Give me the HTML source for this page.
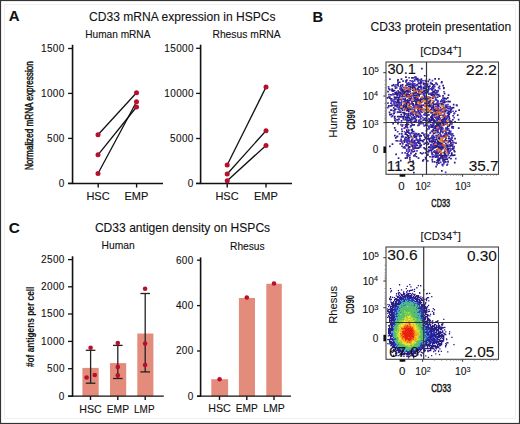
<!DOCTYPE html>
<html><head><meta charset="utf-8"><style>
html,body{margin:0;padding:0;background:#fff;}
svg{display:block;font-family:"Liberation Sans", sans-serif;}
text{stroke:#111;stroke-width:0.1px;}
</style></head><body>
<svg width="520" height="424" viewBox="0 0 520 424">
<rect x="0" y="0" width="520" height="424" fill="#fff"/>
<path fill="#2a1d86" d="M421.0 67.7h1.7v1.7h-1.7zM423.9 74.9h1.7v1.7h-1.7zM405.1 76.2h1.7v1.7h-1.7zM414.1 76.2h1.7v1.7h-1.7zM411.1 77.1h1.7v1.7h-1.7zM412.3 76.9h1.7v1.7h-1.7zM414.9 76.9h1.7v1.7h-1.7zM400.6 78.3h1.7v1.7h-1.7zM415.3 78.3h1.7v1.7h-1.7zM416.9 77.8h1.7v1.7h-1.7zM420.6 78.2h1.7v1.7h-1.7zM434.3 78.1h1.7v1.7h-1.7zM438.0 78.0h1.7v1.7h-1.7zM397.2 78.9h1.7v1.7h-1.7zM406.0 79.2h1.7v1.7h-1.7zM416.3 78.7h1.7v1.7h-1.7zM428.7 78.7h1.7v1.7h-1.7zM397.0 80.0h1.7v1.7h-1.7zM402.2 80.2h1.7v1.7h-1.7zM405.1 80.2h1.7v1.7h-1.7zM405.6 79.7h1.7v1.7h-1.7zM411.2 80.2h1.7v1.7h-1.7zM412.1 80.4h1.7v1.7h-1.7zM417.8 79.6h1.7v1.7h-1.7zM420.1 80.0h1.7v1.7h-1.7zM398.9 81.4h1.7v1.7h-1.7zM419.8 80.8h1.7v1.7h-1.7zM425.2 80.9h1.7v1.7h-1.7zM427.4 80.6h1.7v1.7h-1.7zM441.0 81.0h1.7v1.7h-1.7zM397.3 82.1h1.7v1.7h-1.7zM417.7 82.2h1.7v1.7h-1.7zM419.6 81.7h1.7v1.7h-1.7zM420.6 82.0h1.7v1.7h-1.7zM422.8 82.3h1.7v1.7h-1.7zM435.2 82.2h1.7v1.7h-1.7zM440.7 81.8h1.7v1.7h-1.7zM406.2 82.8h1.7v1.7h-1.7zM408.2 83.3h1.7v1.7h-1.7zM411.7 83.2h1.7v1.7h-1.7zM413.9 82.9h1.7v1.7h-1.7zM419.3 82.8h1.7v1.7h-1.7zM424.3 83.0h1.7v1.7h-1.7zM425.0 83.1h1.7v1.7h-1.7zM425.9 83.3h1.7v1.7h-1.7zM429.7 82.8h1.7v1.7h-1.7zM431.3 83.1h1.7v1.7h-1.7zM392.8 84.1h1.7v1.7h-1.7zM397.0 83.8h1.7v1.7h-1.7zM400.0 84.4h1.7v1.7h-1.7zM401.8 84.1h1.7v1.7h-1.7zM406.8 84.0h1.7v1.7h-1.7zM409.0 83.9h1.7v1.7h-1.7zM410.7 84.0h1.7v1.7h-1.7zM412.1 83.8h1.7v1.7h-1.7zM416.1 83.9h1.7v1.7h-1.7zM416.7 83.8h1.7v1.7h-1.7zM422.7 83.6h1.7v1.7h-1.7zM425.3 84.2h1.7v1.7h-1.7zM432.1 83.9h1.7v1.7h-1.7zM436.4 83.6h1.7v1.7h-1.7zM391.3 84.8h1.7v1.7h-1.7zM391.7 84.9h1.7v1.7h-1.7zM397.3 84.8h1.7v1.7h-1.7zM405.1 84.7h1.7v1.7h-1.7zM412.0 85.2h1.7v1.7h-1.7zM413.0 85.0h1.7v1.7h-1.7zM414.7 84.8h1.7v1.7h-1.7zM424.7 84.9h1.7v1.7h-1.7zM426.3 84.8h1.7v1.7h-1.7zM428.9 85.2h1.7v1.7h-1.7zM433.0 85.1h1.7v1.7h-1.7zM438.6 85.4h1.7v1.7h-1.7zM442.3 84.7h1.7v1.7h-1.7zM394.3 85.6h1.7v1.7h-1.7zM399.4 86.0h1.7v1.7h-1.7zM407.8 85.8h1.7v1.7h-1.7zM409.3 85.9h1.7v1.7h-1.7zM411.4 86.1h1.7v1.7h-1.7zM412.0 86.4h1.7v1.7h-1.7zM413.1 86.1h1.7v1.7h-1.7zM418.0 85.7h1.7v1.7h-1.7zM419.2 86.3h1.7v1.7h-1.7zM419.7 86.1h1.7v1.7h-1.7zM420.7 86.2h1.7v1.7h-1.7zM423.2 86.3h1.7v1.7h-1.7zM425.2 86.1h1.7v1.7h-1.7zM427.4 85.7h1.7v1.7h-1.7zM431.9 86.1h1.7v1.7h-1.7zM394.7 87.4h1.7v1.7h-1.7zM403.1 86.7h1.7v1.7h-1.7zM406.1 87.3h1.7v1.7h-1.7zM409.7 86.7h1.7v1.7h-1.7zM411.9 87.2h1.7v1.7h-1.7zM413.9 87.1h1.7v1.7h-1.7zM417.4 87.1h1.7v1.7h-1.7zM420.3 87.2h1.7v1.7h-1.7zM422.9 87.1h1.7v1.7h-1.7zM424.0 86.7h1.7v1.7h-1.7zM425.4 86.7h1.7v1.7h-1.7zM425.7 86.7h1.7v1.7h-1.7zM428.0 87.1h1.7v1.7h-1.7zM431.0 87.3h1.7v1.7h-1.7zM432.8 87.2h1.7v1.7h-1.7zM437.8 86.9h1.7v1.7h-1.7zM443.1 87.1h1.7v1.7h-1.7zM387.9 87.7h1.7v1.7h-1.7zM391.3 88.2h1.7v1.7h-1.7zM399.3 87.9h1.7v1.7h-1.7zM400.2 88.0h1.7v1.7h-1.7zM400.6 88.3h1.7v1.7h-1.7zM408.2 88.1h1.7v1.7h-1.7zM408.9 88.3h1.7v1.7h-1.7zM414.7 87.7h1.7v1.7h-1.7zM416.9 88.0h1.7v1.7h-1.7zM420.4 87.6h1.7v1.7h-1.7zM422.8 87.9h1.7v1.7h-1.7zM423.7 87.7h1.7v1.7h-1.7zM425.0 88.1h1.7v1.7h-1.7zM428.0 88.2h1.7v1.7h-1.7zM430.9 88.4h1.7v1.7h-1.7zM442.9 87.6h1.7v1.7h-1.7zM389.0 88.8h1.7v1.7h-1.7zM391.9 89.3h1.7v1.7h-1.7zM401.7 88.8h1.7v1.7h-1.7zM411.8 89.4h1.7v1.7h-1.7zM414.8 89.0h1.7v1.7h-1.7zM416.7 89.0h1.7v1.7h-1.7zM418.7 89.1h1.7v1.7h-1.7zM427.9 88.9h1.7v1.7h-1.7zM430.9 88.7h1.7v1.7h-1.7zM431.8 89.0h1.7v1.7h-1.7zM434.3 89.3h1.7v1.7h-1.7zM391.1 89.8h1.7v1.7h-1.7zM392.1 90.2h1.7v1.7h-1.7zM393.7 89.7h1.7v1.7h-1.7zM400.3 90.1h1.7v1.7h-1.7zM401.2 89.9h1.7v1.7h-1.7zM402.1 89.9h1.7v1.7h-1.7zM402.7 89.8h1.7v1.7h-1.7zM405.7 90.0h1.7v1.7h-1.7zM407.2 89.8h1.7v1.7h-1.7zM407.9 89.6h1.7v1.7h-1.7zM412.9 89.8h1.7v1.7h-1.7zM415.1 90.2h1.7v1.7h-1.7zM419.1 89.9h1.7v1.7h-1.7zM423.0 90.3h1.7v1.7h-1.7zM424.0 90.0h1.7v1.7h-1.7zM424.7 90.0h1.7v1.7h-1.7zM427.2 90.0h1.7v1.7h-1.7zM436.1 90.0h1.7v1.7h-1.7zM387.2 90.7h1.7v1.7h-1.7zM395.9 91.2h1.7v1.7h-1.7zM398.0 90.9h1.7v1.7h-1.7zM401.9 91.3h1.7v1.7h-1.7zM404.2 91.1h1.7v1.7h-1.7zM405.1 90.8h1.7v1.7h-1.7zM406.8 90.8h1.7v1.7h-1.7zM408.1 91.1h1.7v1.7h-1.7zM414.4 91.0h1.7v1.7h-1.7zM417.7 90.8h1.7v1.7h-1.7zM420.3 91.2h1.7v1.7h-1.7zM422.6 90.9h1.7v1.7h-1.7zM427.0 90.8h1.7v1.7h-1.7zM432.2 91.1h1.7v1.7h-1.7zM433.2 91.3h1.7v1.7h-1.7zM433.7 90.7h1.7v1.7h-1.7zM436.3 90.8h1.7v1.7h-1.7zM394.3 91.9h1.7v1.7h-1.7zM395.3 92.3h1.7v1.7h-1.7zM398.0 92.1h1.7v1.7h-1.7zM398.9 92.1h1.7v1.7h-1.7zM399.7 92.1h1.7v1.7h-1.7zM403.7 91.6h1.7v1.7h-1.7zM409.9 92.4h1.7v1.7h-1.7zM412.3 92.3h1.7v1.7h-1.7zM412.7 92.3h1.7v1.7h-1.7zM413.9 92.2h1.7v1.7h-1.7zM415.3 92.0h1.7v1.7h-1.7zM421.7 91.6h1.7v1.7h-1.7zM424.3 92.1h1.7v1.7h-1.7zM425.2 92.1h1.7v1.7h-1.7zM425.9 91.9h1.7v1.7h-1.7zM426.7 91.6h1.7v1.7h-1.7zM431.1 92.3h1.7v1.7h-1.7zM432.4 91.9h1.7v1.7h-1.7zM434.8 92.3h1.7v1.7h-1.7zM435.8 92.3h1.7v1.7h-1.7zM394.3 93.0h1.7v1.7h-1.7zM395.4 93.2h1.7v1.7h-1.7zM396.6 92.8h1.7v1.7h-1.7zM399.9 92.8h1.7v1.7h-1.7zM401.3 93.3h1.7v1.7h-1.7zM402.7 92.8h1.7v1.7h-1.7zM403.8 93.1h1.7v1.7h-1.7zM417.0 93.0h1.7v1.7h-1.7zM417.8 92.8h1.7v1.7h-1.7zM418.7 93.4h1.7v1.7h-1.7zM419.8 93.1h1.7v1.7h-1.7zM422.4 93.1h1.7v1.7h-1.7zM423.7 93.2h1.7v1.7h-1.7zM428.1 93.3h1.7v1.7h-1.7zM443.7 92.8h1.7v1.7h-1.7zM389.7 93.9h1.7v1.7h-1.7zM392.8 93.9h1.7v1.7h-1.7zM396.3 94.3h1.7v1.7h-1.7zM396.9 93.7h1.7v1.7h-1.7zM398.9 93.9h1.7v1.7h-1.7zM401.9 94.3h1.7v1.7h-1.7zM405.2 94.3h1.7v1.7h-1.7zM406.3 94.1h1.7v1.7h-1.7zM407.0 93.6h1.7v1.7h-1.7zM408.4 94.0h1.7v1.7h-1.7zM412.7 94.1h1.7v1.7h-1.7zM415.7 94.2h1.7v1.7h-1.7zM418.1 94.1h1.7v1.7h-1.7zM422.7 94.0h1.7v1.7h-1.7zM430.1 93.8h1.7v1.7h-1.7zM431.0 94.3h1.7v1.7h-1.7zM431.9 94.0h1.7v1.7h-1.7zM433.2 93.8h1.7v1.7h-1.7zM436.2 94.1h1.7v1.7h-1.7zM437.8 93.7h1.7v1.7h-1.7zM447.7 94.2h1.7v1.7h-1.7zM398.8 95.0h1.7v1.7h-1.7zM402.2 94.7h1.7v1.7h-1.7zM403.6 95.2h1.7v1.7h-1.7zM404.6 94.9h1.7v1.7h-1.7zM409.2 95.3h1.7v1.7h-1.7zM411.0 95.1h1.7v1.7h-1.7zM412.9 95.1h1.7v1.7h-1.7zM414.4 94.6h1.7v1.7h-1.7zM416.3 95.3h1.7v1.7h-1.7zM418.3 95.0h1.7v1.7h-1.7zM423.9 95.0h1.7v1.7h-1.7zM433.8 95.3h1.7v1.7h-1.7zM438.9 95.3h1.7v1.7h-1.7zM442.2 95.1h1.7v1.7h-1.7zM388.3 96.1h1.7v1.7h-1.7zM393.6 96.2h1.7v1.7h-1.7zM396.2 96.2h1.7v1.7h-1.7zM398.7 96.1h1.7v1.7h-1.7zM401.9 95.7h1.7v1.7h-1.7zM406.3 96.1h1.7v1.7h-1.7zM415.1 96.4h1.7v1.7h-1.7zM424.1 96.3h1.7v1.7h-1.7zM433.0 96.1h1.7v1.7h-1.7zM386.7 97.1h1.7v1.7h-1.7zM389.0 97.3h1.7v1.7h-1.7zM395.0 96.8h1.7v1.7h-1.7zM396.0 96.9h1.7v1.7h-1.7zM397.4 96.8h1.7v1.7h-1.7zM397.8 96.8h1.7v1.7h-1.7zM404.3 97.4h1.7v1.7h-1.7zM408.2 97.2h1.7v1.7h-1.7zM409.0 97.3h1.7v1.7h-1.7zM413.2 97.0h1.7v1.7h-1.7zM414.2 97.2h1.7v1.7h-1.7zM414.8 96.7h1.7v1.7h-1.7zM416.8 97.2h1.7v1.7h-1.7zM421.8 96.6h1.7v1.7h-1.7zM424.9 97.2h1.7v1.7h-1.7zM428.8 97.2h1.7v1.7h-1.7zM432.1 97.2h1.7v1.7h-1.7zM442.9 97.3h1.7v1.7h-1.7zM446.9 97.1h1.7v1.7h-1.7zM390.3 98.1h1.7v1.7h-1.7zM391.0 98.2h1.7v1.7h-1.7zM394.4 97.8h1.7v1.7h-1.7zM404.3 98.3h1.7v1.7h-1.7zM409.7 97.9h1.7v1.7h-1.7zM410.7 97.9h1.7v1.7h-1.7zM416.3 98.2h1.7v1.7h-1.7zM417.0 98.3h1.7v1.7h-1.7zM419.8 98.0h1.7v1.7h-1.7zM422.7 97.8h1.7v1.7h-1.7zM423.7 98.2h1.7v1.7h-1.7zM427.0 97.8h1.7v1.7h-1.7zM434.7 98.2h1.7v1.7h-1.7zM444.0 97.6h1.7v1.7h-1.7zM445.4 98.1h1.7v1.7h-1.7zM393.4 98.6h1.7v1.7h-1.7zM396.6 98.9h1.7v1.7h-1.7zM398.1 98.6h1.7v1.7h-1.7zM403.9 99.1h1.7v1.7h-1.7zM406.8 99.1h1.7v1.7h-1.7zM409.4 98.7h1.7v1.7h-1.7zM413.6 99.2h1.7v1.7h-1.7zM414.8 99.0h1.7v1.7h-1.7zM418.2 99.2h1.7v1.7h-1.7zM419.8 99.3h1.7v1.7h-1.7zM421.0 98.7h1.7v1.7h-1.7zM424.1 99.3h1.7v1.7h-1.7zM425.2 98.8h1.7v1.7h-1.7zM429.3 99.0h1.7v1.7h-1.7zM435.8 99.3h1.7v1.7h-1.7zM390.7 100.1h1.7v1.7h-1.7zM392.9 100.4h1.7v1.7h-1.7zM396.8 100.1h1.7v1.7h-1.7zM397.9 100.3h1.7v1.7h-1.7zM405.0 99.7h1.7v1.7h-1.7zM405.9 99.7h1.7v1.7h-1.7zM407.8 99.9h1.7v1.7h-1.7zM408.9 99.8h1.7v1.7h-1.7zM413.1 100.2h1.7v1.7h-1.7zM416.0 100.4h1.7v1.7h-1.7zM416.8 100.1h1.7v1.7h-1.7zM419.3 100.3h1.7v1.7h-1.7zM426.0 99.6h1.7v1.7h-1.7zM429.3 100.0h1.7v1.7h-1.7zM432.9 100.2h1.7v1.7h-1.7zM437.2 100.2h1.7v1.7h-1.7zM439.9 100.4h1.7v1.7h-1.7zM440.9 100.1h1.7v1.7h-1.7zM442.8 99.7h1.7v1.7h-1.7zM443.9 100.2h1.7v1.7h-1.7zM394.7 100.8h1.7v1.7h-1.7zM403.1 100.7h1.7v1.7h-1.7zM403.8 101.3h1.7v1.7h-1.7zM406.7 101.1h1.7v1.7h-1.7zM411.2 100.8h1.7v1.7h-1.7zM411.7 100.6h1.7v1.7h-1.7zM415.0 101.0h1.7v1.7h-1.7zM418.7 100.7h1.7v1.7h-1.7zM420.2 101.4h1.7v1.7h-1.7zM421.7 100.9h1.7v1.7h-1.7zM427.3 100.8h1.7v1.7h-1.7zM428.7 100.9h1.7v1.7h-1.7zM440.1 100.9h1.7v1.7h-1.7zM444.0 101.3h1.7v1.7h-1.7zM447.3 100.6h1.7v1.7h-1.7zM448.2 100.8h1.7v1.7h-1.7zM449.2 100.8h1.7v1.7h-1.7zM390.1 102.4h1.7v1.7h-1.7zM395.9 102.1h1.7v1.7h-1.7zM396.7 101.7h1.7v1.7h-1.7zM398.1 101.8h1.7v1.7h-1.7zM398.8 102.1h1.7v1.7h-1.7zM400.7 102.0h1.7v1.7h-1.7zM404.3 101.6h1.7v1.7h-1.7zM406.2 102.0h1.7v1.7h-1.7zM407.3 102.3h1.7v1.7h-1.7zM408.0 101.8h1.7v1.7h-1.7zM408.7 102.4h1.7v1.7h-1.7zM415.8 101.7h1.7v1.7h-1.7zM424.1 102.2h1.7v1.7h-1.7zM427.3 102.4h1.7v1.7h-1.7zM428.9 102.0h1.7v1.7h-1.7zM432.2 102.1h1.7v1.7h-1.7zM436.6 101.8h1.7v1.7h-1.7zM442.2 101.8h1.7v1.7h-1.7zM443.6 101.8h1.7v1.7h-1.7zM403.4 103.4h1.7v1.7h-1.7zM403.8 103.4h1.7v1.7h-1.7zM405.4 102.6h1.7v1.7h-1.7zM405.9 103.4h1.7v1.7h-1.7zM411.1 102.6h1.7v1.7h-1.7zM412.3 103.1h1.7v1.7h-1.7zM415.2 102.7h1.7v1.7h-1.7zM425.0 103.2h1.7v1.7h-1.7zM425.9 103.1h1.7v1.7h-1.7zM431.1 102.8h1.7v1.7h-1.7zM434.4 103.3h1.7v1.7h-1.7zM435.0 103.3h1.7v1.7h-1.7zM437.1 103.2h1.7v1.7h-1.7zM440.8 102.9h1.7v1.7h-1.7zM391.2 104.2h1.7v1.7h-1.7zM395.8 104.3h1.7v1.7h-1.7zM396.9 103.9h1.7v1.7h-1.7zM400.4 104.0h1.7v1.7h-1.7zM408.8 104.0h1.7v1.7h-1.7zM412.2 104.3h1.7v1.7h-1.7zM413.0 104.4h1.7v1.7h-1.7zM414.9 104.0h1.7v1.7h-1.7zM416.3 104.0h1.7v1.7h-1.7zM417.0 103.7h1.7v1.7h-1.7zM418.9 103.8h1.7v1.7h-1.7zM422.4 104.3h1.7v1.7h-1.7zM422.7 104.2h1.7v1.7h-1.7zM425.7 103.8h1.7v1.7h-1.7zM428.7 103.9h1.7v1.7h-1.7zM430.2 103.6h1.7v1.7h-1.7zM433.0 103.8h1.7v1.7h-1.7zM435.0 103.8h1.7v1.7h-1.7zM436.1 103.6h1.7v1.7h-1.7zM437.7 104.3h1.7v1.7h-1.7zM440.7 104.3h1.7v1.7h-1.7zM441.8 103.7h1.7v1.7h-1.7zM442.7 104.3h1.7v1.7h-1.7zM445.8 104.4h1.7v1.7h-1.7zM452.8 103.7h1.7v1.7h-1.7zM455.7 104.3h1.7v1.7h-1.7zM388.1 104.9h1.7v1.7h-1.7zM390.1 105.0h1.7v1.7h-1.7zM391.0 104.7h1.7v1.7h-1.7zM394.2 105.1h1.7v1.7h-1.7zM395.0 104.7h1.7v1.7h-1.7zM395.8 105.1h1.7v1.7h-1.7zM396.9 104.6h1.7v1.7h-1.7zM399.0 105.3h1.7v1.7h-1.7zM402.4 105.1h1.7v1.7h-1.7zM403.8 105.2h1.7v1.7h-1.7zM405.1 104.9h1.7v1.7h-1.7zM405.8 104.9h1.7v1.7h-1.7zM408.0 105.3h1.7v1.7h-1.7zM419.0 104.7h1.7v1.7h-1.7zM420.9 105.0h1.7v1.7h-1.7zM425.1 105.3h1.7v1.7h-1.7zM427.1 104.7h1.7v1.7h-1.7zM428.7 105.1h1.7v1.7h-1.7zM430.0 105.1h1.7v1.7h-1.7zM432.2 105.0h1.7v1.7h-1.7zM437.0 105.1h1.7v1.7h-1.7zM437.9 105.2h1.7v1.7h-1.7zM442.3 105.4h1.7v1.7h-1.7zM387.8 105.8h1.7v1.7h-1.7zM396.4 106.0h1.7v1.7h-1.7zM405.2 106.4h1.7v1.7h-1.7zM408.9 106.4h1.7v1.7h-1.7zM410.4 106.2h1.7v1.7h-1.7zM414.3 106.3h1.7v1.7h-1.7zM416.2 106.0h1.7v1.7h-1.7zM416.6 105.9h1.7v1.7h-1.7zM419.0 105.8h1.7v1.7h-1.7zM420.3 106.3h1.7v1.7h-1.7zM426.9 105.7h1.7v1.7h-1.7zM427.8 105.9h1.7v1.7h-1.7zM429.3 105.9h1.7v1.7h-1.7zM433.6 106.4h1.7v1.7h-1.7zM437.0 105.7h1.7v1.7h-1.7zM442.9 106.3h1.7v1.7h-1.7zM445.1 105.8h1.7v1.7h-1.7zM445.8 106.2h1.7v1.7h-1.7zM449.2 105.8h1.7v1.7h-1.7zM392.9 107.1h1.7v1.7h-1.7zM398.3 107.0h1.7v1.7h-1.7zM400.1 107.3h1.7v1.7h-1.7zM402.4 106.7h1.7v1.7h-1.7zM404.3 107.3h1.7v1.7h-1.7zM404.8 107.0h1.7v1.7h-1.7zM405.7 106.7h1.7v1.7h-1.7zM407.2 107.1h1.7v1.7h-1.7zM411.0 107.0h1.7v1.7h-1.7zM413.2 106.6h1.7v1.7h-1.7zM417.6 107.2h1.7v1.7h-1.7zM418.8 107.1h1.7v1.7h-1.7zM420.0 106.8h1.7v1.7h-1.7zM421.0 106.9h1.7v1.7h-1.7zM431.0 107.1h1.7v1.7h-1.7zM431.9 106.7h1.7v1.7h-1.7zM432.8 106.8h1.7v1.7h-1.7zM439.6 106.7h1.7v1.7h-1.7zM444.0 107.4h1.7v1.7h-1.7zM446.0 106.6h1.7v1.7h-1.7zM451.1 107.0h1.7v1.7h-1.7zM452.7 106.7h1.7v1.7h-1.7zM394.9 108.2h1.7v1.7h-1.7zM401.0 107.8h1.7v1.7h-1.7zM405.1 108.2h1.7v1.7h-1.7zM406.9 108.4h1.7v1.7h-1.7zM409.2 108.0h1.7v1.7h-1.7zM417.1 108.4h1.7v1.7h-1.7zM419.7 108.3h1.7v1.7h-1.7zM420.7 108.0h1.7v1.7h-1.7zM425.7 107.7h1.7v1.7h-1.7zM430.7 108.4h1.7v1.7h-1.7zM432.9 108.3h1.7v1.7h-1.7zM437.2 107.7h1.7v1.7h-1.7zM441.9 108.3h1.7v1.7h-1.7zM448.1 107.7h1.7v1.7h-1.7zM450.7 108.1h1.7v1.7h-1.7zM390.1 109.2h1.7v1.7h-1.7zM390.8 109.3h1.7v1.7h-1.7zM394.0 108.8h1.7v1.7h-1.7zM398.8 109.2h1.7v1.7h-1.7zM401.6 109.4h1.7v1.7h-1.7zM403.7 109.0h1.7v1.7h-1.7zM407.2 109.3h1.7v1.7h-1.7zM407.8 109.0h1.7v1.7h-1.7zM410.1 108.9h1.7v1.7h-1.7zM412.2 108.7h1.7v1.7h-1.7zM417.3 109.2h1.7v1.7h-1.7zM429.8 109.1h1.7v1.7h-1.7zM433.0 108.7h1.7v1.7h-1.7zM433.9 109.1h1.7v1.7h-1.7zM434.8 108.9h1.7v1.7h-1.7zM437.2 109.1h1.7v1.7h-1.7zM440.1 109.0h1.7v1.7h-1.7zM445.1 109.3h1.7v1.7h-1.7zM450.0 108.8h1.7v1.7h-1.7zM458.3 109.3h1.7v1.7h-1.7zM393.7 109.6h1.7v1.7h-1.7zM405.9 109.9h1.7v1.7h-1.7zM406.8 109.7h1.7v1.7h-1.7zM412.1 110.1h1.7v1.7h-1.7zM413.8 110.1h1.7v1.7h-1.7zM417.6 109.8h1.7v1.7h-1.7zM419.8 109.8h1.7v1.7h-1.7zM428.3 110.1h1.7v1.7h-1.7zM434.1 109.9h1.7v1.7h-1.7zM435.3 109.8h1.7v1.7h-1.7zM437.1 109.8h1.7v1.7h-1.7zM439.2 109.8h1.7v1.7h-1.7zM443.4 110.0h1.7v1.7h-1.7zM445.2 109.6h1.7v1.7h-1.7zM448.3 110.4h1.7v1.7h-1.7zM449.9 110.3h1.7v1.7h-1.7zM455.0 110.4h1.7v1.7h-1.7zM396.9 111.2h1.7v1.7h-1.7zM398.7 111.4h1.7v1.7h-1.7zM400.0 111.2h1.7v1.7h-1.7zM408.0 110.7h1.7v1.7h-1.7zM410.3 111.4h1.7v1.7h-1.7zM412.4 110.9h1.7v1.7h-1.7zM412.7 111.1h1.7v1.7h-1.7zM415.3 111.3h1.7v1.7h-1.7zM417.3 111.1h1.7v1.7h-1.7zM421.2 111.4h1.7v1.7h-1.7zM426.4 111.2h1.7v1.7h-1.7zM427.2 111.4h1.7v1.7h-1.7zM428.2 110.7h1.7v1.7h-1.7zM433.3 111.0h1.7v1.7h-1.7zM434.3 111.3h1.7v1.7h-1.7zM436.9 110.7h1.7v1.7h-1.7zM441.6 110.8h1.7v1.7h-1.7zM444.4 110.7h1.7v1.7h-1.7zM444.6 110.6h1.7v1.7h-1.7zM447.8 110.9h1.7v1.7h-1.7zM450.1 111.4h1.7v1.7h-1.7zM388.7 111.6h1.7v1.7h-1.7zM393.3 112.3h1.7v1.7h-1.7zM402.1 111.7h1.7v1.7h-1.7zM403.7 111.8h1.7v1.7h-1.7zM412.2 111.7h1.7v1.7h-1.7zM415.2 112.2h1.7v1.7h-1.7zM418.8 112.0h1.7v1.7h-1.7zM424.1 112.3h1.7v1.7h-1.7zM425.3 111.7h1.7v1.7h-1.7zM430.2 112.1h1.7v1.7h-1.7zM431.0 111.7h1.7v1.7h-1.7zM431.8 111.8h1.7v1.7h-1.7zM434.1 111.6h1.7v1.7h-1.7zM436.0 112.1h1.7v1.7h-1.7zM437.6 111.6h1.7v1.7h-1.7zM446.6 112.3h1.7v1.7h-1.7zM448.0 112.1h1.7v1.7h-1.7zM392.7 112.9h1.7v1.7h-1.7zM403.4 113.1h1.7v1.7h-1.7zM403.9 113.1h1.7v1.7h-1.7zM405.0 113.0h1.7v1.7h-1.7zM407.3 113.0h1.7v1.7h-1.7zM409.3 112.9h1.7v1.7h-1.7zM410.8 113.2h1.7v1.7h-1.7zM418.1 112.9h1.7v1.7h-1.7zM434.0 113.0h1.7v1.7h-1.7zM437.7 113.0h1.7v1.7h-1.7zM439.9 112.7h1.7v1.7h-1.7zM447.9 113.4h1.7v1.7h-1.7zM448.7 112.8h1.7v1.7h-1.7zM453.3 112.8h1.7v1.7h-1.7zM389.0 113.8h1.7v1.7h-1.7zM390.4 113.6h1.7v1.7h-1.7zM400.3 113.7h1.7v1.7h-1.7zM407.2 114.3h1.7v1.7h-1.7zM412.3 114.2h1.7v1.7h-1.7zM412.6 113.8h1.7v1.7h-1.7zM415.9 113.6h1.7v1.7h-1.7zM419.7 113.7h1.7v1.7h-1.7zM426.1 114.3h1.7v1.7h-1.7zM428.0 114.1h1.7v1.7h-1.7zM431.9 113.7h1.7v1.7h-1.7zM435.6 114.1h1.7v1.7h-1.7zM439.6 114.4h1.7v1.7h-1.7zM447.3 114.4h1.7v1.7h-1.7zM448.2 113.7h1.7v1.7h-1.7zM456.9 114.3h1.7v1.7h-1.7zM391.8 115.1h1.7v1.7h-1.7zM403.4 114.8h1.7v1.7h-1.7zM407.4 114.8h1.7v1.7h-1.7zM409.3 114.9h1.7v1.7h-1.7zM415.3 114.8h1.7v1.7h-1.7zM416.1 115.2h1.7v1.7h-1.7zM417.8 115.3h1.7v1.7h-1.7zM420.8 115.4h1.7v1.7h-1.7zM426.3 114.9h1.7v1.7h-1.7zM431.1 114.7h1.7v1.7h-1.7zM433.2 114.6h1.7v1.7h-1.7zM435.6 115.4h1.7v1.7h-1.7zM438.3 115.0h1.7v1.7h-1.7zM438.7 114.6h1.7v1.7h-1.7zM442.2 114.8h1.7v1.7h-1.7zM446.6 115.2h1.7v1.7h-1.7zM452.2 114.9h1.7v1.7h-1.7zM394.0 115.8h1.7v1.7h-1.7zM396.9 115.8h1.7v1.7h-1.7zM398.3 115.8h1.7v1.7h-1.7zM399.7 116.1h1.7v1.7h-1.7zM401.3 115.8h1.7v1.7h-1.7zM402.7 115.9h1.7v1.7h-1.7zM404.7 116.2h1.7v1.7h-1.7zM406.1 116.4h1.7v1.7h-1.7zM407.1 115.7h1.7v1.7h-1.7zM410.9 116.2h1.7v1.7h-1.7zM413.4 116.1h1.7v1.7h-1.7zM417.7 116.2h1.7v1.7h-1.7zM430.0 116.2h1.7v1.7h-1.7zM431.0 116.1h1.7v1.7h-1.7zM431.7 116.3h1.7v1.7h-1.7zM436.2 115.6h1.7v1.7h-1.7zM436.9 116.3h1.7v1.7h-1.7zM437.7 116.3h1.7v1.7h-1.7zM443.3 115.9h1.7v1.7h-1.7zM444.3 116.3h1.7v1.7h-1.7zM448.2 116.1h1.7v1.7h-1.7zM393.7 117.0h1.7v1.7h-1.7zM402.7 117.0h1.7v1.7h-1.7zM405.3 117.1h1.7v1.7h-1.7zM408.1 116.9h1.7v1.7h-1.7zM412.9 117.2h1.7v1.7h-1.7zM435.0 117.1h1.7v1.7h-1.7zM438.3 116.6h1.7v1.7h-1.7zM442.6 117.2h1.7v1.7h-1.7zM446.3 116.9h1.7v1.7h-1.7zM402.3 117.7h1.7v1.7h-1.7zM406.7 117.6h1.7v1.7h-1.7zM409.0 117.8h1.7v1.7h-1.7zM411.2 117.7h1.7v1.7h-1.7zM414.6 118.1h1.7v1.7h-1.7zM423.6 117.7h1.7v1.7h-1.7zM428.7 117.9h1.7v1.7h-1.7zM430.9 117.9h1.7v1.7h-1.7zM432.3 118.0h1.7v1.7h-1.7zM436.2 118.3h1.7v1.7h-1.7zM437.1 117.6h1.7v1.7h-1.7zM437.8 118.2h1.7v1.7h-1.7zM443.4 118.4h1.7v1.7h-1.7zM444.0 117.7h1.7v1.7h-1.7zM445.7 118.2h1.7v1.7h-1.7zM448.7 117.7h1.7v1.7h-1.7zM394.0 119.2h1.7v1.7h-1.7zM396.2 118.9h1.7v1.7h-1.7zM396.8 119.0h1.7v1.7h-1.7zM397.8 118.6h1.7v1.7h-1.7zM404.6 118.8h1.7v1.7h-1.7zM409.8 119.1h1.7v1.7h-1.7zM411.6 118.7h1.7v1.7h-1.7zM415.6 119.3h1.7v1.7h-1.7zM418.7 119.2h1.7v1.7h-1.7zM422.3 119.4h1.7v1.7h-1.7zM423.8 119.0h1.7v1.7h-1.7zM428.3 118.7h1.7v1.7h-1.7zM430.0 119.3h1.7v1.7h-1.7zM431.8 119.0h1.7v1.7h-1.7zM433.7 119.3h1.7v1.7h-1.7zM440.6 119.3h1.7v1.7h-1.7zM441.9 118.8h1.7v1.7h-1.7zM444.7 118.9h1.7v1.7h-1.7zM452.0 118.9h1.7v1.7h-1.7zM457.8 118.7h1.7v1.7h-1.7zM400.7 120.1h1.7v1.7h-1.7zM406.0 120.0h1.7v1.7h-1.7zM407.3 120.0h1.7v1.7h-1.7zM408.2 119.7h1.7v1.7h-1.7zM425.0 119.7h1.7v1.7h-1.7zM426.2 119.6h1.7v1.7h-1.7zM429.1 120.2h1.7v1.7h-1.7zM430.2 119.8h1.7v1.7h-1.7zM432.6 119.7h1.7v1.7h-1.7zM434.0 120.1h1.7v1.7h-1.7zM436.4 119.7h1.7v1.7h-1.7zM439.7 120.1h1.7v1.7h-1.7zM442.6 120.2h1.7v1.7h-1.7zM444.8 120.4h1.7v1.7h-1.7zM449.2 120.2h1.7v1.7h-1.7zM449.7 120.2h1.7v1.7h-1.7zM410.1 120.7h1.7v1.7h-1.7zM414.0 120.9h1.7v1.7h-1.7zM415.1 120.8h1.7v1.7h-1.7zM417.9 121.1h1.7v1.7h-1.7zM419.9 120.8h1.7v1.7h-1.7zM420.7 120.7h1.7v1.7h-1.7zM427.9 120.7h1.7v1.7h-1.7zM429.2 120.7h1.7v1.7h-1.7zM433.1 120.6h1.7v1.7h-1.7zM434.3 120.7h1.7v1.7h-1.7zM437.7 121.3h1.7v1.7h-1.7zM438.6 120.8h1.7v1.7h-1.7zM440.2 121.3h1.7v1.7h-1.7zM441.9 120.9h1.7v1.7h-1.7zM442.8 120.8h1.7v1.7h-1.7zM444.3 120.7h1.7v1.7h-1.7zM445.2 121.0h1.7v1.7h-1.7zM450.8 120.8h1.7v1.7h-1.7zM454.2 120.9h1.7v1.7h-1.7zM406.1 122.4h1.7v1.7h-1.7zM411.0 121.7h1.7v1.7h-1.7zM420.7 121.9h1.7v1.7h-1.7zM426.3 121.8h1.7v1.7h-1.7zM432.3 122.1h1.7v1.7h-1.7zM433.9 122.1h1.7v1.7h-1.7zM436.0 122.2h1.7v1.7h-1.7zM439.6 122.2h1.7v1.7h-1.7zM442.6 122.1h1.7v1.7h-1.7zM446.3 122.1h1.7v1.7h-1.7zM449.1 121.6h1.7v1.7h-1.7zM449.8 121.9h1.7v1.7h-1.7zM392.3 122.9h1.7v1.7h-1.7zM397.1 122.7h1.7v1.7h-1.7zM418.3 122.8h1.7v1.7h-1.7zM419.8 122.8h1.7v1.7h-1.7zM436.0 122.8h1.7v1.7h-1.7zM437.2 123.2h1.7v1.7h-1.7zM438.0 122.6h1.7v1.7h-1.7zM439.7 123.3h1.7v1.7h-1.7zM441.7 122.7h1.7v1.7h-1.7zM443.0 122.7h1.7v1.7h-1.7zM401.8 124.2h1.7v1.7h-1.7zM404.7 124.1h1.7v1.7h-1.7zM406.0 124.0h1.7v1.7h-1.7zM407.6 123.6h1.7v1.7h-1.7zM411.7 124.0h1.7v1.7h-1.7zM413.4 124.0h1.7v1.7h-1.7zM425.0 124.1h1.7v1.7h-1.7zM426.7 124.4h1.7v1.7h-1.7zM429.9 123.7h1.7v1.7h-1.7zM431.8 124.3h1.7v1.7h-1.7zM436.1 124.1h1.7v1.7h-1.7zM437.3 123.6h1.7v1.7h-1.7zM439.2 123.6h1.7v1.7h-1.7zM443.0 124.2h1.7v1.7h-1.7zM447.2 124.1h1.7v1.7h-1.7zM447.7 124.4h1.7v1.7h-1.7zM448.8 124.1h1.7v1.7h-1.7zM406.1 125.2h1.7v1.7h-1.7zM410.1 125.0h1.7v1.7h-1.7zM417.2 124.6h1.7v1.7h-1.7zM424.6 124.6h1.7v1.7h-1.7zM430.8 125.3h1.7v1.7h-1.7zM432.3 124.8h1.7v1.7h-1.7zM434.6 124.9h1.7v1.7h-1.7zM436.6 125.0h1.7v1.7h-1.7zM437.7 125.0h1.7v1.7h-1.7zM439.0 125.1h1.7v1.7h-1.7zM448.2 125.0h1.7v1.7h-1.7zM404.9 126.1h1.7v1.7h-1.7zM428.2 125.8h1.7v1.7h-1.7zM430.3 126.2h1.7v1.7h-1.7zM431.8 126.3h1.7v1.7h-1.7zM433.9 126.1h1.7v1.7h-1.7zM435.2 126.0h1.7v1.7h-1.7zM446.9 125.6h1.7v1.7h-1.7zM451.2 125.8h1.7v1.7h-1.7zM452.4 126.0h1.7v1.7h-1.7zM393.9 127.0h1.7v1.7h-1.7zM406.7 126.9h1.7v1.7h-1.7zM428.1 126.7h1.7v1.7h-1.7zM433.9 127.3h1.7v1.7h-1.7zM437.6 126.8h1.7v1.7h-1.7zM439.7 126.7h1.7v1.7h-1.7zM440.9 126.7h1.7v1.7h-1.7zM441.7 127.3h1.7v1.7h-1.7zM445.2 127.2h1.7v1.7h-1.7zM446.4 127.3h1.7v1.7h-1.7zM451.1 126.8h1.7v1.7h-1.7zM457.9 127.3h1.7v1.7h-1.7zM411.4 128.4h1.7v1.7h-1.7zM435.1 127.8h1.7v1.7h-1.7zM437.0 128.4h1.7v1.7h-1.7zM441.0 127.8h1.7v1.7h-1.7zM394.7 129.2h1.7v1.7h-1.7zM405.9 129.2h1.7v1.7h-1.7zM407.9 129.2h1.7v1.7h-1.7zM410.6 129.1h1.7v1.7h-1.7zM432.3 128.9h1.7v1.7h-1.7zM432.7 128.6h1.7v1.7h-1.7zM440.0 128.7h1.7v1.7h-1.7zM444.7 129.3h1.7v1.7h-1.7zM446.6 129.0h1.7v1.7h-1.7zM401.3 130.4h1.7v1.7h-1.7zM411.4 129.7h1.7v1.7h-1.7zM425.7 130.1h1.7v1.7h-1.7zM431.8 130.4h1.7v1.7h-1.7zM433.0 130.2h1.7v1.7h-1.7zM434.8 129.7h1.7v1.7h-1.7zM435.6 129.9h1.7v1.7h-1.7zM436.8 130.0h1.7v1.7h-1.7zM440.3 130.2h1.7v1.7h-1.7zM443.6 130.1h1.7v1.7h-1.7zM448.4 129.9h1.7v1.7h-1.7zM406.0 131.2h1.7v1.7h-1.7zM406.6 131.1h1.7v1.7h-1.7zM407.7 131.2h1.7v1.7h-1.7zM411.8 130.8h1.7v1.7h-1.7zM412.8 130.7h1.7v1.7h-1.7zM431.8 130.8h1.7v1.7h-1.7zM437.2 131.2h1.7v1.7h-1.7zM439.9 130.8h1.7v1.7h-1.7zM444.9 130.8h1.7v1.7h-1.7zM449.1 131.4h1.7v1.7h-1.7zM405.1 132.0h1.7v1.7h-1.7zM408.2 132.3h1.7v1.7h-1.7zM410.7 131.9h1.7v1.7h-1.7zM421.2 132.2h1.7v1.7h-1.7zM433.4 132.2h1.7v1.7h-1.7zM434.9 131.7h1.7v1.7h-1.7zM439.2 132.2h1.7v1.7h-1.7zM442.0 131.8h1.7v1.7h-1.7zM445.3 132.2h1.7v1.7h-1.7zM447.3 132.1h1.7v1.7h-1.7zM400.9 132.8h1.7v1.7h-1.7zM404.4 133.3h1.7v1.7h-1.7zM404.7 133.3h1.7v1.7h-1.7zM409.1 132.9h1.7v1.7h-1.7zM414.2 133.3h1.7v1.7h-1.7zM415.6 132.7h1.7v1.7h-1.7zM417.9 133.1h1.7v1.7h-1.7zM425.6 133.1h1.7v1.7h-1.7zM432.7 132.7h1.7v1.7h-1.7zM447.7 132.7h1.7v1.7h-1.7zM449.2 133.0h1.7v1.7h-1.7zM406.3 134.0h1.7v1.7h-1.7zM413.9 133.9h1.7v1.7h-1.7zM417.1 133.8h1.7v1.7h-1.7zM422.9 134.0h1.7v1.7h-1.7zM425.7 133.7h1.7v1.7h-1.7zM427.8 134.3h1.7v1.7h-1.7zM437.7 133.8h1.7v1.7h-1.7zM445.0 134.0h1.7v1.7h-1.7zM446.7 134.3h1.7v1.7h-1.7zM450.4 134.1h1.7v1.7h-1.7zM394.0 134.8h1.7v1.7h-1.7zM407.2 135.1h1.7v1.7h-1.7zM407.8 135.0h1.7v1.7h-1.7zM413.1 135.0h1.7v1.7h-1.7zM414.7 135.4h1.7v1.7h-1.7zM415.8 135.2h1.7v1.7h-1.7zM419.3 134.6h1.7v1.7h-1.7zM420.3 135.1h1.7v1.7h-1.7zM431.8 134.8h1.7v1.7h-1.7zM432.8 135.4h1.7v1.7h-1.7zM435.3 134.8h1.7v1.7h-1.7zM439.7 134.8h1.7v1.7h-1.7zM442.8 134.7h1.7v1.7h-1.7zM444.2 135.2h1.7v1.7h-1.7zM452.6 134.9h1.7v1.7h-1.7zM396.2 135.7h1.7v1.7h-1.7zM396.7 135.6h1.7v1.7h-1.7zM400.8 136.0h1.7v1.7h-1.7zM402.1 136.1h1.7v1.7h-1.7zM407.1 135.6h1.7v1.7h-1.7zM410.7 135.8h1.7v1.7h-1.7zM413.4 136.4h1.7v1.7h-1.7zM415.3 136.2h1.7v1.7h-1.7zM418.6 135.6h1.7v1.7h-1.7zM427.3 135.7h1.7v1.7h-1.7zM438.9 135.9h1.7v1.7h-1.7zM440.9 135.8h1.7v1.7h-1.7zM442.9 135.9h1.7v1.7h-1.7zM448.1 135.8h1.7v1.7h-1.7zM394.9 137.1h1.7v1.7h-1.7zM404.6 136.6h1.7v1.7h-1.7zM405.7 136.7h1.7v1.7h-1.7zM407.9 137.0h1.7v1.7h-1.7zM408.7 136.9h1.7v1.7h-1.7zM424.2 136.6h1.7v1.7h-1.7zM424.7 137.0h1.7v1.7h-1.7zM430.8 137.0h1.7v1.7h-1.7zM432.1 137.1h1.7v1.7h-1.7zM433.9 136.8h1.7v1.7h-1.7zM438.2 136.7h1.7v1.7h-1.7zM438.6 137.1h1.7v1.7h-1.7zM445.2 137.3h1.7v1.7h-1.7zM451.3 137.1h1.7v1.7h-1.7zM400.3 138.4h1.7v1.7h-1.7zM404.0 138.3h1.7v1.7h-1.7zM407.2 138.1h1.7v1.7h-1.7zM425.2 137.9h1.7v1.7h-1.7zM427.0 138.0h1.7v1.7h-1.7zM428.0 137.8h1.7v1.7h-1.7zM428.6 137.9h1.7v1.7h-1.7zM429.9 137.7h1.7v1.7h-1.7zM432.2 138.1h1.7v1.7h-1.7zM435.9 138.2h1.7v1.7h-1.7zM437.9 137.7h1.7v1.7h-1.7zM439.3 138.2h1.7v1.7h-1.7zM440.9 138.0h1.7v1.7h-1.7zM447.8 137.8h1.7v1.7h-1.7zM449.3 137.7h1.7v1.7h-1.7zM454.2 137.8h1.7v1.7h-1.7zM404.1 138.8h1.7v1.7h-1.7zM411.1 138.7h1.7v1.7h-1.7zM416.4 139.2h1.7v1.7h-1.7zM419.0 138.8h1.7v1.7h-1.7zM423.3 138.9h1.7v1.7h-1.7zM428.3 139.0h1.7v1.7h-1.7zM432.7 138.7h1.7v1.7h-1.7zM434.6 139.0h1.7v1.7h-1.7zM444.6 139.1h1.7v1.7h-1.7zM450.2 139.1h1.7v1.7h-1.7zM395.4 139.9h1.7v1.7h-1.7zM403.2 140.0h1.7v1.7h-1.7zM405.3 139.7h1.7v1.7h-1.7zM407.9 139.8h1.7v1.7h-1.7zM410.9 140.4h1.7v1.7h-1.7zM413.9 139.8h1.7v1.7h-1.7zM418.3 139.8h1.7v1.7h-1.7zM420.0 139.8h1.7v1.7h-1.7zM421.7 139.8h1.7v1.7h-1.7zM428.8 140.2h1.7v1.7h-1.7zM430.9 139.9h1.7v1.7h-1.7zM432.1 140.2h1.7v1.7h-1.7zM436.7 140.1h1.7v1.7h-1.7zM441.8 140.1h1.7v1.7h-1.7zM444.2 140.0h1.7v1.7h-1.7zM444.7 139.8h1.7v1.7h-1.7zM445.9 139.9h1.7v1.7h-1.7zM448.1 140.2h1.7v1.7h-1.7zM449.1 140.1h1.7v1.7h-1.7zM451.7 139.7h1.7v1.7h-1.7zM403.7 141.2h1.7v1.7h-1.7zM406.2 141.2h1.7v1.7h-1.7zM408.4 141.0h1.7v1.7h-1.7zM413.7 141.3h1.7v1.7h-1.7zM417.0 141.2h1.7v1.7h-1.7zM417.8 140.8h1.7v1.7h-1.7zM422.2 140.7h1.7v1.7h-1.7zM426.1 141.3h1.7v1.7h-1.7zM429.4 140.8h1.7v1.7h-1.7zM431.2 141.3h1.7v1.7h-1.7zM433.2 140.8h1.7v1.7h-1.7zM434.3 141.1h1.7v1.7h-1.7zM437.2 140.9h1.7v1.7h-1.7zM438.0 141.2h1.7v1.7h-1.7zM443.1 140.8h1.7v1.7h-1.7zM443.8 140.8h1.7v1.7h-1.7zM449.3 140.9h1.7v1.7h-1.7zM410.7 141.9h1.7v1.7h-1.7zM411.8 142.0h1.7v1.7h-1.7zM413.1 141.9h1.7v1.7h-1.7zM415.6 142.2h1.7v1.7h-1.7zM417.9 142.2h1.7v1.7h-1.7zM419.2 142.4h1.7v1.7h-1.7zM424.4 142.2h1.7v1.7h-1.7zM433.8 142.4h1.7v1.7h-1.7zM436.2 142.1h1.7v1.7h-1.7zM436.7 141.8h1.7v1.7h-1.7zM437.8 142.2h1.7v1.7h-1.7zM439.0 141.8h1.7v1.7h-1.7zM439.8 142.4h1.7v1.7h-1.7zM441.1 142.1h1.7v1.7h-1.7zM442.8 141.6h1.7v1.7h-1.7zM450.2 142.1h1.7v1.7h-1.7zM453.1 141.7h1.7v1.7h-1.7zM455.1 142.2h1.7v1.7h-1.7zM391.6 143.2h1.7v1.7h-1.7zM399.4 143.0h1.7v1.7h-1.7zM408.1 143.0h1.7v1.7h-1.7zM413.9 142.8h1.7v1.7h-1.7zM427.2 143.3h1.7v1.7h-1.7zM427.7 142.6h1.7v1.7h-1.7zM432.7 143.0h1.7v1.7h-1.7zM436.4 142.9h1.7v1.7h-1.7zM437.9 143.4h1.7v1.7h-1.7zM439.1 142.7h1.7v1.7h-1.7zM439.8 143.2h1.7v1.7h-1.7zM445.0 142.9h1.7v1.7h-1.7zM449.9 142.9h1.7v1.7h-1.7zM405.3 143.9h1.7v1.7h-1.7zM405.7 144.0h1.7v1.7h-1.7zM410.2 143.7h1.7v1.7h-1.7zM410.9 143.7h1.7v1.7h-1.7zM419.1 144.2h1.7v1.7h-1.7zM420.4 144.2h1.7v1.7h-1.7zM430.1 144.1h1.7v1.7h-1.7zM433.7 144.3h1.7v1.7h-1.7zM434.8 144.2h1.7v1.7h-1.7zM436.1 143.6h1.7v1.7h-1.7zM440.3 144.2h1.7v1.7h-1.7zM440.9 143.7h1.7v1.7h-1.7zM443.3 144.4h1.7v1.7h-1.7zM446.2 144.2h1.7v1.7h-1.7zM448.4 144.2h1.7v1.7h-1.7zM401.2 145.4h1.7v1.7h-1.7zM406.3 144.9h1.7v1.7h-1.7zM407.2 144.9h1.7v1.7h-1.7zM411.3 145.3h1.7v1.7h-1.7zM412.3 144.9h1.7v1.7h-1.7zM415.1 144.9h1.7v1.7h-1.7zM416.3 144.6h1.7v1.7h-1.7zM430.3 144.7h1.7v1.7h-1.7zM436.0 144.9h1.7v1.7h-1.7zM437.2 145.3h1.7v1.7h-1.7zM441.1 145.1h1.7v1.7h-1.7zM442.1 144.8h1.7v1.7h-1.7zM444.8 145.1h1.7v1.7h-1.7zM446.4 145.0h1.7v1.7h-1.7zM449.2 145.2h1.7v1.7h-1.7zM450.2 144.7h1.7v1.7h-1.7zM451.2 144.8h1.7v1.7h-1.7zM451.7 145.3h1.7v1.7h-1.7zM389.0 145.6h1.7v1.7h-1.7zM403.7 146.0h1.7v1.7h-1.7zM408.3 146.3h1.7v1.7h-1.7zM409.0 146.1h1.7v1.7h-1.7zM414.1 146.2h1.7v1.7h-1.7zM419.7 146.1h1.7v1.7h-1.7zM428.1 146.4h1.7v1.7h-1.7zM428.7 145.9h1.7v1.7h-1.7zM432.0 145.9h1.7v1.7h-1.7zM434.2 146.0h1.7v1.7h-1.7zM435.1 146.2h1.7v1.7h-1.7zM435.9 145.8h1.7v1.7h-1.7zM437.2 145.8h1.7v1.7h-1.7zM438.3 146.0h1.7v1.7h-1.7zM439.7 146.2h1.7v1.7h-1.7zM441.0 145.7h1.7v1.7h-1.7zM443.0 146.2h1.7v1.7h-1.7zM445.7 146.0h1.7v1.7h-1.7zM447.2 145.7h1.7v1.7h-1.7zM402.6 146.7h1.7v1.7h-1.7zM407.7 146.9h1.7v1.7h-1.7zM414.0 147.2h1.7v1.7h-1.7zM415.8 147.2h1.7v1.7h-1.7zM417.3 147.3h1.7v1.7h-1.7zM418.3 146.8h1.7v1.7h-1.7zM423.2 147.1h1.7v1.7h-1.7zM427.9 146.6h1.7v1.7h-1.7zM429.6 146.9h1.7v1.7h-1.7zM431.0 146.8h1.7v1.7h-1.7zM432.9 146.7h1.7v1.7h-1.7zM433.9 147.0h1.7v1.7h-1.7zM437.6 146.9h1.7v1.7h-1.7zM439.6 146.7h1.7v1.7h-1.7zM441.4 146.8h1.7v1.7h-1.7zM449.1 147.4h1.7v1.7h-1.7zM452.9 147.3h1.7v1.7h-1.7zM412.9 148.0h1.7v1.7h-1.7zM424.3 148.1h1.7v1.7h-1.7zM432.0 148.3h1.7v1.7h-1.7zM438.0 147.8h1.7v1.7h-1.7zM439.2 147.9h1.7v1.7h-1.7zM439.8 148.2h1.7v1.7h-1.7zM442.0 147.9h1.7v1.7h-1.7zM444.7 148.0h1.7v1.7h-1.7zM446.8 147.7h1.7v1.7h-1.7zM447.7 148.0h1.7v1.7h-1.7zM451.3 147.9h1.7v1.7h-1.7zM452.0 148.3h1.7v1.7h-1.7zM405.9 148.7h1.7v1.7h-1.7zM411.0 149.2h1.7v1.7h-1.7zM428.1 149.2h1.7v1.7h-1.7zM430.3 149.4h1.7v1.7h-1.7zM431.3 148.7h1.7v1.7h-1.7zM439.7 149.3h1.7v1.7h-1.7zM440.6 148.7h1.7v1.7h-1.7zM446.3 149.0h1.7v1.7h-1.7zM447.1 149.3h1.7v1.7h-1.7zM449.9 149.3h1.7v1.7h-1.7zM410.8 149.9h1.7v1.7h-1.7zM413.6 150.2h1.7v1.7h-1.7zM425.6 149.8h1.7v1.7h-1.7zM428.7 149.9h1.7v1.7h-1.7zM436.1 149.7h1.7v1.7h-1.7zM439.4 150.1h1.7v1.7h-1.7zM447.7 149.7h1.7v1.7h-1.7zM453.3 149.8h1.7v1.7h-1.7zM412.2 150.9h1.7v1.7h-1.7zM427.2 150.9h1.7v1.7h-1.7zM427.7 151.0h1.7v1.7h-1.7zM433.1 151.1h1.7v1.7h-1.7zM433.8 151.3h1.7v1.7h-1.7zM435.8 150.9h1.7v1.7h-1.7zM438.8 151.3h1.7v1.7h-1.7zM444.2 151.0h1.7v1.7h-1.7zM446.4 151.4h1.7v1.7h-1.7zM447.1 150.9h1.7v1.7h-1.7zM453.9 150.7h1.7v1.7h-1.7zM419.7 152.1h1.7v1.7h-1.7zM425.1 152.0h1.7v1.7h-1.7zM431.1 151.9h1.7v1.7h-1.7zM435.3 151.9h1.7v1.7h-1.7zM435.7 152.3h1.7v1.7h-1.7zM437.3 152.2h1.7v1.7h-1.7zM439.9 151.8h1.7v1.7h-1.7zM442.9 151.7h1.7v1.7h-1.7zM444.4 151.8h1.7v1.7h-1.7zM447.7 152.1h1.7v1.7h-1.7zM451.0 152.2h1.7v1.7h-1.7zM406.3 153.1h1.7v1.7h-1.7zM410.0 152.8h1.7v1.7h-1.7zM415.0 152.7h1.7v1.7h-1.7zM421.2 152.9h1.7v1.7h-1.7zM431.2 152.8h1.7v1.7h-1.7zM434.7 153.3h1.7v1.7h-1.7zM436.2 153.0h1.7v1.7h-1.7zM440.3 152.8h1.7v1.7h-1.7zM443.9 152.7h1.7v1.7h-1.7zM444.6 152.7h1.7v1.7h-1.7zM450.9 153.3h1.7v1.7h-1.7zM395.3 153.6h1.7v1.7h-1.7zM407.3 153.8h1.7v1.7h-1.7zM427.0 154.2h1.7v1.7h-1.7zM438.3 154.3h1.7v1.7h-1.7zM444.1 153.7h1.7v1.7h-1.7zM444.6 154.2h1.7v1.7h-1.7zM450.8 154.2h1.7v1.7h-1.7zM453.8 154.3h1.7v1.7h-1.7zM406.3 155.1h1.7v1.7h-1.7zM408.9 154.9h1.7v1.7h-1.7zM413.1 155.1h1.7v1.7h-1.7zM414.1 154.8h1.7v1.7h-1.7zM434.7 154.9h1.7v1.7h-1.7zM436.4 155.0h1.7v1.7h-1.7zM439.8 154.6h1.7v1.7h-1.7zM441.2 154.8h1.7v1.7h-1.7zM442.7 154.8h1.7v1.7h-1.7zM443.8 154.7h1.7v1.7h-1.7zM444.9 154.9h1.7v1.7h-1.7zM445.9 154.7h1.7v1.7h-1.7zM449.7 154.9h1.7v1.7h-1.7zM452.2 154.6h1.7v1.7h-1.7zM415.7 155.9h1.7v1.7h-1.7zM429.2 155.9h1.7v1.7h-1.7zM431.6 155.9h1.7v1.7h-1.7zM433.0 155.7h1.7v1.7h-1.7zM434.9 156.3h1.7v1.7h-1.7zM436.2 155.7h1.7v1.7h-1.7zM440.2 155.7h1.7v1.7h-1.7zM442.1 155.7h1.7v1.7h-1.7zM443.9 155.8h1.7v1.7h-1.7zM445.8 156.0h1.7v1.7h-1.7zM397.7 157.3h1.7v1.7h-1.7zM404.6 157.3h1.7v1.7h-1.7zM406.4 157.1h1.7v1.7h-1.7zM409.0 157.0h1.7v1.7h-1.7zM417.7 157.2h1.7v1.7h-1.7zM424.7 156.8h1.7v1.7h-1.7zM437.4 157.2h1.7v1.7h-1.7zM439.4 157.3h1.7v1.7h-1.7zM441.3 157.0h1.7v1.7h-1.7zM441.7 156.7h1.7v1.7h-1.7zM448.3 156.8h1.7v1.7h-1.7zM425.3 158.3h1.7v1.7h-1.7zM437.4 157.7h1.7v1.7h-1.7zM438.9 157.8h1.7v1.7h-1.7zM441.7 158.0h1.7v1.7h-1.7zM442.7 158.2h1.7v1.7h-1.7zM445.4 158.3h1.7v1.7h-1.7zM446.4 158.2h1.7v1.7h-1.7zM450.1 157.8h1.7v1.7h-1.7zM422.7 158.9h1.7v1.7h-1.7zM431.4 159.0h1.7v1.7h-1.7zM437.0 158.9h1.7v1.7h-1.7zM438.6 158.8h1.7v1.7h-1.7zM444.2 158.7h1.7v1.7h-1.7zM399.9 159.8h1.7v1.7h-1.7zM422.0 160.0h1.7v1.7h-1.7zM436.3 159.7h1.7v1.7h-1.7zM437.6 160.0h1.7v1.7h-1.7zM438.7 159.6h1.7v1.7h-1.7zM442.2 160.1h1.7v1.7h-1.7zM443.3 160.3h1.7v1.7h-1.7zM431.7 160.9h1.7v1.7h-1.7zM433.8 161.0h1.7v1.7h-1.7zM444.9 161.0h1.7v1.7h-1.7zM447.2 161.1h1.7v1.7h-1.7zM435.9 161.9h1.7v1.7h-1.7zM436.9 161.8h1.7v1.7h-1.7zM438.1 162.3h1.7v1.7h-1.7zM443.1 161.9h1.7v1.7h-1.7zM453.9 161.7h1.7v1.7h-1.7zM446.6 163.4h1.7v1.7h-1.7zM441.4 163.8h1.7v1.7h-1.7zM435.3 165.8h1.7v1.7h-1.7zM397.8 168.6h1.7v1.7h-1.7zM441.0 170.0h1.7v1.7h-1.7zM413.0 171.8h1.7v1.7h-1.7z"/>
<path fill="#4a38c4" d="M415.1 76.2h1.7v1.7h-1.7zM408.3 76.9h1.7v1.7h-1.7zM412.7 76.9h1.7v1.7h-1.7zM389.0 78.3h1.7v1.7h-1.7zM413.8 78.8h1.7v1.7h-1.7zM419.1 78.9h1.7v1.7h-1.7zM413.9 80.0h1.7v1.7h-1.7zM417.1 80.2h1.7v1.7h-1.7zM421.0 80.0h1.7v1.7h-1.7zM422.2 79.9h1.7v1.7h-1.7zM431.6 79.7h1.7v1.7h-1.7zM405.2 81.2h1.7v1.7h-1.7zM411.8 80.9h1.7v1.7h-1.7zM407.7 82.0h1.7v1.7h-1.7zM411.9 82.3h1.7v1.7h-1.7zM430.0 81.7h1.7v1.7h-1.7zM409.1 82.6h1.7v1.7h-1.7zM410.7 83.2h1.7v1.7h-1.7zM413.2 83.0h1.7v1.7h-1.7zM426.9 83.2h1.7v1.7h-1.7zM395.2 84.1h1.7v1.7h-1.7zM413.3 84.3h1.7v1.7h-1.7zM424.2 83.8h1.7v1.7h-1.7zM433.9 83.9h1.7v1.7h-1.7zM416.1 84.7h1.7v1.7h-1.7zM424.3 85.1h1.7v1.7h-1.7zM387.7 86.1h1.7v1.7h-1.7zM394.9 86.2h1.7v1.7h-1.7zM424.2 86.2h1.7v1.7h-1.7zM400.9 87.1h1.7v1.7h-1.7zM432.3 87.0h1.7v1.7h-1.7zM403.9 88.0h1.7v1.7h-1.7zM406.4 88.1h1.7v1.7h-1.7zM409.7 88.3h1.7v1.7h-1.7zM420.7 87.6h1.7v1.7h-1.7zM429.9 88.1h1.7v1.7h-1.7zM438.8 87.8h1.7v1.7h-1.7zM399.4 88.6h1.7v1.7h-1.7zM426.7 88.7h1.7v1.7h-1.7zM397.2 89.9h1.7v1.7h-1.7zM437.3 89.8h1.7v1.7h-1.7zM437.0 90.9h1.7v1.7h-1.7zM401.3 91.9h1.7v1.7h-1.7zM402.0 91.9h1.7v1.7h-1.7zM407.1 92.1h1.7v1.7h-1.7zM418.4 92.0h1.7v1.7h-1.7zM427.9 92.4h1.7v1.7h-1.7zM392.2 93.0h1.7v1.7h-1.7zM423.3 93.2h1.7v1.7h-1.7zM435.3 92.6h1.7v1.7h-1.7zM391.0 94.0h1.7v1.7h-1.7zM438.0 94.8h1.7v1.7h-1.7zM400.9 95.8h1.7v1.7h-1.7zM436.9 96.2h1.7v1.7h-1.7zM429.9 96.8h1.7v1.7h-1.7zM435.1 96.7h1.7v1.7h-1.7zM395.1 98.0h1.7v1.7h-1.7zM400.9 98.0h1.7v1.7h-1.7zM402.2 97.9h1.7v1.7h-1.7zM402.7 98.2h1.7v1.7h-1.7zM390.3 99.0h1.7v1.7h-1.7zM399.9 98.7h1.7v1.7h-1.7zM426.8 98.9h1.7v1.7h-1.7zM435.3 99.3h1.7v1.7h-1.7zM441.0 98.9h1.7v1.7h-1.7zM443.0 99.0h1.7v1.7h-1.7zM391.7 100.0h1.7v1.7h-1.7zM400.9 100.2h1.7v1.7h-1.7zM411.7 100.3h1.7v1.7h-1.7zM394.0 101.1h1.7v1.7h-1.7zM432.8 100.9h1.7v1.7h-1.7zM436.8 101.1h1.7v1.7h-1.7zM445.7 100.9h1.7v1.7h-1.7zM387.1 102.2h1.7v1.7h-1.7zM390.6 102.3h1.7v1.7h-1.7zM393.1 101.9h1.7v1.7h-1.7zM400.1 101.7h1.7v1.7h-1.7zM393.1 102.7h1.7v1.7h-1.7zM394.1 103.1h1.7v1.7h-1.7zM439.2 102.8h1.7v1.7h-1.7zM393.3 104.3h1.7v1.7h-1.7zM424.7 104.3h1.7v1.7h-1.7zM445.0 104.3h1.7v1.7h-1.7zM447.1 103.8h1.7v1.7h-1.7zM398.2 104.8h1.7v1.7h-1.7zM425.8 105.3h1.7v1.7h-1.7zM456.2 104.7h1.7v1.7h-1.7zM397.1 106.0h1.7v1.7h-1.7zM412.8 105.7h1.7v1.7h-1.7zM435.0 105.9h1.7v1.7h-1.7zM436.4 105.8h1.7v1.7h-1.7zM447.2 105.9h1.7v1.7h-1.7zM443.2 106.9h1.7v1.7h-1.7zM450.1 107.0h1.7v1.7h-1.7zM397.4 108.3h1.7v1.7h-1.7zM414.2 107.7h1.7v1.7h-1.7zM448.7 107.7h1.7v1.7h-1.7zM413.4 108.9h1.7v1.7h-1.7zM422.1 109.1h1.7v1.7h-1.7zM427.3 108.7h1.7v1.7h-1.7zM432.3 109.2h1.7v1.7h-1.7zM439.1 108.8h1.7v1.7h-1.7zM398.9 110.0h1.7v1.7h-1.7zM446.9 109.7h1.7v1.7h-1.7zM452.2 110.4h1.7v1.7h-1.7zM393.8 111.2h1.7v1.7h-1.7zM414.0 111.3h1.7v1.7h-1.7zM420.3 110.7h1.7v1.7h-1.7zM440.9 111.4h1.7v1.7h-1.7zM396.8 111.6h1.7v1.7h-1.7zM410.9 112.3h1.7v1.7h-1.7zM453.8 112.3h1.7v1.7h-1.7zM405.8 112.9h1.7v1.7h-1.7zM411.7 112.7h1.7v1.7h-1.7zM414.7 113.2h1.7v1.7h-1.7zM419.2 112.9h1.7v1.7h-1.7zM424.0 112.8h1.7v1.7h-1.7zM443.7 112.7h1.7v1.7h-1.7zM423.0 113.8h1.7v1.7h-1.7zM424.3 114.3h1.7v1.7h-1.7zM426.7 113.6h1.7v1.7h-1.7zM434.9 114.4h1.7v1.7h-1.7zM441.3 114.4h1.7v1.7h-1.7zM443.4 114.0h1.7v1.7h-1.7zM406.0 114.7h1.7v1.7h-1.7zM420.3 115.3h1.7v1.7h-1.7zM390.7 115.8h1.7v1.7h-1.7zM415.2 116.2h1.7v1.7h-1.7zM419.2 116.0h1.7v1.7h-1.7zM426.3 115.9h1.7v1.7h-1.7zM446.3 115.9h1.7v1.7h-1.7zM411.1 117.1h1.7v1.7h-1.7zM419.7 117.2h1.7v1.7h-1.7zM424.9 117.2h1.7v1.7h-1.7zM436.9 116.9h1.7v1.7h-1.7zM445.0 116.6h1.7v1.7h-1.7zM446.8 116.8h1.7v1.7h-1.7zM453.3 116.8h1.7v1.7h-1.7zM398.2 118.2h1.7v1.7h-1.7zM411.9 118.0h1.7v1.7h-1.7zM444.7 117.7h1.7v1.7h-1.7zM403.0 118.8h1.7v1.7h-1.7zM405.9 118.9h1.7v1.7h-1.7zM406.9 118.6h1.7v1.7h-1.7zM414.3 119.2h1.7v1.7h-1.7zM422.9 118.9h1.7v1.7h-1.7zM436.1 119.0h1.7v1.7h-1.7zM439.0 118.9h1.7v1.7h-1.7zM448.1 118.7h1.7v1.7h-1.7zM394.7 120.2h1.7v1.7h-1.7zM418.0 119.7h1.7v1.7h-1.7zM438.9 120.2h1.7v1.7h-1.7zM443.9 120.3h1.7v1.7h-1.7zM397.6 121.2h1.7v1.7h-1.7zM412.6 121.2h1.7v1.7h-1.7zM435.1 120.7h1.7v1.7h-1.7zM419.7 122.3h1.7v1.7h-1.7zM422.2 122.1h1.7v1.7h-1.7zM427.2 121.7h1.7v1.7h-1.7zM428.1 121.7h1.7v1.7h-1.7zM451.1 122.0h1.7v1.7h-1.7zM422.4 123.0h1.7v1.7h-1.7zM424.9 123.3h1.7v1.7h-1.7zM432.2 123.0h1.7v1.7h-1.7zM444.9 123.3h1.7v1.7h-1.7zM451.0 123.0h1.7v1.7h-1.7zM400.1 123.7h1.7v1.7h-1.7zM433.1 123.8h1.7v1.7h-1.7zM423.3 125.1h1.7v1.7h-1.7zM428.9 125.2h1.7v1.7h-1.7zM409.7 126.1h1.7v1.7h-1.7zM437.2 125.9h1.7v1.7h-1.7zM438.3 126.4h1.7v1.7h-1.7zM440.4 125.9h1.7v1.7h-1.7zM403.3 127.4h1.7v1.7h-1.7zM432.7 126.7h1.7v1.7h-1.7zM452.4 127.2h1.7v1.7h-1.7zM401.0 128.2h1.7v1.7h-1.7zM428.4 127.8h1.7v1.7h-1.7zM441.9 128.3h1.7v1.7h-1.7zM444.8 127.7h1.7v1.7h-1.7zM447.8 128.0h1.7v1.7h-1.7zM436.2 128.7h1.7v1.7h-1.7zM430.7 130.3h1.7v1.7h-1.7zM442.3 130.2h1.7v1.7h-1.7zM396.8 130.9h1.7v1.7h-1.7zM440.8 130.6h1.7v1.7h-1.7zM449.9 130.6h1.7v1.7h-1.7zM410.4 132.4h1.7v1.7h-1.7zM414.3 132.4h1.7v1.7h-1.7zM422.0 132.2h1.7v1.7h-1.7zM429.3 132.3h1.7v1.7h-1.7zM429.7 131.7h1.7v1.7h-1.7zM449.7 131.7h1.7v1.7h-1.7zM398.7 133.1h1.7v1.7h-1.7zM409.6 133.1h1.7v1.7h-1.7zM412.3 132.8h1.7v1.7h-1.7zM415.1 133.3h1.7v1.7h-1.7zM423.7 133.4h1.7v1.7h-1.7zM444.1 133.0h1.7v1.7h-1.7zM449.7 132.9h1.7v1.7h-1.7zM450.8 133.2h1.7v1.7h-1.7zM451.8 133.0h1.7v1.7h-1.7zM401.4 134.4h1.7v1.7h-1.7zM414.9 134.2h1.7v1.7h-1.7zM440.0 133.9h1.7v1.7h-1.7zM443.9 134.2h1.7v1.7h-1.7zM451.6 134.1h1.7v1.7h-1.7zM401.7 134.8h1.7v1.7h-1.7zM409.8 135.0h1.7v1.7h-1.7zM426.7 135.1h1.7v1.7h-1.7zM436.4 134.7h1.7v1.7h-1.7zM431.0 135.6h1.7v1.7h-1.7zM435.9 136.4h1.7v1.7h-1.7zM451.1 136.2h1.7v1.7h-1.7zM411.7 137.0h1.7v1.7h-1.7zM415.2 137.0h1.7v1.7h-1.7zM419.0 137.4h1.7v1.7h-1.7zM425.6 137.1h1.7v1.7h-1.7zM404.6 137.9h1.7v1.7h-1.7zM411.9 138.0h1.7v1.7h-1.7zM415.8 137.7h1.7v1.7h-1.7zM419.3 138.0h1.7v1.7h-1.7zM450.2 137.8h1.7v1.7h-1.7zM406.2 139.1h1.7v1.7h-1.7zM408.4 139.2h1.7v1.7h-1.7zM415.2 139.4h1.7v1.7h-1.7zM417.1 139.0h1.7v1.7h-1.7zM431.7 138.7h1.7v1.7h-1.7zM396.9 140.1h1.7v1.7h-1.7zM400.8 140.0h1.7v1.7h-1.7zM407.0 140.0h1.7v1.7h-1.7zM409.1 140.2h1.7v1.7h-1.7zM412.3 140.2h1.7v1.7h-1.7zM409.9 140.9h1.7v1.7h-1.7zM411.0 141.3h1.7v1.7h-1.7zM413.6 141.7h1.7v1.7h-1.7zM431.1 141.7h1.7v1.7h-1.7zM435.0 142.1h1.7v1.7h-1.7zM402.0 143.1h1.7v1.7h-1.7zM406.7 142.7h1.7v1.7h-1.7zM415.2 143.2h1.7v1.7h-1.7zM423.3 143.2h1.7v1.7h-1.7zM412.6 144.3h1.7v1.7h-1.7zM414.2 144.2h1.7v1.7h-1.7zM415.3 143.6h1.7v1.7h-1.7zM425.9 143.9h1.7v1.7h-1.7zM432.6 143.9h1.7v1.7h-1.7zM448.7 144.3h1.7v1.7h-1.7zM404.9 144.9h1.7v1.7h-1.7zM431.0 144.7h1.7v1.7h-1.7zM432.9 145.0h1.7v1.7h-1.7zM439.1 144.6h1.7v1.7h-1.7zM430.3 146.2h1.7v1.7h-1.7zM452.2 146.3h1.7v1.7h-1.7zM404.2 147.3h1.7v1.7h-1.7zM413.1 147.0h1.7v1.7h-1.7zM412.2 147.7h1.7v1.7h-1.7zM429.9 148.0h1.7v1.7h-1.7zM408.9 148.8h1.7v1.7h-1.7zM408.2 150.1h1.7v1.7h-1.7zM416.1 150.0h1.7v1.7h-1.7zM433.7 150.0h1.7v1.7h-1.7zM435.4 150.2h1.7v1.7h-1.7zM449.2 150.4h1.7v1.7h-1.7zM411.4 150.9h1.7v1.7h-1.7zM430.7 150.9h1.7v1.7h-1.7zM448.3 150.8h1.7v1.7h-1.7zM401.4 152.1h1.7v1.7h-1.7zM404.3 152.1h1.7v1.7h-1.7zM407.3 151.6h1.7v1.7h-1.7zM422.7 152.1h1.7v1.7h-1.7zM447.0 151.9h1.7v1.7h-1.7zM448.6 152.4h1.7v1.7h-1.7zM427.0 153.2h1.7v1.7h-1.7zM408.0 154.2h1.7v1.7h-1.7zM431.3 153.7h1.7v1.7h-1.7zM435.0 153.9h1.7v1.7h-1.7zM447.4 154.1h1.7v1.7h-1.7zM407.1 155.4h1.7v1.7h-1.7zM434.2 155.2h1.7v1.7h-1.7zM431.6 156.7h1.7v1.7h-1.7zM445.0 157.0h1.7v1.7h-1.7zM454.9 157.8h1.7v1.7h-1.7zM412.2 160.3h1.7v1.7h-1.7zM426.9 160.1h1.7v1.7h-1.7zM447.3 160.4h1.7v1.7h-1.7zM443.2 160.7h1.7v1.7h-1.7zM439.9 161.6h1.7v1.7h-1.7zM442.9 163.1h1.7v1.7h-1.7zM436.3 163.7h1.7v1.7h-1.7zM446.2 164.2h1.7v1.7h-1.7zM396.3 164.8h1.7v1.7h-1.7zM444.8 171.6h1.7v1.7h-1.7z"/>
<path fill="#6a2aa8" d="M409.3 79.9h1.7v1.7h-1.7zM424.3 79.8h1.7v1.7h-1.7zM401.4 85.3h1.7v1.7h-1.7zM420.0 84.6h1.7v1.7h-1.7zM433.9 85.9h1.7v1.7h-1.7zM395.9 86.7h1.7v1.7h-1.7zM403.7 88.9h1.7v1.7h-1.7zM418.3 89.1h1.7v1.7h-1.7zM420.8 88.7h1.7v1.7h-1.7zM409.3 90.3h1.7v1.7h-1.7zM408.7 90.9h1.7v1.7h-1.7zM443.2 90.9h1.7v1.7h-1.7zM419.8 92.2h1.7v1.7h-1.7zM429.9 92.4h1.7v1.7h-1.7zM405.8 92.7h1.7v1.7h-1.7zM434.3 93.2h1.7v1.7h-1.7zM388.1 93.7h1.7v1.7h-1.7zM398.2 93.6h1.7v1.7h-1.7zM412.0 93.8h1.7v1.7h-1.7zM399.8 95.0h1.7v1.7h-1.7zM408.0 95.4h1.7v1.7h-1.7zM388.9 96.0h1.7v1.7h-1.7zM425.0 96.2h1.7v1.7h-1.7zM427.0 96.0h1.7v1.7h-1.7zM427.9 96.0h1.7v1.7h-1.7zM410.7 97.0h1.7v1.7h-1.7zM415.8 97.0h1.7v1.7h-1.7zM420.7 97.0h1.7v1.7h-1.7zM442.0 97.3h1.7v1.7h-1.7zM399.6 97.9h1.7v1.7h-1.7zM409.6 99.4h1.7v1.7h-1.7zM412.7 99.2h1.7v1.7h-1.7zM404.8 100.6h1.7v1.7h-1.7zM442.1 100.9h1.7v1.7h-1.7zM426.2 102.2h1.7v1.7h-1.7zM398.0 102.9h1.7v1.7h-1.7zM398.8 103.2h1.7v1.7h-1.7zM410.4 103.0h1.7v1.7h-1.7zM436.1 102.8h1.7v1.7h-1.7zM437.7 102.8h1.7v1.7h-1.7zM420.0 104.1h1.7v1.7h-1.7zM416.9 105.3h1.7v1.7h-1.7zM418.4 105.1h1.7v1.7h-1.7zM431.4 105.0h1.7v1.7h-1.7zM418.2 106.2h1.7v1.7h-1.7zM386.9 106.9h1.7v1.7h-1.7zM414.2 106.6h1.7v1.7h-1.7zM441.3 108.2h1.7v1.7h-1.7zM446.7 107.6h1.7v1.7h-1.7zM449.7 107.7h1.7v1.7h-1.7zM424.3 109.0h1.7v1.7h-1.7zM392.7 110.0h1.7v1.7h-1.7zM419.3 110.3h1.7v1.7h-1.7zM439.6 110.0h1.7v1.7h-1.7zM415.6 111.2h1.7v1.7h-1.7zM415.8 112.1h1.7v1.7h-1.7zM435.1 111.7h1.7v1.7h-1.7zM409.7 114.3h1.7v1.7h-1.7zM433.7 116.2h1.7v1.7h-1.7zM422.1 116.9h1.7v1.7h-1.7zM439.3 117.4h1.7v1.7h-1.7zM394.4 117.9h1.7v1.7h-1.7zM420.0 118.0h1.7v1.7h-1.7zM425.8 118.3h1.7v1.7h-1.7zM427.9 117.8h1.7v1.7h-1.7zM448.3 119.9h1.7v1.7h-1.7zM410.7 122.7h1.7v1.7h-1.7zM449.7 123.0h1.7v1.7h-1.7zM418.2 124.2h1.7v1.7h-1.7zM401.3 125.3h1.7v1.7h-1.7zM426.2 124.8h1.7v1.7h-1.7zM433.3 125.9h1.7v1.7h-1.7zM404.0 127.0h1.7v1.7h-1.7zM426.9 128.3h1.7v1.7h-1.7zM439.0 128.0h1.7v1.7h-1.7zM437.2 129.1h1.7v1.7h-1.7zM403.7 130.9h1.7v1.7h-1.7zM436.9 131.7h1.7v1.7h-1.7zM423.9 135.3h1.7v1.7h-1.7zM440.7 135.4h1.7v1.7h-1.7zM441.8 135.8h1.7v1.7h-1.7zM430.3 137.1h1.7v1.7h-1.7zM406.8 138.9h1.7v1.7h-1.7zM399.3 140.2h1.7v1.7h-1.7zM400.9 141.1h1.7v1.7h-1.7zM451.8 141.4h1.7v1.7h-1.7zM401.6 142.3h1.7v1.7h-1.7zM415.2 142.2h1.7v1.7h-1.7zM447.2 141.8h1.7v1.7h-1.7zM450.8 143.3h1.7v1.7h-1.7zM452.0 143.6h1.7v1.7h-1.7zM418.6 145.1h1.7v1.7h-1.7zM440.0 144.8h1.7v1.7h-1.7zM413.4 145.7h1.7v1.7h-1.7zM445.3 145.9h1.7v1.7h-1.7zM453.4 145.7h1.7v1.7h-1.7zM412.1 147.0h1.7v1.7h-1.7zM407.7 148.1h1.7v1.7h-1.7zM425.8 147.7h1.7v1.7h-1.7zM405.9 150.3h1.7v1.7h-1.7zM408.7 150.4h1.7v1.7h-1.7zM444.0 149.8h1.7v1.7h-1.7zM447.0 150.3h1.7v1.7h-1.7zM436.7 151.1h1.7v1.7h-1.7zM410.1 152.3h1.7v1.7h-1.7zM413.8 154.1h1.7v1.7h-1.7zM432.1 153.7h1.7v1.7h-1.7zM437.3 155.8h1.7v1.7h-1.7zM443.2 156.1h1.7v1.7h-1.7zM443.0 157.0h1.7v1.7h-1.7zM409.0 159.0h1.7v1.7h-1.7zM441.9 164.8h1.7v1.7h-1.7z"/>
<path fill="#ee7f24" d="M403.1 87.7h2.6v1.6h-2.6zM406.8 87.9h2.6v1.6h-2.6zM415.7 90.0h2.6v1.6h-2.6zM419.9 89.7h2.6v1.6h-2.6zM413.0 90.6h2.6v1.6h-2.6zM418.6 92.1h2.6v1.6h-2.6zM410.1 93.8h2.6v1.6h-2.6zM402.9 94.6h2.6v1.6h-2.6zM420.8 96.2h2.6v1.6h-2.6zM426.3 96.2h2.6v1.6h-2.6zM400.0 97.4h2.6v1.6h-2.6zM406.9 96.7h2.6v1.6h-2.6zM428.8 98.3h2.6v1.6h-2.6zM411.4 99.3h2.6v1.6h-2.6zM421.3 100.1h2.6v1.6h-2.6zM423.3 100.1h2.6v1.6h-2.6zM424.1 99.8h2.6v1.6h-2.6zM431.2 99.8h2.6v1.6h-2.6zM417.1 101.3h2.6v1.6h-2.6zM402.8 101.9h2.6v1.6h-2.6zM418.7 103.1h2.6v1.6h-2.6zM429.9 103.2h2.6v1.6h-2.6zM423.9 104.0h2.6v1.6h-2.6zM440.8 104.8h2.6v1.6h-2.6zM399.8 106.2h2.6v1.6h-2.6zM407.0 105.8h2.6v1.6h-2.6zM425.8 106.0h2.6v1.6h-2.6zM441.4 105.6h2.6v1.6h-2.6zM409.7 106.7h2.6v1.6h-2.6zM434.3 106.9h2.6v1.6h-2.6zM414.7 107.7h2.6v1.6h-2.6zM422.2 108.0h2.6v1.6h-2.6zM426.9 107.6h2.6v1.6h-2.6zM442.6 108.9h2.6v1.6h-2.6zM411.4 109.8h2.6v1.6h-2.6zM426.6 109.8h2.6v1.6h-2.6zM422.7 110.9h2.6v1.6h-2.6zM429.2 110.6h2.6v1.6h-2.6zM412.8 112.2h2.6v1.6h-2.6zM432.9 111.8h2.6v1.6h-2.6zM436.6 111.9h2.6v1.6h-2.6zM438.9 111.8h2.6v1.6h-2.6zM416.3 113.4h2.6v1.6h-2.6zM439.2 113.7h2.6v1.6h-2.6zM435.4 114.9h2.6v1.6h-2.6zM441.1 116.7h2.6v1.6h-2.6zM438.4 120.3h2.6v1.6h-2.6zM446.4 119.9h2.6v1.6h-2.6zM446.4 124.1h2.6v1.6h-2.6zM436.2 126.7h2.6v1.6h-2.6zM443.1 129.8h2.6v1.6h-2.6zM433.2 131.0h2.6v1.6h-2.6zM411.3 136.7h2.6v1.6h-2.6zM441.3 137.4h2.6v1.6h-2.6zM440.1 137.8h2.6v1.6h-2.6zM440.1 139.4h2.6v1.6h-2.6zM438.9 140.2h2.6v1.6h-2.6zM441.2 141.3h2.6v1.6h-2.6zM444.6 140.8h2.6v1.6h-2.6zM410.0 143.0h2.6v1.6h-2.6zM434.3 143.4h2.6v1.6h-2.6zM443.1 145.0h2.6v1.6h-2.6zM436.8 148.6h2.6v1.6h-2.6zM438.3 149.4h2.6v1.6h-2.6zM444.0 148.8h2.6v1.6h-2.6zM439.6 151.3h2.6v1.6h-2.6zM440.7 152.0h2.6v1.6h-2.6zM444.9 151.7h2.6v1.6h-2.6z"/>
<path fill="#d8502a" d="M403.8 86.7h2.6v1.6h-2.6zM412.7 88.2h2.6v1.6h-2.6zM407.3 88.6h2.6v1.6h-2.6zM407.2 95.0h2.6v1.6h-2.6zM416.1 95.9h2.6v1.6h-2.6zM432.1 96.1h2.6v1.6h-2.6zM425.7 100.9h2.6v1.6h-2.6zM418.9 102.2h2.6v1.6h-2.6zM407.1 103.0h2.6v1.6h-2.6zM415.0 106.1h2.6v1.6h-2.6zM423.7 105.7h2.6v1.6h-2.6zM404.2 108.3h2.6v1.6h-2.6zM417.7 108.2h2.6v1.6h-2.6zM419.1 107.7h2.6v1.6h-2.6zM434.8 107.9h2.6v1.6h-2.6zM442.8 107.8h2.6v1.6h-2.6zM437.6 108.7h2.6v1.6h-2.6zM436.2 110.9h2.6v1.6h-2.6zM442.3 111.7h2.6v1.6h-2.6zM443.9 115.1h2.6v1.6h-2.6zM440.9 125.0h2.6v1.6h-2.6zM437.4 135.4h2.6v1.6h-2.6zM445.2 135.2h2.6v1.6h-2.6zM444.3 136.3h2.6v1.6h-2.6zM441.7 144.1h2.6v1.6h-2.6zM435.9 149.1h2.6v1.6h-2.6z"/>
<path fill="#2a1d86" d="M398.9 284.1h1.3v1.3h-1.3zM409.1 283.9h1.3v1.3h-1.3zM417.7 285.0h1.3v1.3h-1.3zM420.0 285.1h1.3v1.3h-1.3zM406.7 285.7h1.3v1.3h-1.3zM410.3 286.2h1.3v1.3h-1.3zM416.2 287.1h1.3v1.3h-1.3zM389.9 287.9h1.3v1.3h-1.3zM405.7 288.0h1.3v1.3h-1.3zM400.9 289.2h1.3v1.3h-1.3zM411.9 289.2h1.3v1.3h-1.3zM413.9 288.7h1.3v1.3h-1.3zM423.1 289.3h1.3v1.3h-1.3zM390.8 290.1h1.3v1.3h-1.3zM397.8 290.0h1.3v1.3h-1.3zM407.1 290.0h1.3v1.3h-1.3zM409.1 290.0h1.3v1.3h-1.3zM410.0 289.7h1.3v1.3h-1.3zM411.3 289.8h1.3v1.3h-1.3zM390.0 291.2h1.3v1.3h-1.3zM403.0 291.2h1.3v1.3h-1.3zM406.1 291.1h1.3v1.3h-1.3zM408.8 290.9h1.3v1.3h-1.3zM413.8 290.8h1.3v1.3h-1.3zM397.8 292.2h1.3v1.3h-1.3zM398.8 291.9h1.3v1.3h-1.3zM402.9 291.8h1.3v1.3h-1.3zM406.2 292.2h1.3v1.3h-1.3zM419.0 292.0h1.3v1.3h-1.3zM395.9 293.1h1.3v1.3h-1.3zM398.0 293.0h1.3v1.3h-1.3zM400.0 293.3h1.3v1.3h-1.3zM403 293h1.3v1.3h-1.3zM404 293h1.3v1.3h-1.3zM407.1 293.2h1.3v1.3h-1.3zM408 293h1.3v1.3h-1.3zM409 293h1.3v1.3h-1.3zM410 293h1.3v1.3h-1.3zM412.0 292.7h1.3v1.3h-1.3zM419.2 292.8h1.3v1.3h-1.3zM425.9 293.1h1.3v1.3h-1.3zM426.9 292.8h1.3v1.3h-1.3zM429.0 292.7h1.3v1.3h-1.3zM398.1 294.3h1.3v1.3h-1.3zM401 294h1.3v1.3h-1.3zM402.1 294.2h1.3v1.3h-1.3zM403 294h1.3v1.3h-1.3zM404 294h1.3v1.3h-1.3zM406 294h1.3v1.3h-1.3zM407.2 294.0h1.3v1.3h-1.3zM407.8 294.0h1.3v1.3h-1.3zM411 294h1.3v1.3h-1.3zM413 294h1.3v1.3h-1.3zM414.3 293.7h1.3v1.3h-1.3zM395.7 295.3h1.3v1.3h-1.3zM399 295h1.3v1.3h-1.3zM401 295h1.3v1.3h-1.3zM402 295h1.3v1.3h-1.3zM404.3 295.1h1.3v1.3h-1.3zM405 295h1.3v1.3h-1.3zM406 295h1.3v1.3h-1.3zM407 295h1.3v1.3h-1.3zM408 295h1.3v1.3h-1.3zM409 295h1.3v1.3h-1.3zM410 295h1.3v1.3h-1.3zM411.2 294.8h1.3v1.3h-1.3zM414 295h1.3v1.3h-1.3zM416 295h1.3v1.3h-1.3zM416.7 295.0h1.3v1.3h-1.3zM417.9 295.1h1.3v1.3h-1.3zM389.9 295.9h1.3v1.3h-1.3zM396.8 295.7h1.3v1.3h-1.3zM398 296h1.3v1.3h-1.3zM400 296h1.3v1.3h-1.3zM402 296h1.3v1.3h-1.3zM403 296h1.3v1.3h-1.3zM404 296h1.3v1.3h-1.3zM404.7 296.0h1.3v1.3h-1.3zM406.2 296.2h1.3v1.3h-1.3zM407 296h1.3v1.3h-1.3zM408 296h1.3v1.3h-1.3zM409 296h1.3v1.3h-1.3zM409.8 296.1h1.3v1.3h-1.3zM411 296h1.3v1.3h-1.3zM413 296h1.3v1.3h-1.3zM415 296h1.3v1.3h-1.3zM415.8 295.7h1.3v1.3h-1.3zM416.8 296.2h1.3v1.3h-1.3zM418 296h1.3v1.3h-1.3zM420.2 296.3h1.3v1.3h-1.3zM431.1 296.0h1.3v1.3h-1.3zM389.8 297.0h1.3v1.3h-1.3zM391.9 296.8h1.3v1.3h-1.3zM393.8 297.0h1.3v1.3h-1.3zM397 297h1.3v1.3h-1.3zM398 297h1.3v1.3h-1.3zM399 297h1.3v1.3h-1.3zM400 297h1.3v1.3h-1.3zM401 297h1.3v1.3h-1.3zM404 297h1.3v1.3h-1.3zM405 297h1.3v1.3h-1.3zM407 297h1.3v1.3h-1.3zM409 297h1.3v1.3h-1.3zM410 297h1.3v1.3h-1.3zM411 297h1.3v1.3h-1.3zM412 297h1.3v1.3h-1.3zM413 297h1.3v1.3h-1.3zM414.2 296.9h1.3v1.3h-1.3zM415.1 297.1h1.3v1.3h-1.3zM417.1 297.2h1.3v1.3h-1.3zM418 297h1.3v1.3h-1.3zM419 297h1.3v1.3h-1.3zM422.2 297.1h1.3v1.3h-1.3zM426.8 297.1h1.3v1.3h-1.3zM427.9 297.0h1.3v1.3h-1.3zM389.0 297.9h1.3v1.3h-1.3zM395 298h1.3v1.3h-1.3zM396.1 297.9h1.3v1.3h-1.3zM399 298h1.3v1.3h-1.3zM400 298h1.3v1.3h-1.3zM401 298h1.3v1.3h-1.3zM402 298h1.3v1.3h-1.3zM403 298h1.3v1.3h-1.3zM405 298h1.3v1.3h-1.3zM407 298h1.3v1.3h-1.3zM408 298h1.3v1.3h-1.3zM409 298h1.3v1.3h-1.3zM410 298h1.3v1.3h-1.3zM412 298h1.3v1.3h-1.3zM414 298h1.3v1.3h-1.3zM415 298h1.3v1.3h-1.3zM416 298h1.3v1.3h-1.3zM417 298h1.3v1.3h-1.3zM420 298h1.3v1.3h-1.3zM421.0 298.2h1.3v1.3h-1.3zM425.8 298.1h1.3v1.3h-1.3zM389.1 299.0h1.3v1.3h-1.3zM390.2 299.2h1.3v1.3h-1.3zM390.7 298.8h1.3v1.3h-1.3zM394 299h1.3v1.3h-1.3zM395.0 298.8h1.3v1.3h-1.3zM396 299h1.3v1.3h-1.3zM397 299h1.3v1.3h-1.3zM398 299h1.3v1.3h-1.3zM400 299h1.3v1.3h-1.3zM401 299h1.3v1.3h-1.3zM403 299h1.3v1.3h-1.3zM404 299h1.3v1.3h-1.3zM405 299h1.3v1.3h-1.3zM412 299h1.3v1.3h-1.3zM415.0 298.7h1.3v1.3h-1.3zM416.2 298.7h1.3v1.3h-1.3zM417 299h1.3v1.3h-1.3zM418 299h1.3v1.3h-1.3zM418.8 298.7h1.3v1.3h-1.3zM421.1 299.1h1.3v1.3h-1.3zM422.7 299.0h1.3v1.3h-1.3zM424.2 298.8h1.3v1.3h-1.3zM426.0 299.0h1.3v1.3h-1.3zM394 300h1.3v1.3h-1.3zM396 300h1.3v1.3h-1.3zM397 300h1.3v1.3h-1.3zM398 300h1.3v1.3h-1.3zM399 300h1.3v1.3h-1.3zM401 300h1.3v1.3h-1.3zM404 300h1.3v1.3h-1.3zM408 300h1.3v1.3h-1.3zM413 300h1.3v1.3h-1.3zM416 300h1.3v1.3h-1.3zM417 300h1.3v1.3h-1.3zM419 300h1.3v1.3h-1.3zM419.9 300.2h1.3v1.3h-1.3zM420.9 299.8h1.3v1.3h-1.3zM422 300h1.3v1.3h-1.3zM422.9 299.9h1.3v1.3h-1.3zM425.8 300.0h1.3v1.3h-1.3zM428.1 300.3h1.3v1.3h-1.3zM390.2 301.2h1.3v1.3h-1.3zM393 301h1.3v1.3h-1.3zM395 301h1.3v1.3h-1.3zM396.1 301.1h1.3v1.3h-1.3zM398.1 300.9h1.3v1.3h-1.3zM399 301h1.3v1.3h-1.3zM400 301h1.3v1.3h-1.3zM403 301h1.3v1.3h-1.3zM404.3 301.3h1.3v1.3h-1.3zM411 301h1.3v1.3h-1.3zM414 301h1.3v1.3h-1.3zM415 301h1.3v1.3h-1.3zM416 301h1.3v1.3h-1.3zM417 301h1.3v1.3h-1.3zM419 301h1.3v1.3h-1.3zM419.7 301.0h1.3v1.3h-1.3zM423.2 300.9h1.3v1.3h-1.3zM390.7 301.9h1.3v1.3h-1.3zM392 302h1.3v1.3h-1.3zM392.9 302.0h1.3v1.3h-1.3zM395 302h1.3v1.3h-1.3zM396 302h1.3v1.3h-1.3zM398 302h1.3v1.3h-1.3zM400 302h1.3v1.3h-1.3zM413 302h1.3v1.3h-1.3zM417 302h1.3v1.3h-1.3zM418 302h1.3v1.3h-1.3zM419 302h1.3v1.3h-1.3zM420 302h1.3v1.3h-1.3zM421 302h1.3v1.3h-1.3zM423 302h1.3v1.3h-1.3zM425.1 302.1h1.3v1.3h-1.3zM391 303h1.3v1.3h-1.3zM391.8 302.9h1.3v1.3h-1.3zM392.9 303.1h1.3v1.3h-1.3zM393.9 303.2h1.3v1.3h-1.3zM394.9 303.0h1.3v1.3h-1.3zM396 303h1.3v1.3h-1.3zM397 303h1.3v1.3h-1.3zM398 303h1.3v1.3h-1.3zM399 303h1.3v1.3h-1.3zM400 303h1.3v1.3h-1.3zM415 303h1.3v1.3h-1.3zM419 303h1.3v1.3h-1.3zM420 303h1.3v1.3h-1.3zM423 303h1.3v1.3h-1.3zM424.7 303.2h1.3v1.3h-1.3zM387.3 304.0h1.3v1.3h-1.3zM388.9 304.2h1.3v1.3h-1.3zM391 304h1.3v1.3h-1.3zM392.0 304.2h1.3v1.3h-1.3zM393.1 304.0h1.3v1.3h-1.3zM395 304h1.3v1.3h-1.3zM396 304h1.3v1.3h-1.3zM397 304h1.3v1.3h-1.3zM398 304h1.3v1.3h-1.3zM399 304h1.3v1.3h-1.3zM418 304h1.3v1.3h-1.3zM419 304h1.3v1.3h-1.3zM421 304h1.3v1.3h-1.3zM422.3 304.0h1.3v1.3h-1.3zM423 304h1.3v1.3h-1.3zM424 304h1.3v1.3h-1.3zM389.1 304.7h1.3v1.3h-1.3zM391.8 305.0h1.3v1.3h-1.3zM393 305h1.3v1.3h-1.3zM394.3 304.7h1.3v1.3h-1.3zM395 305h1.3v1.3h-1.3zM396 305h1.3v1.3h-1.3zM419 305h1.3v1.3h-1.3zM421 305h1.3v1.3h-1.3zM422 305h1.3v1.3h-1.3zM423 305h1.3v1.3h-1.3zM424 305h1.3v1.3h-1.3zM427.9 304.8h1.3v1.3h-1.3zM388.0 305.9h1.3v1.3h-1.3zM390 306h1.3v1.3h-1.3zM391 306h1.3v1.3h-1.3zM392.0 306.0h1.3v1.3h-1.3zM393 306h1.3v1.3h-1.3zM393.9 306.3h1.3v1.3h-1.3zM395 306h1.3v1.3h-1.3zM396 306h1.3v1.3h-1.3zM397 306h1.3v1.3h-1.3zM419 306h1.3v1.3h-1.3zM421 306h1.3v1.3h-1.3zM422 306h1.3v1.3h-1.3zM423 306h1.3v1.3h-1.3zM424 306h1.3v1.3h-1.3zM424.8 306.0h1.3v1.3h-1.3zM427.0 305.9h1.3v1.3h-1.3zM390 307h1.3v1.3h-1.3zM392.0 307.2h1.3v1.3h-1.3zM393 307h1.3v1.3h-1.3zM395.1 306.9h1.3v1.3h-1.3zM397 307h1.3v1.3h-1.3zM416 307h1.3v1.3h-1.3zM418 307h1.3v1.3h-1.3zM420.2 307.1h1.3v1.3h-1.3zM421 307h1.3v1.3h-1.3zM423 307h1.3v1.3h-1.3zM424 307h1.3v1.3h-1.3zM425.1 306.7h1.3v1.3h-1.3zM426.2 306.8h1.3v1.3h-1.3zM386.7 308.3h1.3v1.3h-1.3zM390 308h1.3v1.3h-1.3zM391 308h1.3v1.3h-1.3zM392 308h1.3v1.3h-1.3zM397 308h1.3v1.3h-1.3zM418 308h1.3v1.3h-1.3zM419.0 307.9h1.3v1.3h-1.3zM420 308h1.3v1.3h-1.3zM421 308h1.3v1.3h-1.3zM423 308h1.3v1.3h-1.3zM424 308h1.3v1.3h-1.3zM425 308h1.3v1.3h-1.3zM426.0 307.8h1.3v1.3h-1.3zM432.7 308.0h1.3v1.3h-1.3zM387.9 309.1h1.3v1.3h-1.3zM388.9 308.8h1.3v1.3h-1.3zM390 309h1.3v1.3h-1.3zM391 309h1.3v1.3h-1.3zM392 309h1.3v1.3h-1.3zM393 309h1.3v1.3h-1.3zM394 309h1.3v1.3h-1.3zM395 309h1.3v1.3h-1.3zM416 309h1.3v1.3h-1.3zM420.1 309.0h1.3v1.3h-1.3zM421.9 309.1h1.3v1.3h-1.3zM424 309h1.3v1.3h-1.3zM426 309h1.3v1.3h-1.3zM428.3 309.0h1.3v1.3h-1.3zM433.8 309.1h1.3v1.3h-1.3zM387.1 309.9h1.3v1.3h-1.3zM389.9 310.3h1.3v1.3h-1.3zM391 310h1.3v1.3h-1.3zM392 310h1.3v1.3h-1.3zM399 310h1.3v1.3h-1.3zM421 310h1.3v1.3h-1.3zM423 310h1.3v1.3h-1.3zM424 310h1.3v1.3h-1.3zM425.0 309.9h1.3v1.3h-1.3zM426.2 309.8h1.3v1.3h-1.3zM387.0 310.7h1.3v1.3h-1.3zM387.7 310.8h1.3v1.3h-1.3zM389 311h1.3v1.3h-1.3zM390.1 310.9h1.3v1.3h-1.3zM391 311h1.3v1.3h-1.3zM392 311h1.3v1.3h-1.3zM395 311h1.3v1.3h-1.3zM419 311h1.3v1.3h-1.3zM423 311h1.3v1.3h-1.3zM424 311h1.3v1.3h-1.3zM425 311h1.3v1.3h-1.3zM426 311h1.3v1.3h-1.3zM427.8 311.0h1.3v1.3h-1.3zM428.8 310.8h1.3v1.3h-1.3zM431.8 310.8h1.3v1.3h-1.3zM388.3 311.8h1.3v1.3h-1.3zM389 312h1.3v1.3h-1.3zM390 312h1.3v1.3h-1.3zM391 312h1.3v1.3h-1.3zM392.1 311.9h1.3v1.3h-1.3zM393 312h1.3v1.3h-1.3zM396 312h1.3v1.3h-1.3zM417 312h1.3v1.3h-1.3zM421 312h1.3v1.3h-1.3zM422 312h1.3v1.3h-1.3zM423 312h1.3v1.3h-1.3zM424 312h1.3v1.3h-1.3zM425 312h1.3v1.3h-1.3zM426.1 312.0h1.3v1.3h-1.3zM433.1 312.0h1.3v1.3h-1.3zM387.2 312.8h1.3v1.3h-1.3zM389 313h1.3v1.3h-1.3zM391 313h1.3v1.3h-1.3zM392 313h1.3v1.3h-1.3zM394 313h1.3v1.3h-1.3zM396 313h1.3v1.3h-1.3zM397 313h1.3v1.3h-1.3zM421 313h1.3v1.3h-1.3zM425 313h1.3v1.3h-1.3zM432.9 313.1h1.3v1.3h-1.3zM389 314h1.3v1.3h-1.3zM390 314h1.3v1.3h-1.3zM390.7 314.3h1.3v1.3h-1.3zM392 314h1.3v1.3h-1.3zM393.0 314.1h1.3v1.3h-1.3zM395 314h1.3v1.3h-1.3zM421 314h1.3v1.3h-1.3zM423 314h1.3v1.3h-1.3zM424.9 314.0h1.3v1.3h-1.3zM426 314h1.3v1.3h-1.3zM427 314h1.3v1.3h-1.3zM429.9 313.8h1.3v1.3h-1.3zM433.2 313.8h1.3v1.3h-1.3zM388.0 315.1h1.3v1.3h-1.3zM390 315h1.3v1.3h-1.3zM391 315h1.3v1.3h-1.3zM392 315h1.3v1.3h-1.3zM393 315h1.3v1.3h-1.3zM421 315h1.3v1.3h-1.3zM422 315h1.3v1.3h-1.3zM424 315h1.3v1.3h-1.3zM427 315h1.3v1.3h-1.3zM427.7 314.8h1.3v1.3h-1.3zM429.2 315.2h1.3v1.3h-1.3zM388.3 315.9h1.3v1.3h-1.3zM389 316h1.3v1.3h-1.3zM391 316h1.3v1.3h-1.3zM392 316h1.3v1.3h-1.3zM393 316h1.3v1.3h-1.3zM394 316h1.3v1.3h-1.3zM396 316h1.3v1.3h-1.3zM421 316h1.3v1.3h-1.3zM422 316h1.3v1.3h-1.3zM423 316h1.3v1.3h-1.3zM425 316h1.3v1.3h-1.3zM426 316h1.3v1.3h-1.3zM427 316h1.3v1.3h-1.3zM387.0 316.7h1.3v1.3h-1.3zM389 317h1.3v1.3h-1.3zM390 317h1.3v1.3h-1.3zM391 317h1.3v1.3h-1.3zM391.8 316.8h1.3v1.3h-1.3zM393 317h1.3v1.3h-1.3zM394 317h1.3v1.3h-1.3zM423 317h1.3v1.3h-1.3zM424 317h1.3v1.3h-1.3zM425 317h1.3v1.3h-1.3zM426.9 317.2h1.3v1.3h-1.3zM389 318h1.3v1.3h-1.3zM390 318h1.3v1.3h-1.3zM391 318h1.3v1.3h-1.3zM392 318h1.3v1.3h-1.3zM393 318h1.3v1.3h-1.3zM421 318h1.3v1.3h-1.3zM423 318h1.3v1.3h-1.3zM424.0 317.8h1.3v1.3h-1.3zM425 318h1.3v1.3h-1.3zM427 318h1.3v1.3h-1.3zM428 318h1.3v1.3h-1.3zM389.1 318.9h1.3v1.3h-1.3zM391 319h1.3v1.3h-1.3zM392 319h1.3v1.3h-1.3zM393 319h1.3v1.3h-1.3zM395 319h1.3v1.3h-1.3zM422 319h1.3v1.3h-1.3zM422.7 319.1h1.3v1.3h-1.3zM424 319h1.3v1.3h-1.3zM424.7 319.0h1.3v1.3h-1.3zM427 319h1.3v1.3h-1.3zM428 319h1.3v1.3h-1.3zM429 319h1.3v1.3h-1.3zM443.1 318.8h1.3v1.3h-1.3zM389 320h1.3v1.3h-1.3zM390.1 320.1h1.3v1.3h-1.3zM391 320h1.3v1.3h-1.3zM392 320h1.3v1.3h-1.3zM393 320h1.3v1.3h-1.3zM394 320h1.3v1.3h-1.3zM422 320h1.3v1.3h-1.3zM423 320h1.3v1.3h-1.3zM426.3 320.3h1.3v1.3h-1.3zM427 320h1.3v1.3h-1.3zM428 320h1.3v1.3h-1.3zM429.0 319.9h1.3v1.3h-1.3zM429.8 320.1h1.3v1.3h-1.3zM432.0 320.2h1.3v1.3h-1.3zM437.2 320.1h1.3v1.3h-1.3zM389 321h1.3v1.3h-1.3zM391.1 321.2h1.3v1.3h-1.3zM393 321h1.3v1.3h-1.3zM422 321h1.3v1.3h-1.3zM423 321h1.3v1.3h-1.3zM424 321h1.3v1.3h-1.3zM425 321h1.3v1.3h-1.3zM426.3 321.0h1.3v1.3h-1.3zM427 321h1.3v1.3h-1.3zM428.9 320.9h1.3v1.3h-1.3zM431.3 321.3h1.3v1.3h-1.3zM435.3 321.0h1.3v1.3h-1.3zM436.1 321.0h1.3v1.3h-1.3zM436.8 321.1h1.3v1.3h-1.3zM390 322h1.3v1.3h-1.3zM391 322h1.3v1.3h-1.3zM393 322h1.3v1.3h-1.3zM424 322h1.3v1.3h-1.3zM425 322h1.3v1.3h-1.3zM426 322h1.3v1.3h-1.3zM428 322h1.3v1.3h-1.3zM429 322h1.3v1.3h-1.3zM430 322h1.3v1.3h-1.3zM431 322h1.3v1.3h-1.3zM432.0 321.8h1.3v1.3h-1.3zM434.2 322.0h1.3v1.3h-1.3zM435.3 321.8h1.3v1.3h-1.3zM437.8 322.0h1.3v1.3h-1.3zM442.7 322.2h1.3v1.3h-1.3zM390 323h1.3v1.3h-1.3zM391 323h1.3v1.3h-1.3zM392 323h1.3v1.3h-1.3zM393 323h1.3v1.3h-1.3zM394 323h1.3v1.3h-1.3zM423 323h1.3v1.3h-1.3zM424 323h1.3v1.3h-1.3zM426 323h1.3v1.3h-1.3zM427 323h1.3v1.3h-1.3zM429.0 323.3h1.3v1.3h-1.3zM432 323h1.3v1.3h-1.3zM437.7 322.7h1.3v1.3h-1.3zM441.7 323.3h1.3v1.3h-1.3zM389.7 324.1h1.3v1.3h-1.3zM391 324h1.3v1.3h-1.3zM392 324h1.3v1.3h-1.3zM425 324h1.3v1.3h-1.3zM426 324h1.3v1.3h-1.3zM427 324h1.3v1.3h-1.3zM428 324h1.3v1.3h-1.3zM429.3 324.0h1.3v1.3h-1.3zM430 324h1.3v1.3h-1.3zM434 324h1.3v1.3h-1.3zM435 324h1.3v1.3h-1.3zM438.0 324.3h1.3v1.3h-1.3zM441.0 323.7h1.3v1.3h-1.3zM442.0 324.2h1.3v1.3h-1.3zM388.1 325.1h1.3v1.3h-1.3zM389 325h1.3v1.3h-1.3zM391 325h1.3v1.3h-1.3zM392 325h1.3v1.3h-1.3zM422 325h1.3v1.3h-1.3zM424 325h1.3v1.3h-1.3zM428 325h1.3v1.3h-1.3zM429.9 325.0h1.3v1.3h-1.3zM432 325h1.3v1.3h-1.3zM433.0 325.2h1.3v1.3h-1.3zM433.9 325.2h1.3v1.3h-1.3zM436 325h1.3v1.3h-1.3zM437.7 325.3h1.3v1.3h-1.3zM438.9 324.9h1.3v1.3h-1.3zM441.2 325.2h1.3v1.3h-1.3zM389.1 326.1h1.3v1.3h-1.3zM391 326h1.3v1.3h-1.3zM393 326h1.3v1.3h-1.3zM425 326h1.3v1.3h-1.3zM426 326h1.3v1.3h-1.3zM427 326h1.3v1.3h-1.3zM428 326h1.3v1.3h-1.3zM430.2 326.1h1.3v1.3h-1.3zM430.7 325.9h1.3v1.3h-1.3zM432 326h1.3v1.3h-1.3zM433 326h1.3v1.3h-1.3zM434 326h1.3v1.3h-1.3zM436 326h1.3v1.3h-1.3zM437.8 325.8h1.3v1.3h-1.3zM439.2 326.2h1.3v1.3h-1.3zM389 327h1.3v1.3h-1.3zM391 327h1.3v1.3h-1.3zM392 327h1.3v1.3h-1.3zM425 327h1.3v1.3h-1.3zM426 327h1.3v1.3h-1.3zM427 327h1.3v1.3h-1.3zM428 327h1.3v1.3h-1.3zM430 327h1.3v1.3h-1.3zM430.7 326.9h1.3v1.3h-1.3zM432 327h1.3v1.3h-1.3zM434 327h1.3v1.3h-1.3zM435 327h1.3v1.3h-1.3zM436 327h1.3v1.3h-1.3zM437 327h1.3v1.3h-1.3zM438 327h1.3v1.3h-1.3zM439 327h1.3v1.3h-1.3zM440.3 326.8h1.3v1.3h-1.3zM441.7 327.0h1.3v1.3h-1.3zM442.9 327.1h1.3v1.3h-1.3zM444.2 326.8h1.3v1.3h-1.3zM388 328h1.3v1.3h-1.3zM389 328h1.3v1.3h-1.3zM390 328h1.3v1.3h-1.3zM391 328h1.3v1.3h-1.3zM392 328h1.3v1.3h-1.3zM426 328h1.3v1.3h-1.3zM428 328h1.3v1.3h-1.3zM429 328h1.3v1.3h-1.3zM430 328h1.3v1.3h-1.3zM431 328h1.3v1.3h-1.3zM432 328h1.3v1.3h-1.3zM433 328h1.3v1.3h-1.3zM434 328h1.3v1.3h-1.3zM435 328h1.3v1.3h-1.3zM436 328h1.3v1.3h-1.3zM438 328h1.3v1.3h-1.3zM439 328h1.3v1.3h-1.3zM440 328h1.3v1.3h-1.3zM441.3 327.8h1.3v1.3h-1.3zM388 329h1.3v1.3h-1.3zM389 329h1.3v1.3h-1.3zM390 329h1.3v1.3h-1.3zM391 329h1.3v1.3h-1.3zM392 329h1.3v1.3h-1.3zM425 329h1.3v1.3h-1.3zM426 329h1.3v1.3h-1.3zM428 329h1.3v1.3h-1.3zM430 329h1.3v1.3h-1.3zM431 329h1.3v1.3h-1.3zM432 329h1.3v1.3h-1.3zM433.0 329.0h1.3v1.3h-1.3zM434 329h1.3v1.3h-1.3zM435 329h1.3v1.3h-1.3zM436 329h1.3v1.3h-1.3zM437 329h1.3v1.3h-1.3zM438 329h1.3v1.3h-1.3zM440 329h1.3v1.3h-1.3zM441 329h1.3v1.3h-1.3zM444.0 329.2h1.3v1.3h-1.3zM388 330h1.3v1.3h-1.3zM389.1 330.0h1.3v1.3h-1.3zM390 330h1.3v1.3h-1.3zM391 330h1.3v1.3h-1.3zM392 330h1.3v1.3h-1.3zM429 330h1.3v1.3h-1.3zM430 330h1.3v1.3h-1.3zM431 330h1.3v1.3h-1.3zM433 330h1.3v1.3h-1.3zM434 330h1.3v1.3h-1.3zM435.9 330.3h1.3v1.3h-1.3zM437 330h1.3v1.3h-1.3zM437.9 330.2h1.3v1.3h-1.3zM442.1 330.2h1.3v1.3h-1.3zM388 331h1.3v1.3h-1.3zM389 331h1.3v1.3h-1.3zM390 331h1.3v1.3h-1.3zM426 331h1.3v1.3h-1.3zM429 331h1.3v1.3h-1.3zM430 331h1.3v1.3h-1.3zM431 331h1.3v1.3h-1.3zM432 331h1.3v1.3h-1.3zM432.8 330.8h1.3v1.3h-1.3zM436 331h1.3v1.3h-1.3zM438 331h1.3v1.3h-1.3zM439.2 331.2h1.3v1.3h-1.3zM440 331h1.3v1.3h-1.3zM442 331h1.3v1.3h-1.3zM445.1 331.2h1.3v1.3h-1.3zM449.0 331.2h1.3v1.3h-1.3zM388 332h1.3v1.3h-1.3zM389 332h1.3v1.3h-1.3zM390 332h1.3v1.3h-1.3zM425 332h1.3v1.3h-1.3zM426 332h1.3v1.3h-1.3zM428 332h1.3v1.3h-1.3zM430 332h1.3v1.3h-1.3zM431 332h1.3v1.3h-1.3zM435 332h1.3v1.3h-1.3zM436 332h1.3v1.3h-1.3zM438 332h1.3v1.3h-1.3zM439.0 332.2h1.3v1.3h-1.3zM440 332h1.3v1.3h-1.3zM441 332h1.3v1.3h-1.3zM442 332h1.3v1.3h-1.3zM388.0 333.0h1.3v1.3h-1.3zM389 333h1.3v1.3h-1.3zM390 333h1.3v1.3h-1.3zM392 333h1.3v1.3h-1.3zM427 333h1.3v1.3h-1.3zM428 333h1.3v1.3h-1.3zM430 333h1.3v1.3h-1.3zM431 333h1.3v1.3h-1.3zM433 333h1.3v1.3h-1.3zM434 333h1.3v1.3h-1.3zM436 333h1.3v1.3h-1.3zM437 333h1.3v1.3h-1.3zM438 333h1.3v1.3h-1.3zM439 333h1.3v1.3h-1.3zM440 333h1.3v1.3h-1.3zM443.3 332.7h1.3v1.3h-1.3zM444.2 332.9h1.3v1.3h-1.3zM448.8 333.1h1.3v1.3h-1.3zM388.9 334.1h1.3v1.3h-1.3zM391 334h1.3v1.3h-1.3zM426 334h1.3v1.3h-1.3zM427 334h1.3v1.3h-1.3zM428 334h1.3v1.3h-1.3zM430 334h1.3v1.3h-1.3zM431 334h1.3v1.3h-1.3zM432 334h1.3v1.3h-1.3zM433 334h1.3v1.3h-1.3zM434 334h1.3v1.3h-1.3zM435 334h1.3v1.3h-1.3zM436 334h1.3v1.3h-1.3zM437 334h1.3v1.3h-1.3zM438 334h1.3v1.3h-1.3zM439 334h1.3v1.3h-1.3zM441 334h1.3v1.3h-1.3zM442 334h1.3v1.3h-1.3zM444.2 334.0h1.3v1.3h-1.3zM445.1 333.9h1.3v1.3h-1.3zM387.7 335.2h1.3v1.3h-1.3zM389 335h1.3v1.3h-1.3zM390 335h1.3v1.3h-1.3zM391 335h1.3v1.3h-1.3zM424 335h1.3v1.3h-1.3zM427 335h1.3v1.3h-1.3zM430 335h1.3v1.3h-1.3zM431.0 335.1h1.3v1.3h-1.3zM432 335h1.3v1.3h-1.3zM433.1 335.2h1.3v1.3h-1.3zM433.7 335.2h1.3v1.3h-1.3zM435 335h1.3v1.3h-1.3zM438 335h1.3v1.3h-1.3zM439 335h1.3v1.3h-1.3zM440 335h1.3v1.3h-1.3zM441 335h1.3v1.3h-1.3zM441.8 335.3h1.3v1.3h-1.3zM443 335h1.3v1.3h-1.3zM390 336h1.3v1.3h-1.3zM391 336h1.3v1.3h-1.3zM429 336h1.3v1.3h-1.3zM430 336h1.3v1.3h-1.3zM431 336h1.3v1.3h-1.3zM432 336h1.3v1.3h-1.3zM434 336h1.3v1.3h-1.3zM435 336h1.3v1.3h-1.3zM436 336h1.3v1.3h-1.3zM437 336h1.3v1.3h-1.3zM438 336h1.3v1.3h-1.3zM439 336h1.3v1.3h-1.3zM440 336h1.3v1.3h-1.3zM441 336h1.3v1.3h-1.3zM442 336h1.3v1.3h-1.3zM443.1 336.1h1.3v1.3h-1.3zM390.1 336.9h1.3v1.3h-1.3zM393 337h1.3v1.3h-1.3zM424 337h1.3v1.3h-1.3zM427 337h1.3v1.3h-1.3zM428 337h1.3v1.3h-1.3zM429 337h1.3v1.3h-1.3zM430 337h1.3v1.3h-1.3zM431 337h1.3v1.3h-1.3zM433 337h1.3v1.3h-1.3zM435 337h1.3v1.3h-1.3zM437 337h1.3v1.3h-1.3zM438 337h1.3v1.3h-1.3zM439 337h1.3v1.3h-1.3zM441.1 337.0h1.3v1.3h-1.3zM443 337h1.3v1.3h-1.3zM451.3 336.7h1.3v1.3h-1.3zM389.8 338.0h1.3v1.3h-1.3zM392 338h1.3v1.3h-1.3zM427 338h1.3v1.3h-1.3zM430 338h1.3v1.3h-1.3zM433 338h1.3v1.3h-1.3zM434 338h1.3v1.3h-1.3zM436.0 337.8h1.3v1.3h-1.3zM437 338h1.3v1.3h-1.3zM440 338h1.3v1.3h-1.3zM442 338h1.3v1.3h-1.3zM443 338h1.3v1.3h-1.3zM445.9 338.3h1.3v1.3h-1.3zM387.1 338.9h1.3v1.3h-1.3zM388.3 339.0h1.3v1.3h-1.3zM389 339h1.3v1.3h-1.3zM390 339h1.3v1.3h-1.3zM391 339h1.3v1.3h-1.3zM392 339h1.3v1.3h-1.3zM393 339h1.3v1.3h-1.3zM427 339h1.3v1.3h-1.3zM428 339h1.3v1.3h-1.3zM429 339h1.3v1.3h-1.3zM430 339h1.3v1.3h-1.3zM431 339h1.3v1.3h-1.3zM432 339h1.3v1.3h-1.3zM433 339h1.3v1.3h-1.3zM434 339h1.3v1.3h-1.3zM435 339h1.3v1.3h-1.3zM437 339h1.3v1.3h-1.3zM438 339h1.3v1.3h-1.3zM439 339h1.3v1.3h-1.3zM443 339h1.3v1.3h-1.3zM446.1 338.9h1.3v1.3h-1.3zM389.0 339.8h1.3v1.3h-1.3zM423 340h1.3v1.3h-1.3zM425 340h1.3v1.3h-1.3zM426 340h1.3v1.3h-1.3zM427 340h1.3v1.3h-1.3zM427.9 340.1h1.3v1.3h-1.3zM429 340h1.3v1.3h-1.3zM432 340h1.3v1.3h-1.3zM433 340h1.3v1.3h-1.3zM434 340h1.3v1.3h-1.3zM436.1 339.9h1.3v1.3h-1.3zM439.0 339.8h1.3v1.3h-1.3zM440 340h1.3v1.3h-1.3zM441 340h1.3v1.3h-1.3zM442 340h1.3v1.3h-1.3zM442.9 340.1h1.3v1.3h-1.3zM388.9 340.9h1.3v1.3h-1.3zM390 341h1.3v1.3h-1.3zM391 341h1.3v1.3h-1.3zM393 341h1.3v1.3h-1.3zM423 341h1.3v1.3h-1.3zM424 341h1.3v1.3h-1.3zM425.0 340.9h1.3v1.3h-1.3zM426 341h1.3v1.3h-1.3zM428 341h1.3v1.3h-1.3zM429 341h1.3v1.3h-1.3zM430 341h1.3v1.3h-1.3zM431 341h1.3v1.3h-1.3zM433 341h1.3v1.3h-1.3zM434 341h1.3v1.3h-1.3zM435 341h1.3v1.3h-1.3zM436 341h1.3v1.3h-1.3zM437 341h1.3v1.3h-1.3zM438 341h1.3v1.3h-1.3zM438.8 341.0h1.3v1.3h-1.3zM440 341h1.3v1.3h-1.3zM440.8 341.1h1.3v1.3h-1.3zM442 341h1.3v1.3h-1.3zM389.0 341.8h1.3v1.3h-1.3zM390 342h1.3v1.3h-1.3zM391.1 341.8h1.3v1.3h-1.3zM392 342h1.3v1.3h-1.3zM392.8 341.9h1.3v1.3h-1.3zM394 342h1.3v1.3h-1.3zM425 342h1.3v1.3h-1.3zM425.9 341.8h1.3v1.3h-1.3zM427 342h1.3v1.3h-1.3zM429 342h1.3v1.3h-1.3zM430 342h1.3v1.3h-1.3zM432 342h1.3v1.3h-1.3zM432.7 342.0h1.3v1.3h-1.3zM434 342h1.3v1.3h-1.3zM435 342h1.3v1.3h-1.3zM436 342h1.3v1.3h-1.3zM437 342h1.3v1.3h-1.3zM438 342h1.3v1.3h-1.3zM441 342h1.3v1.3h-1.3zM446.2 342.3h1.3v1.3h-1.3zM447.2 342.1h1.3v1.3h-1.3zM387.2 343.0h1.3v1.3h-1.3zM388.8 343.3h1.3v1.3h-1.3zM390.0 343.3h1.3v1.3h-1.3zM391 343h1.3v1.3h-1.3zM392.1 343.0h1.3v1.3h-1.3zM393 343h1.3v1.3h-1.3zM425 343h1.3v1.3h-1.3zM426 343h1.3v1.3h-1.3zM428.3 343.2h1.3v1.3h-1.3zM429 343h1.3v1.3h-1.3zM430.0 343.1h1.3v1.3h-1.3zM432 343h1.3v1.3h-1.3zM433 343h1.3v1.3h-1.3zM434 343h1.3v1.3h-1.3zM436 343h1.3v1.3h-1.3zM438 343h1.3v1.3h-1.3zM439 343h1.3v1.3h-1.3zM440 343h1.3v1.3h-1.3zM441 343h1.3v1.3h-1.3zM445.2 342.9h1.3v1.3h-1.3zM391 344h1.3v1.3h-1.3zM392 344h1.3v1.3h-1.3zM393 344h1.3v1.3h-1.3zM395 344h1.3v1.3h-1.3zM421 344h1.3v1.3h-1.3zM423 344h1.3v1.3h-1.3zM424 344h1.3v1.3h-1.3zM425 344h1.3v1.3h-1.3zM426 344h1.3v1.3h-1.3zM426.8 344.0h1.3v1.3h-1.3zM427.9 343.8h1.3v1.3h-1.3zM429 344h1.3v1.3h-1.3zM432 344h1.3v1.3h-1.3zM437 344h1.3v1.3h-1.3zM438 344h1.3v1.3h-1.3zM439 344h1.3v1.3h-1.3zM440 344h1.3v1.3h-1.3zM441 344h1.3v1.3h-1.3zM445.8 344.1h1.3v1.3h-1.3zM453.3 344.0h1.3v1.3h-1.3zM390.2 345.0h1.3v1.3h-1.3zM391.3 345.0h1.3v1.3h-1.3zM393 345h1.3v1.3h-1.3zM394 345h1.3v1.3h-1.3zM397 345h1.3v1.3h-1.3zM420 345h1.3v1.3h-1.3zM421.1 345.2h1.3v1.3h-1.3zM422 345h1.3v1.3h-1.3zM423 345h1.3v1.3h-1.3zM425.3 344.9h1.3v1.3h-1.3zM426 345h1.3v1.3h-1.3zM427 345h1.3v1.3h-1.3zM428 345h1.3v1.3h-1.3zM429 345h1.3v1.3h-1.3zM430 345h1.3v1.3h-1.3zM431 345h1.3v1.3h-1.3zM432 345h1.3v1.3h-1.3zM433 345h1.3v1.3h-1.3zM434 345h1.3v1.3h-1.3zM435 345h1.3v1.3h-1.3zM437 345h1.3v1.3h-1.3zM439 345h1.3v1.3h-1.3zM440 345h1.3v1.3h-1.3zM444.9 345.1h1.3v1.3h-1.3zM392 346h1.3v1.3h-1.3zM393 346h1.3v1.3h-1.3zM394 346h1.3v1.3h-1.3zM396 346h1.3v1.3h-1.3zM422 346h1.3v1.3h-1.3zM423 346h1.3v1.3h-1.3zM424.1 346.0h1.3v1.3h-1.3zM427 346h1.3v1.3h-1.3zM429 346h1.3v1.3h-1.3zM431 346h1.3v1.3h-1.3zM432 346h1.3v1.3h-1.3zM433 346h1.3v1.3h-1.3zM434 346h1.3v1.3h-1.3zM435 346h1.3v1.3h-1.3zM436 346h1.3v1.3h-1.3zM437.1 345.8h1.3v1.3h-1.3zM438 346h1.3v1.3h-1.3zM445.0 346.1h1.3v1.3h-1.3zM394 347h1.3v1.3h-1.3zM395 347h1.3v1.3h-1.3zM396 347h1.3v1.3h-1.3zM397 347h1.3v1.3h-1.3zM400 347h1.3v1.3h-1.3zM419 347h1.3v1.3h-1.3zM421 347h1.3v1.3h-1.3zM422 347h1.3v1.3h-1.3zM423.2 347.1h1.3v1.3h-1.3zM426.9 347.2h1.3v1.3h-1.3zM430 347h1.3v1.3h-1.3zM431 347h1.3v1.3h-1.3zM432 347h1.3v1.3h-1.3zM434.8 347.2h1.3v1.3h-1.3zM436 347h1.3v1.3h-1.3zM437 347h1.3v1.3h-1.3zM438 347h1.3v1.3h-1.3zM395 348h1.3v1.3h-1.3zM397 348h1.3v1.3h-1.3zM398 348h1.3v1.3h-1.3zM399 348h1.3v1.3h-1.3zM417 348h1.3v1.3h-1.3zM419 348h1.3v1.3h-1.3zM419.8 348.2h1.3v1.3h-1.3zM421.3 347.9h1.3v1.3h-1.3zM422 348h1.3v1.3h-1.3zM423.0 348.1h1.3v1.3h-1.3zM424 348h1.3v1.3h-1.3zM425 348h1.3v1.3h-1.3zM426 348h1.3v1.3h-1.3zM427 348h1.3v1.3h-1.3zM428 348h1.3v1.3h-1.3zM429 348h1.3v1.3h-1.3zM430 348h1.3v1.3h-1.3zM431 348h1.3v1.3h-1.3zM432 348h1.3v1.3h-1.3zM433 348h1.3v1.3h-1.3zM435.7 348.1h1.3v1.3h-1.3zM439.3 348.2h1.3v1.3h-1.3zM393.0 348.8h1.3v1.3h-1.3zM393.8 349.1h1.3v1.3h-1.3zM395 349h1.3v1.3h-1.3zM396.8 348.8h1.3v1.3h-1.3zM398 349h1.3v1.3h-1.3zM399 349h1.3v1.3h-1.3zM400.2 349.0h1.3v1.3h-1.3zM413 349h1.3v1.3h-1.3zM416 349h1.3v1.3h-1.3zM417 349h1.3v1.3h-1.3zM418 349h1.3v1.3h-1.3zM419 349h1.3v1.3h-1.3zM420 349h1.3v1.3h-1.3zM420.7 348.8h1.3v1.3h-1.3zM423 349h1.3v1.3h-1.3zM424 349h1.3v1.3h-1.3zM430.0 348.8h1.3v1.3h-1.3zM433.8 349.2h1.3v1.3h-1.3zM396 350h1.3v1.3h-1.3zM397 350h1.3v1.3h-1.3zM398 350h1.3v1.3h-1.3zM399.0 350.3h1.3v1.3h-1.3zM400 350h1.3v1.3h-1.3zM402 350h1.3v1.3h-1.3zM403 350h1.3v1.3h-1.3zM406 350h1.3v1.3h-1.3zM410 350h1.3v1.3h-1.3zM411 350h1.3v1.3h-1.3zM414 350h1.3v1.3h-1.3zM415 350h1.3v1.3h-1.3zM416 350h1.3v1.3h-1.3zM416.8 349.8h1.3v1.3h-1.3zM418 350h1.3v1.3h-1.3zM420 350h1.3v1.3h-1.3zM424.0 350.1h1.3v1.3h-1.3zM424.7 350.0h1.3v1.3h-1.3zM427.1 350.0h1.3v1.3h-1.3zM428.2 350.2h1.3v1.3h-1.3zM428.8 350.0h1.3v1.3h-1.3zM430.1 350.0h1.3v1.3h-1.3zM434.8 350.1h1.3v1.3h-1.3zM438.0 350.3h1.3v1.3h-1.3zM393.1 350.8h1.3v1.3h-1.3zM398 351h1.3v1.3h-1.3zM399 351h1.3v1.3h-1.3zM399.9 350.9h1.3v1.3h-1.3zM401 351h1.3v1.3h-1.3zM402 351h1.3v1.3h-1.3zM403 351h1.3v1.3h-1.3zM406 351h1.3v1.3h-1.3zM407 351h1.3v1.3h-1.3zM408 351h1.3v1.3h-1.3zM409 351h1.3v1.3h-1.3zM410 351h1.3v1.3h-1.3zM411 351h1.3v1.3h-1.3zM412 351h1.3v1.3h-1.3zM413 351h1.3v1.3h-1.3zM414 351h1.3v1.3h-1.3zM415 351h1.3v1.3h-1.3zM416 351h1.3v1.3h-1.3zM419 351h1.3v1.3h-1.3zM423.8 350.9h1.3v1.3h-1.3zM427.3 350.9h1.3v1.3h-1.3zM433.1 351.0h1.3v1.3h-1.3zM437.9 350.9h1.3v1.3h-1.3zM440.7 350.8h1.3v1.3h-1.3zM447.1 351.2h1.3v1.3h-1.3zM391.9 351.8h1.3v1.3h-1.3zM396.2 352.2h1.3v1.3h-1.3zM398 352h1.3v1.3h-1.3zM399 352h1.3v1.3h-1.3zM401 352h1.3v1.3h-1.3zM402 352h1.3v1.3h-1.3zM404 352h1.3v1.3h-1.3zM407 352h1.3v1.3h-1.3zM408 352h1.3v1.3h-1.3zM410 352h1.3v1.3h-1.3zM411 352h1.3v1.3h-1.3zM413 352h1.3v1.3h-1.3zM414 352h1.3v1.3h-1.3zM414.9 352.2h1.3v1.3h-1.3zM417 352h1.3v1.3h-1.3zM417.8 352.0h1.3v1.3h-1.3zM420.8 351.7h1.3v1.3h-1.3zM421.8 352.3h1.3v1.3h-1.3zM395.2 352.7h1.3v1.3h-1.3zM400 353h1.3v1.3h-1.3zM400.8 352.7h1.3v1.3h-1.3zM402.1 353.2h1.3v1.3h-1.3zM403 353h1.3v1.3h-1.3zM404 353h1.3v1.3h-1.3zM405 353h1.3v1.3h-1.3zM406 353h1.3v1.3h-1.3zM407.2 353.3h1.3v1.3h-1.3zM408 353h1.3v1.3h-1.3zM409 353h1.3v1.3h-1.3zM410 353h1.3v1.3h-1.3zM411 353h1.3v1.3h-1.3zM412 353h1.3v1.3h-1.3zM413 353h1.3v1.3h-1.3zM414.0 352.7h1.3v1.3h-1.3zM415.2 353.0h1.3v1.3h-1.3zM422.7 352.7h1.3v1.3h-1.3zM435.1 353.3h1.3v1.3h-1.3zM399.3 353.9h1.3v1.3h-1.3zM400.2 354.0h1.3v1.3h-1.3zM401.2 353.8h1.3v1.3h-1.3zM402.3 353.7h1.3v1.3h-1.3zM403 354h1.3v1.3h-1.3zM404 354h1.3v1.3h-1.3zM406 354h1.3v1.3h-1.3zM407 354h1.3v1.3h-1.3zM408 354h1.3v1.3h-1.3zM409 354h1.3v1.3h-1.3zM412 354h1.3v1.3h-1.3zM412.8 354.2h1.3v1.3h-1.3zM417.2 354.1h1.3v1.3h-1.3zM420.2 354.1h1.3v1.3h-1.3zM438.9 354.0h1.3v1.3h-1.3zM392.9 354.8h1.3v1.3h-1.3zM396.2 355.0h1.3v1.3h-1.3zM398.1 354.9h1.3v1.3h-1.3zM401.0 355.0h1.3v1.3h-1.3zM410.2 355.1h1.3v1.3h-1.3zM411.8 354.9h1.3v1.3h-1.3zM413.1 355.2h1.3v1.3h-1.3zM420.8 355.1h1.3v1.3h-1.3zM425.1 355.2h1.3v1.3h-1.3zM431.0 354.9h1.3v1.3h-1.3zM403.3 355.7h1.3v1.3h-1.3zM406.2 355.8h1.3v1.3h-1.3zM408.8 356.0h1.3v1.3h-1.3zM414.1 355.8h1.3v1.3h-1.3zM407.8 357.3h1.3v1.3h-1.3zM413.0 357.1h1.3v1.3h-1.3zM427.8 356.7h1.3v1.3h-1.3z"/>
<path fill="#3040d0" d="M402 297h1.3v1.3h-1.3zM403 297h1.3v1.3h-1.3zM408 297h1.3v1.3h-1.3zM411 298h1.3v1.3h-1.3zM413 298h1.3v1.3h-1.3zM399 299h1.3v1.3h-1.3zM402 299h1.3v1.3h-1.3zM406 299h1.3v1.3h-1.3zM407 299h1.3v1.3h-1.3zM408 299h1.3v1.3h-1.3zM409 299h1.3v1.3h-1.3zM411 299h1.3v1.3h-1.3zM413 299h1.3v1.3h-1.3zM403 300h1.3v1.3h-1.3zM406 300h1.3v1.3h-1.3zM409 300h1.3v1.3h-1.3zM410 300h1.3v1.3h-1.3zM411 300h1.3v1.3h-1.3zM412 300h1.3v1.3h-1.3zM414 300h1.3v1.3h-1.3zM402 301h1.3v1.3h-1.3zM407 301h1.3v1.3h-1.3zM408 301h1.3v1.3h-1.3zM412 301h1.3v1.3h-1.3zM418 301h1.3v1.3h-1.3zM399 302h1.3v1.3h-1.3zM401 302h1.3v1.3h-1.3zM409 302h1.3v1.3h-1.3zM403 303h1.3v1.3h-1.3zM414 303h1.3v1.3h-1.3zM416 303h1.3v1.3h-1.3zM417 303h1.3v1.3h-1.3zM418 303h1.3v1.3h-1.3zM405 304h1.3v1.3h-1.3zM414 304h1.3v1.3h-1.3zM417 304h1.3v1.3h-1.3zM401 305h1.3v1.3h-1.3zM403 305h1.3v1.3h-1.3zM404 305h1.3v1.3h-1.3zM411 305h1.3v1.3h-1.3zM413 305h1.3v1.3h-1.3zM414 305h1.3v1.3h-1.3zM417 305h1.3v1.3h-1.3zM398 306h1.3v1.3h-1.3zM417 306h1.3v1.3h-1.3zM420 306h1.3v1.3h-1.3zM394 307h1.3v1.3h-1.3zM398 307h1.3v1.3h-1.3zM401 307h1.3v1.3h-1.3zM419 307h1.3v1.3h-1.3zM422 307h1.3v1.3h-1.3zM394 308h1.3v1.3h-1.3zM395 308h1.3v1.3h-1.3zM396 308h1.3v1.3h-1.3zM399 308h1.3v1.3h-1.3zM417 308h1.3v1.3h-1.3zM422 308h1.3v1.3h-1.3zM396 309h1.3v1.3h-1.3zM397 309h1.3v1.3h-1.3zM421 309h1.3v1.3h-1.3zM393 310h1.3v1.3h-1.3zM394 310h1.3v1.3h-1.3zM395 310h1.3v1.3h-1.3zM396 310h1.3v1.3h-1.3zM419 310h1.3v1.3h-1.3zM420 310h1.3v1.3h-1.3zM422 310h1.3v1.3h-1.3zM394 311h1.3v1.3h-1.3zM396 311h1.3v1.3h-1.3zM398 311h1.3v1.3h-1.3zM418 311h1.3v1.3h-1.3zM420 311h1.3v1.3h-1.3zM421 311h1.3v1.3h-1.3zM422 311h1.3v1.3h-1.3zM394 312h1.3v1.3h-1.3zM400 312h1.3v1.3h-1.3zM414 312h1.3v1.3h-1.3zM418 312h1.3v1.3h-1.3zM419 312h1.3v1.3h-1.3zM393 313h1.3v1.3h-1.3zM420 313h1.3v1.3h-1.3zM422 313h1.3v1.3h-1.3zM394 314h1.3v1.3h-1.3zM396 314h1.3v1.3h-1.3zM422 314h1.3v1.3h-1.3zM394 315h1.3v1.3h-1.3zM396 315h1.3v1.3h-1.3zM398 315h1.3v1.3h-1.3zM418 315h1.3v1.3h-1.3zM420 315h1.3v1.3h-1.3zM395 316h1.3v1.3h-1.3zM397 316h1.3v1.3h-1.3zM420 316h1.3v1.3h-1.3zM417 317h1.3v1.3h-1.3zM421 317h1.3v1.3h-1.3zM422 317h1.3v1.3h-1.3zM394 318h1.3v1.3h-1.3zM395 318h1.3v1.3h-1.3zM420 318h1.3v1.3h-1.3zM422 318h1.3v1.3h-1.3zM394 319h1.3v1.3h-1.3zM397 319h1.3v1.3h-1.3zM421 320h1.3v1.3h-1.3zM424 320h1.3v1.3h-1.3zM394 321h1.3v1.3h-1.3zM392 322h1.3v1.3h-1.3zM394 322h1.3v1.3h-1.3zM421 322h1.3v1.3h-1.3zM423 322h1.3v1.3h-1.3zM425 323h1.3v1.3h-1.3zM393 324h1.3v1.3h-1.3zM394 324h1.3v1.3h-1.3zM395 324h1.3v1.3h-1.3zM422 324h1.3v1.3h-1.3zM423 324h1.3v1.3h-1.3zM394 325h1.3v1.3h-1.3zM423 325h1.3v1.3h-1.3zM427 325h1.3v1.3h-1.3zM392 326h1.3v1.3h-1.3zM423 326h1.3v1.3h-1.3zM424 326h1.3v1.3h-1.3zM421 327h1.3v1.3h-1.3zM422 327h1.3v1.3h-1.3zM429 327h1.3v1.3h-1.3zM393 328h1.3v1.3h-1.3zM422 328h1.3v1.3h-1.3zM425 328h1.3v1.3h-1.3zM427 328h1.3v1.3h-1.3zM393 329h1.3v1.3h-1.3zM422 329h1.3v1.3h-1.3zM424 329h1.3v1.3h-1.3zM427 329h1.3v1.3h-1.3zM429 329h1.3v1.3h-1.3zM424 330h1.3v1.3h-1.3zM426 330h1.3v1.3h-1.3zM427 330h1.3v1.3h-1.3zM432 330h1.3v1.3h-1.3zM424 331h1.3v1.3h-1.3zM425 331h1.3v1.3h-1.3zM427 331h1.3v1.3h-1.3zM428 331h1.3v1.3h-1.3zM434 331h1.3v1.3h-1.3zM424 332h1.3v1.3h-1.3zM427 332h1.3v1.3h-1.3zM429 332h1.3v1.3h-1.3zM433 332h1.3v1.3h-1.3zM434 332h1.3v1.3h-1.3zM391 333h1.3v1.3h-1.3zM424 333h1.3v1.3h-1.3zM426 333h1.3v1.3h-1.3zM432 333h1.3v1.3h-1.3zM392 334h1.3v1.3h-1.3zM429 334h1.3v1.3h-1.3zM392 335h1.3v1.3h-1.3zM425 335h1.3v1.3h-1.3zM428 335h1.3v1.3h-1.3zM429 335h1.3v1.3h-1.3zM436 335h1.3v1.3h-1.3zM392 336h1.3v1.3h-1.3zM425 336h1.3v1.3h-1.3zM426 336h1.3v1.3h-1.3zM428 336h1.3v1.3h-1.3zM433 336h1.3v1.3h-1.3zM426 337h1.3v1.3h-1.3zM432 337h1.3v1.3h-1.3zM436 337h1.3v1.3h-1.3zM391 338h1.3v1.3h-1.3zM394 338h1.3v1.3h-1.3zM395 338h1.3v1.3h-1.3zM426 338h1.3v1.3h-1.3zM428 338h1.3v1.3h-1.3zM429 338h1.3v1.3h-1.3zM431 338h1.3v1.3h-1.3zM432 338h1.3v1.3h-1.3zM394 339h1.3v1.3h-1.3zM395 339h1.3v1.3h-1.3zM425 339h1.3v1.3h-1.3zM426 339h1.3v1.3h-1.3zM436 339h1.3v1.3h-1.3zM392 340h1.3v1.3h-1.3zM393 340h1.3v1.3h-1.3zM421 340h1.3v1.3h-1.3zM422 340h1.3v1.3h-1.3zM430 340h1.3v1.3h-1.3zM431 340h1.3v1.3h-1.3zM435 340h1.3v1.3h-1.3zM437 340h1.3v1.3h-1.3zM394 341h1.3v1.3h-1.3zM432 341h1.3v1.3h-1.3zM421 342h1.3v1.3h-1.3zM422 342h1.3v1.3h-1.3zM423 342h1.3v1.3h-1.3zM431 342h1.3v1.3h-1.3zM394 343h1.3v1.3h-1.3zM395 343h1.3v1.3h-1.3zM420 343h1.3v1.3h-1.3zM421 343h1.3v1.3h-1.3zM394 344h1.3v1.3h-1.3zM396 344h1.3v1.3h-1.3zM398 344h1.3v1.3h-1.3zM420 344h1.3v1.3h-1.3zM422 344h1.3v1.3h-1.3zM395 345h1.3v1.3h-1.3zM424 345h1.3v1.3h-1.3zM418 346h1.3v1.3h-1.3zM419 346h1.3v1.3h-1.3zM420 346h1.3v1.3h-1.3zM421 346h1.3v1.3h-1.3zM398 347h1.3v1.3h-1.3zM414 347h1.3v1.3h-1.3zM417 347h1.3v1.3h-1.3zM418 347h1.3v1.3h-1.3zM420 347h1.3v1.3h-1.3zM401 348h1.3v1.3h-1.3zM402 348h1.3v1.3h-1.3zM418 348h1.3v1.3h-1.3zM402 349h1.3v1.3h-1.3zM404 349h1.3v1.3h-1.3zM412 349h1.3v1.3h-1.3zM415 349h1.3v1.3h-1.3zM401 350h1.3v1.3h-1.3zM409 350h1.3v1.3h-1.3zM412 350h1.3v1.3h-1.3zM413 350h1.3v1.3h-1.3zM405 351h1.3v1.3h-1.3zM409 352h1.3v1.3h-1.3z"/>
<path fill="#40a8d0" d="M404 298h1.3v1.3h-1.3zM406 298h1.3v1.3h-1.3zM400 300h1.3v1.3h-1.3zM402 300h1.3v1.3h-1.3zM407 300h1.3v1.3h-1.3zM401 301h1.3v1.3h-1.3zM405 301h1.3v1.3h-1.3zM410 301h1.3v1.3h-1.3zM402 302h1.3v1.3h-1.3zM403 302h1.3v1.3h-1.3zM405 302h1.3v1.3h-1.3zM406 302h1.3v1.3h-1.3zM407 302h1.3v1.3h-1.3zM410 302h1.3v1.3h-1.3zM412 302h1.3v1.3h-1.3zM414 302h1.3v1.3h-1.3zM416 302h1.3v1.3h-1.3zM401 303h1.3v1.3h-1.3zM404 303h1.3v1.3h-1.3zM407 303h1.3v1.3h-1.3zM408 303h1.3v1.3h-1.3zM412 303h1.3v1.3h-1.3zM413 303h1.3v1.3h-1.3zM400 304h1.3v1.3h-1.3zM406 304h1.3v1.3h-1.3zM407 304h1.3v1.3h-1.3zM408 304h1.3v1.3h-1.3zM410 304h1.3v1.3h-1.3zM412 304h1.3v1.3h-1.3zM397 305h1.3v1.3h-1.3zM398 305h1.3v1.3h-1.3zM402 305h1.3v1.3h-1.3zM405 305h1.3v1.3h-1.3zM408 305h1.3v1.3h-1.3zM418 305h1.3v1.3h-1.3zM402 306h1.3v1.3h-1.3zM403 306h1.3v1.3h-1.3zM413 306h1.3v1.3h-1.3zM396 307h1.3v1.3h-1.3zM400 307h1.3v1.3h-1.3zM404 307h1.3v1.3h-1.3zM413 307h1.3v1.3h-1.3zM417 307h1.3v1.3h-1.3zM398 308h1.3v1.3h-1.3zM400 308h1.3v1.3h-1.3zM404 308h1.3v1.3h-1.3zM413 308h1.3v1.3h-1.3zM414 308h1.3v1.3h-1.3zM398 309h1.3v1.3h-1.3zM399 309h1.3v1.3h-1.3zM407 309h1.3v1.3h-1.3zM415 309h1.3v1.3h-1.3zM418 309h1.3v1.3h-1.3zM419 309h1.3v1.3h-1.3zM397 310h1.3v1.3h-1.3zM398 310h1.3v1.3h-1.3zM418 310h1.3v1.3h-1.3zM399 311h1.3v1.3h-1.3zM401 311h1.3v1.3h-1.3zM416 311h1.3v1.3h-1.3zM417 311h1.3v1.3h-1.3zM395 312h1.3v1.3h-1.3zM397 312h1.3v1.3h-1.3zM420 312h1.3v1.3h-1.3zM395 313h1.3v1.3h-1.3zM398 313h1.3v1.3h-1.3zM415 313h1.3v1.3h-1.3zM416 313h1.3v1.3h-1.3zM419 313h1.3v1.3h-1.3zM397 314h1.3v1.3h-1.3zM417 314h1.3v1.3h-1.3zM418 314h1.3v1.3h-1.3zM419 314h1.3v1.3h-1.3zM420 314h1.3v1.3h-1.3zM417 315h1.3v1.3h-1.3zM399 316h1.3v1.3h-1.3zM416 316h1.3v1.3h-1.3zM419 316h1.3v1.3h-1.3zM395 317h1.3v1.3h-1.3zM396 317h1.3v1.3h-1.3zM397 317h1.3v1.3h-1.3zM416 317h1.3v1.3h-1.3zM418 317h1.3v1.3h-1.3zM419 317h1.3v1.3h-1.3zM420 317h1.3v1.3h-1.3zM397 318h1.3v1.3h-1.3zM398 318h1.3v1.3h-1.3zM396 319h1.3v1.3h-1.3zM418 319h1.3v1.3h-1.3zM420 319h1.3v1.3h-1.3zM421 319h1.3v1.3h-1.3zM395 320h1.3v1.3h-1.3zM398 320h1.3v1.3h-1.3zM392 321h1.3v1.3h-1.3zM395 321h1.3v1.3h-1.3zM419 321h1.3v1.3h-1.3zM395 322h1.3v1.3h-1.3zM396 322h1.3v1.3h-1.3zM419 322h1.3v1.3h-1.3zM420 322h1.3v1.3h-1.3zM422 322h1.3v1.3h-1.3zM395 323h1.3v1.3h-1.3zM419 323h1.3v1.3h-1.3zM422 323h1.3v1.3h-1.3zM396 324h1.3v1.3h-1.3zM393 325h1.3v1.3h-1.3zM425 325h1.3v1.3h-1.3zM394 326h1.3v1.3h-1.3zM395 327h1.3v1.3h-1.3zM423 327h1.3v1.3h-1.3zM424 327h1.3v1.3h-1.3zM421 328h1.3v1.3h-1.3zM423 328h1.3v1.3h-1.3zM423 329h1.3v1.3h-1.3zM393 330h1.3v1.3h-1.3zM422 330h1.3v1.3h-1.3zM428 330h1.3v1.3h-1.3zM392 331h1.3v1.3h-1.3zM422 331h1.3v1.3h-1.3zM423 331h1.3v1.3h-1.3zM391 332h1.3v1.3h-1.3zM392 332h1.3v1.3h-1.3zM393 332h1.3v1.3h-1.3zM394 332h1.3v1.3h-1.3zM422 332h1.3v1.3h-1.3zM423 332h1.3v1.3h-1.3zM425 333h1.3v1.3h-1.3zM429 333h1.3v1.3h-1.3zM435 333h1.3v1.3h-1.3zM393 334h1.3v1.3h-1.3zM424 334h1.3v1.3h-1.3zM425 334h1.3v1.3h-1.3zM393 335h1.3v1.3h-1.3zM426 335h1.3v1.3h-1.3zM424 336h1.3v1.3h-1.3zM427 336h1.3v1.3h-1.3zM425 337h1.3v1.3h-1.3zM393 338h1.3v1.3h-1.3zM423 338h1.3v1.3h-1.3zM425 338h1.3v1.3h-1.3zM435 338h1.3v1.3h-1.3zM423 339h1.3v1.3h-1.3zM424 340h1.3v1.3h-1.3zM397 341h1.3v1.3h-1.3zM422 341h1.3v1.3h-1.3zM427 341h1.3v1.3h-1.3zM395 342h1.3v1.3h-1.3zM419 342h1.3v1.3h-1.3zM420 342h1.3v1.3h-1.3zM424 342h1.3v1.3h-1.3zM428 342h1.3v1.3h-1.3zM396 343h1.3v1.3h-1.3zM419 343h1.3v1.3h-1.3zM422 343h1.3v1.3h-1.3zM424 343h1.3v1.3h-1.3zM397 344h1.3v1.3h-1.3zM418 344h1.3v1.3h-1.3zM396 345h1.3v1.3h-1.3zM397 346h1.3v1.3h-1.3zM398 346h1.3v1.3h-1.3zM401 347h1.3v1.3h-1.3zM402 347h1.3v1.3h-1.3zM407 347h1.3v1.3h-1.3zM415 347h1.3v1.3h-1.3zM416 347h1.3v1.3h-1.3zM400 348h1.3v1.3h-1.3zM404 348h1.3v1.3h-1.3zM408 348h1.3v1.3h-1.3zM409 348h1.3v1.3h-1.3zM413 348h1.3v1.3h-1.3zM414 348h1.3v1.3h-1.3zM415 348h1.3v1.3h-1.3zM416 348h1.3v1.3h-1.3zM401 349h1.3v1.3h-1.3zM405 349h1.3v1.3h-1.3zM407 349h1.3v1.3h-1.3zM411 349h1.3v1.3h-1.3zM404 350h1.3v1.3h-1.3zM405 350h1.3v1.3h-1.3zM407 350h1.3v1.3h-1.3zM404 351h1.3v1.3h-1.3z"/>
<path fill="#58c068" d="M405 300h1.3v1.3h-1.3zM406 301h1.3v1.3h-1.3zM409 301h1.3v1.3h-1.3zM413 301h1.3v1.3h-1.3zM404 302h1.3v1.3h-1.3zM408 302h1.3v1.3h-1.3zM411 302h1.3v1.3h-1.3zM415 302h1.3v1.3h-1.3zM402 303h1.3v1.3h-1.3zM405 303h1.3v1.3h-1.3zM406 303h1.3v1.3h-1.3zM409 303h1.3v1.3h-1.3zM410 303h1.3v1.3h-1.3zM411 303h1.3v1.3h-1.3zM401 304h1.3v1.3h-1.3zM402 304h1.3v1.3h-1.3zM403 304h1.3v1.3h-1.3zM404 304h1.3v1.3h-1.3zM409 304h1.3v1.3h-1.3zM411 304h1.3v1.3h-1.3zM413 304h1.3v1.3h-1.3zM415 304h1.3v1.3h-1.3zM416 304h1.3v1.3h-1.3zM399 305h1.3v1.3h-1.3zM400 305h1.3v1.3h-1.3zM406 305h1.3v1.3h-1.3zM407 305h1.3v1.3h-1.3zM409 305h1.3v1.3h-1.3zM410 305h1.3v1.3h-1.3zM412 305h1.3v1.3h-1.3zM415 305h1.3v1.3h-1.3zM416 305h1.3v1.3h-1.3zM399 306h1.3v1.3h-1.3zM400 306h1.3v1.3h-1.3zM401 306h1.3v1.3h-1.3zM404 306h1.3v1.3h-1.3zM405 306h1.3v1.3h-1.3zM406 306h1.3v1.3h-1.3zM408 306h1.3v1.3h-1.3zM409 306h1.3v1.3h-1.3zM410 306h1.3v1.3h-1.3zM411 306h1.3v1.3h-1.3zM412 306h1.3v1.3h-1.3zM414 306h1.3v1.3h-1.3zM415 306h1.3v1.3h-1.3zM416 306h1.3v1.3h-1.3zM418 306h1.3v1.3h-1.3zM399 307h1.3v1.3h-1.3zM402 307h1.3v1.3h-1.3zM403 307h1.3v1.3h-1.3zM405 307h1.3v1.3h-1.3zM406 307h1.3v1.3h-1.3zM407 307h1.3v1.3h-1.3zM408 307h1.3v1.3h-1.3zM409 307h1.3v1.3h-1.3zM410 307h1.3v1.3h-1.3zM411 307h1.3v1.3h-1.3zM412 307h1.3v1.3h-1.3zM414 307h1.3v1.3h-1.3zM415 307h1.3v1.3h-1.3zM401 308h1.3v1.3h-1.3zM402 308h1.3v1.3h-1.3zM403 308h1.3v1.3h-1.3zM405 308h1.3v1.3h-1.3zM406 308h1.3v1.3h-1.3zM407 308h1.3v1.3h-1.3zM408 308h1.3v1.3h-1.3zM409 308h1.3v1.3h-1.3zM410 308h1.3v1.3h-1.3zM411 308h1.3v1.3h-1.3zM412 308h1.3v1.3h-1.3zM415 308h1.3v1.3h-1.3zM416 308h1.3v1.3h-1.3zM400 309h1.3v1.3h-1.3zM401 309h1.3v1.3h-1.3zM402 309h1.3v1.3h-1.3zM403 309h1.3v1.3h-1.3zM404 309h1.3v1.3h-1.3zM405 309h1.3v1.3h-1.3zM406 309h1.3v1.3h-1.3zM408 309h1.3v1.3h-1.3zM409 309h1.3v1.3h-1.3zM410 309h1.3v1.3h-1.3zM411 309h1.3v1.3h-1.3zM412 309h1.3v1.3h-1.3zM413 309h1.3v1.3h-1.3zM414 309h1.3v1.3h-1.3zM417 309h1.3v1.3h-1.3zM400 310h1.3v1.3h-1.3zM401 310h1.3v1.3h-1.3zM402 310h1.3v1.3h-1.3zM403 310h1.3v1.3h-1.3zM404 310h1.3v1.3h-1.3zM405 310h1.3v1.3h-1.3zM406 310h1.3v1.3h-1.3zM407 310h1.3v1.3h-1.3zM408 310h1.3v1.3h-1.3zM409 310h1.3v1.3h-1.3zM410 310h1.3v1.3h-1.3zM411 310h1.3v1.3h-1.3zM412 310h1.3v1.3h-1.3zM413 310h1.3v1.3h-1.3zM414 310h1.3v1.3h-1.3zM415 310h1.3v1.3h-1.3zM416 310h1.3v1.3h-1.3zM417 310h1.3v1.3h-1.3zM397 311h1.3v1.3h-1.3zM400 311h1.3v1.3h-1.3zM402 311h1.3v1.3h-1.3zM403 311h1.3v1.3h-1.3zM405 311h1.3v1.3h-1.3zM406 311h1.3v1.3h-1.3zM407 311h1.3v1.3h-1.3zM408 311h1.3v1.3h-1.3zM409 311h1.3v1.3h-1.3zM410 311h1.3v1.3h-1.3zM411 311h1.3v1.3h-1.3zM412 311h1.3v1.3h-1.3zM413 311h1.3v1.3h-1.3zM414 311h1.3v1.3h-1.3zM415 311h1.3v1.3h-1.3zM398 312h1.3v1.3h-1.3zM399 312h1.3v1.3h-1.3zM401 312h1.3v1.3h-1.3zM402 312h1.3v1.3h-1.3zM403 312h1.3v1.3h-1.3zM405 312h1.3v1.3h-1.3zM407 312h1.3v1.3h-1.3zM410 312h1.3v1.3h-1.3zM411 312h1.3v1.3h-1.3zM412 312h1.3v1.3h-1.3zM413 312h1.3v1.3h-1.3zM415 312h1.3v1.3h-1.3zM416 312h1.3v1.3h-1.3zM399 313h1.3v1.3h-1.3zM400 313h1.3v1.3h-1.3zM401 313h1.3v1.3h-1.3zM402 313h1.3v1.3h-1.3zM403 313h1.3v1.3h-1.3zM404 313h1.3v1.3h-1.3zM405 313h1.3v1.3h-1.3zM407 313h1.3v1.3h-1.3zM409 313h1.3v1.3h-1.3zM410 313h1.3v1.3h-1.3zM411 313h1.3v1.3h-1.3zM412 313h1.3v1.3h-1.3zM413 313h1.3v1.3h-1.3zM414 313h1.3v1.3h-1.3zM417 313h1.3v1.3h-1.3zM418 313h1.3v1.3h-1.3zM398 314h1.3v1.3h-1.3zM399 314h1.3v1.3h-1.3zM401 314h1.3v1.3h-1.3zM402 314h1.3v1.3h-1.3zM403 314h1.3v1.3h-1.3zM404 314h1.3v1.3h-1.3zM406 314h1.3v1.3h-1.3zM407 314h1.3v1.3h-1.3zM408 314h1.3v1.3h-1.3zM409 314h1.3v1.3h-1.3zM411 314h1.3v1.3h-1.3zM412 314h1.3v1.3h-1.3zM413 314h1.3v1.3h-1.3zM414 314h1.3v1.3h-1.3zM415 314h1.3v1.3h-1.3zM416 314h1.3v1.3h-1.3zM395 315h1.3v1.3h-1.3zM397 315h1.3v1.3h-1.3zM399 315h1.3v1.3h-1.3zM400 315h1.3v1.3h-1.3zM401 315h1.3v1.3h-1.3zM402 315h1.3v1.3h-1.3zM403 315h1.3v1.3h-1.3zM404 315h1.3v1.3h-1.3zM405 315h1.3v1.3h-1.3zM406 315h1.3v1.3h-1.3zM408 315h1.3v1.3h-1.3zM411 315h1.3v1.3h-1.3zM412 315h1.3v1.3h-1.3zM413 315h1.3v1.3h-1.3zM414 315h1.3v1.3h-1.3zM415 315h1.3v1.3h-1.3zM416 315h1.3v1.3h-1.3zM419 315h1.3v1.3h-1.3zM398 316h1.3v1.3h-1.3zM400 316h1.3v1.3h-1.3zM401 316h1.3v1.3h-1.3zM402 316h1.3v1.3h-1.3zM403 316h1.3v1.3h-1.3zM404 316h1.3v1.3h-1.3zM411 316h1.3v1.3h-1.3zM412 316h1.3v1.3h-1.3zM413 316h1.3v1.3h-1.3zM414 316h1.3v1.3h-1.3zM415 316h1.3v1.3h-1.3zM417 316h1.3v1.3h-1.3zM418 316h1.3v1.3h-1.3zM398 317h1.3v1.3h-1.3zM399 317h1.3v1.3h-1.3zM400 317h1.3v1.3h-1.3zM401 317h1.3v1.3h-1.3zM402 317h1.3v1.3h-1.3zM403 317h1.3v1.3h-1.3zM406 317h1.3v1.3h-1.3zM413 317h1.3v1.3h-1.3zM414 317h1.3v1.3h-1.3zM415 317h1.3v1.3h-1.3zM396 318h1.3v1.3h-1.3zM399 318h1.3v1.3h-1.3zM400 318h1.3v1.3h-1.3zM401 318h1.3v1.3h-1.3zM403 318h1.3v1.3h-1.3zM410 318h1.3v1.3h-1.3zM413 318h1.3v1.3h-1.3zM415 318h1.3v1.3h-1.3zM416 318h1.3v1.3h-1.3zM417 318h1.3v1.3h-1.3zM418 318h1.3v1.3h-1.3zM419 318h1.3v1.3h-1.3zM398 319h1.3v1.3h-1.3zM399 319h1.3v1.3h-1.3zM400 319h1.3v1.3h-1.3zM401 319h1.3v1.3h-1.3zM402 319h1.3v1.3h-1.3zM403 319h1.3v1.3h-1.3zM413 319h1.3v1.3h-1.3zM414 319h1.3v1.3h-1.3zM416 319h1.3v1.3h-1.3zM417 319h1.3v1.3h-1.3zM419 319h1.3v1.3h-1.3zM396 320h1.3v1.3h-1.3zM397 320h1.3v1.3h-1.3zM399 320h1.3v1.3h-1.3zM401 320h1.3v1.3h-1.3zM415 320h1.3v1.3h-1.3zM416 320h1.3v1.3h-1.3zM417 320h1.3v1.3h-1.3zM418 320h1.3v1.3h-1.3zM419 320h1.3v1.3h-1.3zM420 320h1.3v1.3h-1.3zM396 321h1.3v1.3h-1.3zM397 321h1.3v1.3h-1.3zM398 321h1.3v1.3h-1.3zM400 321h1.3v1.3h-1.3zM414 321h1.3v1.3h-1.3zM415 321h1.3v1.3h-1.3zM416 321h1.3v1.3h-1.3zM417 321h1.3v1.3h-1.3zM418 321h1.3v1.3h-1.3zM420 321h1.3v1.3h-1.3zM421 321h1.3v1.3h-1.3zM397 322h1.3v1.3h-1.3zM398 322h1.3v1.3h-1.3zM399 322h1.3v1.3h-1.3zM400 322h1.3v1.3h-1.3zM415 322h1.3v1.3h-1.3zM416 322h1.3v1.3h-1.3zM417 322h1.3v1.3h-1.3zM418 322h1.3v1.3h-1.3zM396 323h1.3v1.3h-1.3zM397 323h1.3v1.3h-1.3zM398 323h1.3v1.3h-1.3zM399 323h1.3v1.3h-1.3zM416 323h1.3v1.3h-1.3zM417 323h1.3v1.3h-1.3zM418 323h1.3v1.3h-1.3zM420 323h1.3v1.3h-1.3zM421 323h1.3v1.3h-1.3zM397 324h1.3v1.3h-1.3zM398 324h1.3v1.3h-1.3zM416 324h1.3v1.3h-1.3zM418 324h1.3v1.3h-1.3zM419 324h1.3v1.3h-1.3zM420 324h1.3v1.3h-1.3zM421 324h1.3v1.3h-1.3zM395 325h1.3v1.3h-1.3zM396 325h1.3v1.3h-1.3zM397 325h1.3v1.3h-1.3zM417 325h1.3v1.3h-1.3zM418 325h1.3v1.3h-1.3zM419 325h1.3v1.3h-1.3zM420 325h1.3v1.3h-1.3zM421 325h1.3v1.3h-1.3zM395 326h1.3v1.3h-1.3zM396 326h1.3v1.3h-1.3zM397 326h1.3v1.3h-1.3zM418 326h1.3v1.3h-1.3zM419 326h1.3v1.3h-1.3zM420 326h1.3v1.3h-1.3zM421 326h1.3v1.3h-1.3zM422 326h1.3v1.3h-1.3zM393 327h1.3v1.3h-1.3zM394 327h1.3v1.3h-1.3zM396 327h1.3v1.3h-1.3zM419 327h1.3v1.3h-1.3zM420 327h1.3v1.3h-1.3zM394 328h1.3v1.3h-1.3zM395 328h1.3v1.3h-1.3zM396 328h1.3v1.3h-1.3zM397 328h1.3v1.3h-1.3zM419 328h1.3v1.3h-1.3zM420 328h1.3v1.3h-1.3zM424 328h1.3v1.3h-1.3zM394 329h1.3v1.3h-1.3zM395 329h1.3v1.3h-1.3zM396 329h1.3v1.3h-1.3zM398 329h1.3v1.3h-1.3zM418 329h1.3v1.3h-1.3zM420 329h1.3v1.3h-1.3zM421 329h1.3v1.3h-1.3zM394 330h1.3v1.3h-1.3zM395 330h1.3v1.3h-1.3zM396 330h1.3v1.3h-1.3zM398 330h1.3v1.3h-1.3zM420 330h1.3v1.3h-1.3zM421 330h1.3v1.3h-1.3zM423 330h1.3v1.3h-1.3zM425 330h1.3v1.3h-1.3zM393 331h1.3v1.3h-1.3zM394 331h1.3v1.3h-1.3zM396 331h1.3v1.3h-1.3zM420 331h1.3v1.3h-1.3zM421 331h1.3v1.3h-1.3zM395 332h1.3v1.3h-1.3zM418 332h1.3v1.3h-1.3zM419 332h1.3v1.3h-1.3zM420 332h1.3v1.3h-1.3zM421 332h1.3v1.3h-1.3zM393 333h1.3v1.3h-1.3zM394 333h1.3v1.3h-1.3zM395 333h1.3v1.3h-1.3zM396 333h1.3v1.3h-1.3zM417 333h1.3v1.3h-1.3zM420 333h1.3v1.3h-1.3zM421 333h1.3v1.3h-1.3zM422 333h1.3v1.3h-1.3zM423 333h1.3v1.3h-1.3zM394 334h1.3v1.3h-1.3zM395 334h1.3v1.3h-1.3zM420 334h1.3v1.3h-1.3zM421 334h1.3v1.3h-1.3zM422 334h1.3v1.3h-1.3zM423 334h1.3v1.3h-1.3zM394 335h1.3v1.3h-1.3zM395 335h1.3v1.3h-1.3zM396 335h1.3v1.3h-1.3zM420 335h1.3v1.3h-1.3zM421 335h1.3v1.3h-1.3zM422 335h1.3v1.3h-1.3zM423 335h1.3v1.3h-1.3zM393 336h1.3v1.3h-1.3zM394 336h1.3v1.3h-1.3zM395 336h1.3v1.3h-1.3zM397 336h1.3v1.3h-1.3zM418 336h1.3v1.3h-1.3zM419 336h1.3v1.3h-1.3zM420 336h1.3v1.3h-1.3zM421 336h1.3v1.3h-1.3zM422 336h1.3v1.3h-1.3zM423 336h1.3v1.3h-1.3zM394 337h1.3v1.3h-1.3zM395 337h1.3v1.3h-1.3zM396 337h1.3v1.3h-1.3zM397 337h1.3v1.3h-1.3zM419 337h1.3v1.3h-1.3zM420 337h1.3v1.3h-1.3zM421 337h1.3v1.3h-1.3zM422 337h1.3v1.3h-1.3zM423 337h1.3v1.3h-1.3zM396 338h1.3v1.3h-1.3zM397 338h1.3v1.3h-1.3zM418 338h1.3v1.3h-1.3zM420 338h1.3v1.3h-1.3zM421 338h1.3v1.3h-1.3zM422 338h1.3v1.3h-1.3zM424 338h1.3v1.3h-1.3zM396 339h1.3v1.3h-1.3zM397 339h1.3v1.3h-1.3zM398 339h1.3v1.3h-1.3zM420 339h1.3v1.3h-1.3zM421 339h1.3v1.3h-1.3zM422 339h1.3v1.3h-1.3zM394 340h1.3v1.3h-1.3zM395 340h1.3v1.3h-1.3zM396 340h1.3v1.3h-1.3zM397 340h1.3v1.3h-1.3zM417 340h1.3v1.3h-1.3zM418 340h1.3v1.3h-1.3zM419 340h1.3v1.3h-1.3zM420 340h1.3v1.3h-1.3zM395 341h1.3v1.3h-1.3zM396 341h1.3v1.3h-1.3zM415 341h1.3v1.3h-1.3zM416 341h1.3v1.3h-1.3zM417 341h1.3v1.3h-1.3zM418 341h1.3v1.3h-1.3zM419 341h1.3v1.3h-1.3zM420 341h1.3v1.3h-1.3zM421 341h1.3v1.3h-1.3zM396 342h1.3v1.3h-1.3zM397 342h1.3v1.3h-1.3zM398 342h1.3v1.3h-1.3zM399 342h1.3v1.3h-1.3zM401 342h1.3v1.3h-1.3zM416 342h1.3v1.3h-1.3zM417 342h1.3v1.3h-1.3zM418 342h1.3v1.3h-1.3zM397 343h1.3v1.3h-1.3zM398 343h1.3v1.3h-1.3zM399 343h1.3v1.3h-1.3zM400 343h1.3v1.3h-1.3zM415 343h1.3v1.3h-1.3zM416 343h1.3v1.3h-1.3zM417 343h1.3v1.3h-1.3zM418 343h1.3v1.3h-1.3zM399 344h1.3v1.3h-1.3zM400 344h1.3v1.3h-1.3zM401 344h1.3v1.3h-1.3zM402 344h1.3v1.3h-1.3zM403 344h1.3v1.3h-1.3zM414 344h1.3v1.3h-1.3zM415 344h1.3v1.3h-1.3zM416 344h1.3v1.3h-1.3zM417 344h1.3v1.3h-1.3zM419 344h1.3v1.3h-1.3zM398 345h1.3v1.3h-1.3zM399 345h1.3v1.3h-1.3zM400 345h1.3v1.3h-1.3zM401 345h1.3v1.3h-1.3zM402 345h1.3v1.3h-1.3zM403 345h1.3v1.3h-1.3zM404 345h1.3v1.3h-1.3zM406 345h1.3v1.3h-1.3zM410 345h1.3v1.3h-1.3zM411 345h1.3v1.3h-1.3zM413 345h1.3v1.3h-1.3zM414 345h1.3v1.3h-1.3zM415 345h1.3v1.3h-1.3zM416 345h1.3v1.3h-1.3zM417 345h1.3v1.3h-1.3zM418 345h1.3v1.3h-1.3zM419 345h1.3v1.3h-1.3zM399 346h1.3v1.3h-1.3zM400 346h1.3v1.3h-1.3zM401 346h1.3v1.3h-1.3zM402 346h1.3v1.3h-1.3zM403 346h1.3v1.3h-1.3zM404 346h1.3v1.3h-1.3zM405 346h1.3v1.3h-1.3zM406 346h1.3v1.3h-1.3zM407 346h1.3v1.3h-1.3zM411 346h1.3v1.3h-1.3zM412 346h1.3v1.3h-1.3zM413 346h1.3v1.3h-1.3zM414 346h1.3v1.3h-1.3zM415 346h1.3v1.3h-1.3zM416 346h1.3v1.3h-1.3zM417 346h1.3v1.3h-1.3zM399 347h1.3v1.3h-1.3zM403 347h1.3v1.3h-1.3zM405 347h1.3v1.3h-1.3zM406 347h1.3v1.3h-1.3zM408 347h1.3v1.3h-1.3zM409 347h1.3v1.3h-1.3zM410 347h1.3v1.3h-1.3zM411 347h1.3v1.3h-1.3zM412 347h1.3v1.3h-1.3zM413 347h1.3v1.3h-1.3zM403 348h1.3v1.3h-1.3zM405 348h1.3v1.3h-1.3zM406 348h1.3v1.3h-1.3zM407 348h1.3v1.3h-1.3zM410 348h1.3v1.3h-1.3zM411 348h1.3v1.3h-1.3zM412 348h1.3v1.3h-1.3zM403 349h1.3v1.3h-1.3zM406 349h1.3v1.3h-1.3zM408 349h1.3v1.3h-1.3zM409 349h1.3v1.3h-1.3zM410 349h1.3v1.3h-1.3zM414 349h1.3v1.3h-1.3zM408 350h1.3v1.3h-1.3z"/>
<path fill="#a8d840" d="M407 306h1.3v1.3h-1.3zM404 311h1.3v1.3h-1.3zM404 312h1.3v1.3h-1.3zM406 312h1.3v1.3h-1.3zM408 312h1.3v1.3h-1.3zM409 312h1.3v1.3h-1.3zM406 313h1.3v1.3h-1.3zM408 313h1.3v1.3h-1.3zM400 314h1.3v1.3h-1.3zM405 314h1.3v1.3h-1.3zM410 314h1.3v1.3h-1.3zM407 315h1.3v1.3h-1.3zM409 315h1.3v1.3h-1.3zM410 315h1.3v1.3h-1.3zM405 316h1.3v1.3h-1.3zM406 316h1.3v1.3h-1.3zM407 316h1.3v1.3h-1.3zM410 316h1.3v1.3h-1.3zM404 317h1.3v1.3h-1.3zM405 317h1.3v1.3h-1.3zM407 317h1.3v1.3h-1.3zM410 317h1.3v1.3h-1.3zM411 317h1.3v1.3h-1.3zM412 317h1.3v1.3h-1.3zM402 318h1.3v1.3h-1.3zM404 318h1.3v1.3h-1.3zM406 318h1.3v1.3h-1.3zM407 318h1.3v1.3h-1.3zM408 318h1.3v1.3h-1.3zM409 318h1.3v1.3h-1.3zM412 318h1.3v1.3h-1.3zM414 318h1.3v1.3h-1.3zM404 319h1.3v1.3h-1.3zM406 319h1.3v1.3h-1.3zM407 319h1.3v1.3h-1.3zM411 319h1.3v1.3h-1.3zM412 319h1.3v1.3h-1.3zM415 319h1.3v1.3h-1.3zM400 320h1.3v1.3h-1.3zM402 320h1.3v1.3h-1.3zM403 320h1.3v1.3h-1.3zM405 320h1.3v1.3h-1.3zM406 320h1.3v1.3h-1.3zM407 320h1.3v1.3h-1.3zM408 320h1.3v1.3h-1.3zM409 320h1.3v1.3h-1.3zM410 320h1.3v1.3h-1.3zM411 320h1.3v1.3h-1.3zM412 320h1.3v1.3h-1.3zM413 320h1.3v1.3h-1.3zM414 320h1.3v1.3h-1.3zM399 321h1.3v1.3h-1.3zM401 321h1.3v1.3h-1.3zM402 321h1.3v1.3h-1.3zM411 321h1.3v1.3h-1.3zM413 321h1.3v1.3h-1.3zM402 322h1.3v1.3h-1.3zM410 322h1.3v1.3h-1.3zM413 322h1.3v1.3h-1.3zM414 322h1.3v1.3h-1.3zM400 323h1.3v1.3h-1.3zM401 323h1.3v1.3h-1.3zM402 323h1.3v1.3h-1.3zM415 323h1.3v1.3h-1.3zM399 324h1.3v1.3h-1.3zM400 324h1.3v1.3h-1.3zM403 324h1.3v1.3h-1.3zM415 324h1.3v1.3h-1.3zM417 324h1.3v1.3h-1.3zM398 325h1.3v1.3h-1.3zM416 325h1.3v1.3h-1.3zM398 326h1.3v1.3h-1.3zM399 326h1.3v1.3h-1.3zM400 326h1.3v1.3h-1.3zM416 326h1.3v1.3h-1.3zM417 326h1.3v1.3h-1.3zM397 327h1.3v1.3h-1.3zM398 327h1.3v1.3h-1.3zM400 327h1.3v1.3h-1.3zM416 327h1.3v1.3h-1.3zM417 327h1.3v1.3h-1.3zM418 327h1.3v1.3h-1.3zM398 328h1.3v1.3h-1.3zM399 328h1.3v1.3h-1.3zM417 328h1.3v1.3h-1.3zM418 328h1.3v1.3h-1.3zM397 329h1.3v1.3h-1.3zM416 329h1.3v1.3h-1.3zM417 329h1.3v1.3h-1.3zM419 329h1.3v1.3h-1.3zM397 330h1.3v1.3h-1.3zM399 330h1.3v1.3h-1.3zM417 330h1.3v1.3h-1.3zM419 330h1.3v1.3h-1.3zM395 331h1.3v1.3h-1.3zM397 331h1.3v1.3h-1.3zM398 331h1.3v1.3h-1.3zM417 331h1.3v1.3h-1.3zM419 331h1.3v1.3h-1.3zM396 332h1.3v1.3h-1.3zM397 332h1.3v1.3h-1.3zM398 332h1.3v1.3h-1.3zM397 333h1.3v1.3h-1.3zM418 333h1.3v1.3h-1.3zM396 334h1.3v1.3h-1.3zM397 334h1.3v1.3h-1.3zM398 334h1.3v1.3h-1.3zM418 334h1.3v1.3h-1.3zM419 334h1.3v1.3h-1.3zM398 335h1.3v1.3h-1.3zM418 335h1.3v1.3h-1.3zM419 335h1.3v1.3h-1.3zM396 336h1.3v1.3h-1.3zM398 337h1.3v1.3h-1.3zM399 337h1.3v1.3h-1.3zM417 337h1.3v1.3h-1.3zM418 337h1.3v1.3h-1.3zM398 338h1.3v1.3h-1.3zM419 338h1.3v1.3h-1.3zM400 339h1.3v1.3h-1.3zM418 339h1.3v1.3h-1.3zM419 339h1.3v1.3h-1.3zM398 340h1.3v1.3h-1.3zM399 340h1.3v1.3h-1.3zM400 340h1.3v1.3h-1.3zM401 340h1.3v1.3h-1.3zM415 340h1.3v1.3h-1.3zM416 340h1.3v1.3h-1.3zM398 341h1.3v1.3h-1.3zM399 341h1.3v1.3h-1.3zM400 341h1.3v1.3h-1.3zM400 342h1.3v1.3h-1.3zM411 342h1.3v1.3h-1.3zM414 342h1.3v1.3h-1.3zM401 343h1.3v1.3h-1.3zM402 343h1.3v1.3h-1.3zM407 343h1.3v1.3h-1.3zM410 343h1.3v1.3h-1.3zM411 343h1.3v1.3h-1.3zM413 343h1.3v1.3h-1.3zM414 343h1.3v1.3h-1.3zM404 344h1.3v1.3h-1.3zM410 344h1.3v1.3h-1.3zM411 344h1.3v1.3h-1.3zM412 344h1.3v1.3h-1.3zM413 344h1.3v1.3h-1.3zM405 345h1.3v1.3h-1.3zM407 345h1.3v1.3h-1.3zM408 345h1.3v1.3h-1.3zM409 345h1.3v1.3h-1.3zM412 345h1.3v1.3h-1.3zM408 346h1.3v1.3h-1.3zM409 346h1.3v1.3h-1.3zM410 346h1.3v1.3h-1.3zM404 347h1.3v1.3h-1.3z"/>
<path fill="#f0e030" d="M408 316h1.3v1.3h-1.3zM409 316h1.3v1.3h-1.3zM408 317h1.3v1.3h-1.3zM409 317h1.3v1.3h-1.3zM405 318h1.3v1.3h-1.3zM411 318h1.3v1.3h-1.3zM405 319h1.3v1.3h-1.3zM408 319h1.3v1.3h-1.3zM409 319h1.3v1.3h-1.3zM410 319h1.3v1.3h-1.3zM404 320h1.3v1.3h-1.3zM403 321h1.3v1.3h-1.3zM404 321h1.3v1.3h-1.3zM405 321h1.3v1.3h-1.3zM406 321h1.3v1.3h-1.3zM407 321h1.3v1.3h-1.3zM410 321h1.3v1.3h-1.3zM412 321h1.3v1.3h-1.3zM401 322h1.3v1.3h-1.3zM403 322h1.3v1.3h-1.3zM404 322h1.3v1.3h-1.3zM405 322h1.3v1.3h-1.3zM406 322h1.3v1.3h-1.3zM408 322h1.3v1.3h-1.3zM409 322h1.3v1.3h-1.3zM411 322h1.3v1.3h-1.3zM412 322h1.3v1.3h-1.3zM403 323h1.3v1.3h-1.3zM404 323h1.3v1.3h-1.3zM405 323h1.3v1.3h-1.3zM407 323h1.3v1.3h-1.3zM410 323h1.3v1.3h-1.3zM411 323h1.3v1.3h-1.3zM412 323h1.3v1.3h-1.3zM413 323h1.3v1.3h-1.3zM414 323h1.3v1.3h-1.3zM401 324h1.3v1.3h-1.3zM402 324h1.3v1.3h-1.3zM404 324h1.3v1.3h-1.3zM406 324h1.3v1.3h-1.3zM411 324h1.3v1.3h-1.3zM412 324h1.3v1.3h-1.3zM414 324h1.3v1.3h-1.3zM399 325h1.3v1.3h-1.3zM400 325h1.3v1.3h-1.3zM401 325h1.3v1.3h-1.3zM402 325h1.3v1.3h-1.3zM403 325h1.3v1.3h-1.3zM408 325h1.3v1.3h-1.3zM411 325h1.3v1.3h-1.3zM412 325h1.3v1.3h-1.3zM413 325h1.3v1.3h-1.3zM414 325h1.3v1.3h-1.3zM415 325h1.3v1.3h-1.3zM401 326h1.3v1.3h-1.3zM402 326h1.3v1.3h-1.3zM414 326h1.3v1.3h-1.3zM415 326h1.3v1.3h-1.3zM399 327h1.3v1.3h-1.3zM413 327h1.3v1.3h-1.3zM414 327h1.3v1.3h-1.3zM415 327h1.3v1.3h-1.3zM400 328h1.3v1.3h-1.3zM414 328h1.3v1.3h-1.3zM415 328h1.3v1.3h-1.3zM416 328h1.3v1.3h-1.3zM399 329h1.3v1.3h-1.3zM401 329h1.3v1.3h-1.3zM414 329h1.3v1.3h-1.3zM415 329h1.3v1.3h-1.3zM400 330h1.3v1.3h-1.3zM415 330h1.3v1.3h-1.3zM416 330h1.3v1.3h-1.3zM418 330h1.3v1.3h-1.3zM399 331h1.3v1.3h-1.3zM416 331h1.3v1.3h-1.3zM418 331h1.3v1.3h-1.3zM399 332h1.3v1.3h-1.3zM400 332h1.3v1.3h-1.3zM415 332h1.3v1.3h-1.3zM417 332h1.3v1.3h-1.3zM398 333h1.3v1.3h-1.3zM399 333h1.3v1.3h-1.3zM414 333h1.3v1.3h-1.3zM416 333h1.3v1.3h-1.3zM419 333h1.3v1.3h-1.3zM399 334h1.3v1.3h-1.3zM397 335h1.3v1.3h-1.3zM399 335h1.3v1.3h-1.3zM415 335h1.3v1.3h-1.3zM417 335h1.3v1.3h-1.3zM398 336h1.3v1.3h-1.3zM399 336h1.3v1.3h-1.3zM414 336h1.3v1.3h-1.3zM415 336h1.3v1.3h-1.3zM416 336h1.3v1.3h-1.3zM417 336h1.3v1.3h-1.3zM400 337h1.3v1.3h-1.3zM414 337h1.3v1.3h-1.3zM416 337h1.3v1.3h-1.3zM399 338h1.3v1.3h-1.3zM400 338h1.3v1.3h-1.3zM414 338h1.3v1.3h-1.3zM417 338h1.3v1.3h-1.3zM399 339h1.3v1.3h-1.3zM401 339h1.3v1.3h-1.3zM414 339h1.3v1.3h-1.3zM416 339h1.3v1.3h-1.3zM417 339h1.3v1.3h-1.3zM402 340h1.3v1.3h-1.3zM404 340h1.3v1.3h-1.3zM412 340h1.3v1.3h-1.3zM413 340h1.3v1.3h-1.3zM402 341h1.3v1.3h-1.3zM403 341h1.3v1.3h-1.3zM406 341h1.3v1.3h-1.3zM412 341h1.3v1.3h-1.3zM413 341h1.3v1.3h-1.3zM414 341h1.3v1.3h-1.3zM402 342h1.3v1.3h-1.3zM403 342h1.3v1.3h-1.3zM404 342h1.3v1.3h-1.3zM405 342h1.3v1.3h-1.3zM412 342h1.3v1.3h-1.3zM413 342h1.3v1.3h-1.3zM415 342h1.3v1.3h-1.3zM403 343h1.3v1.3h-1.3zM404 343h1.3v1.3h-1.3zM405 343h1.3v1.3h-1.3zM406 343h1.3v1.3h-1.3zM408 343h1.3v1.3h-1.3zM409 343h1.3v1.3h-1.3zM412 343h1.3v1.3h-1.3zM405 344h1.3v1.3h-1.3zM406 344h1.3v1.3h-1.3zM407 344h1.3v1.3h-1.3zM408 344h1.3v1.3h-1.3zM409 344h1.3v1.3h-1.3z"/>
<path fill="#f8a020" d="M408 321h1.3v1.3h-1.3zM409 321h1.3v1.3h-1.3zM407 322h1.3v1.3h-1.3zM406 323h1.3v1.3h-1.3zM408 323h1.3v1.3h-1.3zM405 324h1.3v1.3h-1.3zM407 324h1.3v1.3h-1.3zM408 324h1.3v1.3h-1.3zM410 324h1.3v1.3h-1.3zM413 324h1.3v1.3h-1.3zM404 325h1.3v1.3h-1.3zM406 325h1.3v1.3h-1.3zM409 325h1.3v1.3h-1.3zM410 325h1.3v1.3h-1.3zM403 326h1.3v1.3h-1.3zM405 326h1.3v1.3h-1.3zM411 326h1.3v1.3h-1.3zM412 326h1.3v1.3h-1.3zM413 326h1.3v1.3h-1.3zM401 327h1.3v1.3h-1.3zM402 327h1.3v1.3h-1.3zM403 327h1.3v1.3h-1.3zM411 327h1.3v1.3h-1.3zM413 328h1.3v1.3h-1.3zM400 329h1.3v1.3h-1.3zM404 329h1.3v1.3h-1.3zM413 329h1.3v1.3h-1.3zM401 330h1.3v1.3h-1.3zM402 330h1.3v1.3h-1.3zM414 330h1.3v1.3h-1.3zM400 331h1.3v1.3h-1.3zM401 331h1.3v1.3h-1.3zM414 331h1.3v1.3h-1.3zM415 331h1.3v1.3h-1.3zM401 332h1.3v1.3h-1.3zM413 332h1.3v1.3h-1.3zM416 332h1.3v1.3h-1.3zM401 333h1.3v1.3h-1.3zM415 333h1.3v1.3h-1.3zM400 334h1.3v1.3h-1.3zM401 334h1.3v1.3h-1.3zM414 334h1.3v1.3h-1.3zM415 334h1.3v1.3h-1.3zM416 334h1.3v1.3h-1.3zM417 334h1.3v1.3h-1.3zM400 335h1.3v1.3h-1.3zM402 335h1.3v1.3h-1.3zM403 335h1.3v1.3h-1.3zM416 335h1.3v1.3h-1.3zM400 336h1.3v1.3h-1.3zM401 336h1.3v1.3h-1.3zM401 337h1.3v1.3h-1.3zM403 337h1.3v1.3h-1.3zM408 337h1.3v1.3h-1.3zM415 337h1.3v1.3h-1.3zM401 338h1.3v1.3h-1.3zM403 338h1.3v1.3h-1.3zM404 338h1.3v1.3h-1.3zM413 338h1.3v1.3h-1.3zM415 338h1.3v1.3h-1.3zM416 338h1.3v1.3h-1.3zM402 339h1.3v1.3h-1.3zM403 339h1.3v1.3h-1.3zM404 339h1.3v1.3h-1.3zM415 339h1.3v1.3h-1.3zM403 340h1.3v1.3h-1.3zM406 340h1.3v1.3h-1.3zM407 340h1.3v1.3h-1.3zM411 340h1.3v1.3h-1.3zM414 340h1.3v1.3h-1.3zM401 341h1.3v1.3h-1.3zM404 341h1.3v1.3h-1.3zM405 341h1.3v1.3h-1.3zM408 341h1.3v1.3h-1.3zM409 341h1.3v1.3h-1.3zM410 341h1.3v1.3h-1.3zM411 341h1.3v1.3h-1.3zM406 342h1.3v1.3h-1.3zM407 342h1.3v1.3h-1.3zM408 342h1.3v1.3h-1.3zM410 342h1.3v1.3h-1.3z"/>
<path fill="#f05818" d="M409 323h1.3v1.3h-1.3zM409 324h1.3v1.3h-1.3zM405 325h1.3v1.3h-1.3zM404 326h1.3v1.3h-1.3zM406 326h1.3v1.3h-1.3zM407 326h1.3v1.3h-1.3zM408 326h1.3v1.3h-1.3zM409 326h1.3v1.3h-1.3zM410 326h1.3v1.3h-1.3zM404 327h1.3v1.3h-1.3zM405 327h1.3v1.3h-1.3zM407 327h1.3v1.3h-1.3zM408 327h1.3v1.3h-1.3zM409 327h1.3v1.3h-1.3zM412 327h1.3v1.3h-1.3zM401 328h1.3v1.3h-1.3zM402 328h1.3v1.3h-1.3zM403 328h1.3v1.3h-1.3zM406 328h1.3v1.3h-1.3zM410 328h1.3v1.3h-1.3zM412 328h1.3v1.3h-1.3zM402 329h1.3v1.3h-1.3zM403 329h1.3v1.3h-1.3zM412 329h1.3v1.3h-1.3zM403 330h1.3v1.3h-1.3zM404 330h1.3v1.3h-1.3zM413 330h1.3v1.3h-1.3zM403 331h1.3v1.3h-1.3zM406 331h1.3v1.3h-1.3zM412 331h1.3v1.3h-1.3zM413 331h1.3v1.3h-1.3zM402 332h1.3v1.3h-1.3zM414 332h1.3v1.3h-1.3zM400 333h1.3v1.3h-1.3zM402 333h1.3v1.3h-1.3zM412 333h1.3v1.3h-1.3zM403 334h1.3v1.3h-1.3zM413 334h1.3v1.3h-1.3zM401 335h1.3v1.3h-1.3zM412 335h1.3v1.3h-1.3zM413 335h1.3v1.3h-1.3zM414 335h1.3v1.3h-1.3zM402 336h1.3v1.3h-1.3zM404 336h1.3v1.3h-1.3zM402 337h1.3v1.3h-1.3zM409 337h1.3v1.3h-1.3zM411 337h1.3v1.3h-1.3zM412 337h1.3v1.3h-1.3zM402 338h1.3v1.3h-1.3zM411 338h1.3v1.3h-1.3zM412 338h1.3v1.3h-1.3zM406 339h1.3v1.3h-1.3zM407 339h1.3v1.3h-1.3zM410 339h1.3v1.3h-1.3zM411 339h1.3v1.3h-1.3zM412 339h1.3v1.3h-1.3zM413 339h1.3v1.3h-1.3zM405 340h1.3v1.3h-1.3zM408 340h1.3v1.3h-1.3zM410 340h1.3v1.3h-1.3zM407 341h1.3v1.3h-1.3zM409 342h1.3v1.3h-1.3z"/>
<path fill="#e82010" d="M407 325h1.3v1.3h-1.3zM406 327h1.3v1.3h-1.3zM410 327h1.3v1.3h-1.3zM404 328h1.3v1.3h-1.3zM405 328h1.3v1.3h-1.3zM407 328h1.3v1.3h-1.3zM408 328h1.3v1.3h-1.3zM409 328h1.3v1.3h-1.3zM411 328h1.3v1.3h-1.3zM405 329h1.3v1.3h-1.3zM406 329h1.3v1.3h-1.3zM407 329h1.3v1.3h-1.3zM408 329h1.3v1.3h-1.3zM409 329h1.3v1.3h-1.3zM410 329h1.3v1.3h-1.3zM411 329h1.3v1.3h-1.3zM405 330h1.3v1.3h-1.3zM406 330h1.3v1.3h-1.3zM407 330h1.3v1.3h-1.3zM408 330h1.3v1.3h-1.3zM409 330h1.3v1.3h-1.3zM410 330h1.3v1.3h-1.3zM411 330h1.3v1.3h-1.3zM412 330h1.3v1.3h-1.3zM402 331h1.3v1.3h-1.3zM404 331h1.3v1.3h-1.3zM405 331h1.3v1.3h-1.3zM407 331h1.3v1.3h-1.3zM408 331h1.3v1.3h-1.3zM409 331h1.3v1.3h-1.3zM410 331h1.3v1.3h-1.3zM411 331h1.3v1.3h-1.3zM403 332h1.3v1.3h-1.3zM404 332h1.3v1.3h-1.3zM405 332h1.3v1.3h-1.3zM406 332h1.3v1.3h-1.3zM407 332h1.3v1.3h-1.3zM408 332h1.3v1.3h-1.3zM409 332h1.3v1.3h-1.3zM410 332h1.3v1.3h-1.3zM411 332h1.3v1.3h-1.3zM412 332h1.3v1.3h-1.3zM403 333h1.3v1.3h-1.3zM404 333h1.3v1.3h-1.3zM405 333h1.3v1.3h-1.3zM406 333h1.3v1.3h-1.3zM407 333h1.3v1.3h-1.3zM408 333h1.3v1.3h-1.3zM409 333h1.3v1.3h-1.3zM410 333h1.3v1.3h-1.3zM411 333h1.3v1.3h-1.3zM413 333h1.3v1.3h-1.3zM402 334h1.3v1.3h-1.3zM404 334h1.3v1.3h-1.3zM405 334h1.3v1.3h-1.3zM406 334h1.3v1.3h-1.3zM407 334h1.3v1.3h-1.3zM408 334h1.3v1.3h-1.3zM409 334h1.3v1.3h-1.3zM410 334h1.3v1.3h-1.3zM411 334h1.3v1.3h-1.3zM412 334h1.3v1.3h-1.3zM404 335h1.3v1.3h-1.3zM405 335h1.3v1.3h-1.3zM406 335h1.3v1.3h-1.3zM407 335h1.3v1.3h-1.3zM408 335h1.3v1.3h-1.3zM409 335h1.3v1.3h-1.3zM410 335h1.3v1.3h-1.3zM411 335h1.3v1.3h-1.3zM403 336h1.3v1.3h-1.3zM405 336h1.3v1.3h-1.3zM406 336h1.3v1.3h-1.3zM407 336h1.3v1.3h-1.3zM408 336h1.3v1.3h-1.3zM409 336h1.3v1.3h-1.3zM410 336h1.3v1.3h-1.3zM411 336h1.3v1.3h-1.3zM412 336h1.3v1.3h-1.3zM413 336h1.3v1.3h-1.3zM404 337h1.3v1.3h-1.3zM405 337h1.3v1.3h-1.3zM406 337h1.3v1.3h-1.3zM407 337h1.3v1.3h-1.3zM410 337h1.3v1.3h-1.3zM413 337h1.3v1.3h-1.3zM405 338h1.3v1.3h-1.3zM406 338h1.3v1.3h-1.3zM407 338h1.3v1.3h-1.3zM408 338h1.3v1.3h-1.3zM409 338h1.3v1.3h-1.3zM410 338h1.3v1.3h-1.3zM405 339h1.3v1.3h-1.3zM408 339h1.3v1.3h-1.3zM409 339h1.3v1.3h-1.3zM409 340h1.3v1.3h-1.3z"/>
<line x1="72.55" y1="44.8" x2="72.55" y2="184.1" stroke="#111" stroke-width="1.6"/>
<line x1="68.05" y1="48.5" x2="72.55" y2="48.5" stroke="#111" stroke-width="1.3"/>
<line x1="68.05" y1="93.4" x2="72.55" y2="93.4" stroke="#111" stroke-width="1.3"/>
<line x1="68.05" y1="138.4" x2="72.55" y2="138.4" stroke="#111" stroke-width="1.3"/>
<line x1="68.05" y1="183.4" x2="72.55" y2="183.4" stroke="#111" stroke-width="1.3"/>
<line x1="68.05" y1="183.5" x2="163" y2="183.5" stroke="#111" stroke-width="1.3"/>
<line x1="98.2" y1="183.5" x2="98.2" y2="187.5" stroke="#111" stroke-width="1.4"/>
<line x1="136.6" y1="183.5" x2="136.6" y2="187.5" stroke="#111" stroke-width="1.4"/>
<line x1="200.6" y1="44.7" x2="200.6" y2="184.1" stroke="#111" stroke-width="1.6"/>
<line x1="196.1" y1="48.3" x2="200.6" y2="48.3" stroke="#111" stroke-width="1.3"/>
<line x1="196.1" y1="93.4" x2="200.6" y2="93.4" stroke="#111" stroke-width="1.3"/>
<line x1="196.1" y1="138.5" x2="200.6" y2="138.5" stroke="#111" stroke-width="1.3"/>
<line x1="196.1" y1="183.4" x2="200.6" y2="183.4" stroke="#111" stroke-width="1.3"/>
<line x1="196.1" y1="183.5" x2="292" y2="183.5" stroke="#111" stroke-width="1.3"/>
<line x1="227.2" y1="183.5" x2="227.2" y2="187.5" stroke="#111" stroke-width="1.4"/>
<line x1="266" y1="183.5" x2="266" y2="187.5" stroke="#111" stroke-width="1.4"/>
<line x1="98" y1="134.7" x2="136.5" y2="92.8" stroke="#111" stroke-width="1.3"/>
<line x1="98" y1="154.8" x2="136.5" y2="107" stroke="#111" stroke-width="1.3"/>
<line x1="98" y1="173.5" x2="136.5" y2="101.8" stroke="#111" stroke-width="1.3"/>
<circle cx="98" cy="134.7" r="2.5" fill="#b80f2c"/>
<circle cx="98" cy="154.8" r="2.5" fill="#b80f2c"/>
<circle cx="98" cy="173.5" r="2.5" fill="#b80f2c"/>
<circle cx="136.5" cy="92.8" r="2.5" fill="#b80f2c"/>
<circle cx="136.5" cy="107" r="2.5" fill="#b80f2c"/>
<circle cx="136.5" cy="101.8" r="2.5" fill="#b80f2c"/>
<line x1="227.2" y1="165" x2="266" y2="87.1" stroke="#111" stroke-width="1.3"/>
<line x1="227.2" y1="174" x2="266" y2="130.7" stroke="#111" stroke-width="1.3"/>
<line x1="227.2" y1="180.7" x2="266" y2="145.4" stroke="#111" stroke-width="1.3"/>
<circle cx="227.2" cy="165" r="2.5" fill="#b80f2c"/>
<circle cx="227.2" cy="174" r="2.5" fill="#b80f2c"/>
<circle cx="227.2" cy="180.7" r="2.5" fill="#b80f2c"/>
<circle cx="266" cy="87.1" r="2.5" fill="#b80f2c"/>
<circle cx="266" cy="130.7" r="2.5" fill="#b80f2c"/>
<circle cx="266" cy="145.4" r="2.5" fill="#b80f2c"/>
<rect x="82.4" y="367.9" width="16.299999999999997" height="28.30000000000001" fill="#e48c7c"/>
<rect x="110" y="363.1" width="16.200000000000003" height="33.099999999999966" fill="#e48c7c"/>
<rect x="137.3" y="333.5" width="16.099999999999994" height="62.69999999999999" fill="#e48c7c"/>
<line x1="72.55" y1="256.3" x2="72.55" y2="396.8" stroke="#111" stroke-width="1.6"/>
<line x1="68" y1="259.6" x2="72.5" y2="259.6" stroke="#111" stroke-width="1.3"/>
<line x1="68" y1="286.8" x2="72.5" y2="286.8" stroke="#111" stroke-width="1.3"/>
<line x1="68" y1="314" x2="72.5" y2="314" stroke="#111" stroke-width="1.3"/>
<line x1="68" y1="341.4" x2="72.5" y2="341.4" stroke="#111" stroke-width="1.3"/>
<line x1="68" y1="368.7" x2="72.5" y2="368.7" stroke="#111" stroke-width="1.3"/>
<line x1="68" y1="396.2" x2="72.5" y2="396.2" stroke="#111" stroke-width="1.3"/>
<line x1="68" y1="396.2" x2="163.8" y2="396.2" stroke="#111" stroke-width="1.3"/>
<line x1="90.5" y1="396.2" x2="90.5" y2="400" stroke="#111" stroke-width="1.4"/>
<line x1="117.8" y1="396.2" x2="117.8" y2="400" stroke="#111" stroke-width="1.4"/>
<line x1="145.2" y1="396.2" x2="145.2" y2="400" stroke="#111" stroke-width="1.4"/>
<line x1="90.6" y1="350.3" x2="90.6" y2="383.2" stroke="#222" stroke-width="1.3"/>
<line x1="85.8" y1="350.3" x2="95.39999999999999" y2="350.3" stroke="#222" stroke-width="1.3"/>
<line x1="85.8" y1="383.2" x2="95.39999999999999" y2="383.2" stroke="#222" stroke-width="1.3"/>
<line x1="117.8" y1="345.4" x2="117.8" y2="378.5" stroke="#222" stroke-width="1.3"/>
<line x1="113.0" y1="345.4" x2="122.6" y2="345.4" stroke="#222" stroke-width="1.3"/>
<line x1="113.0" y1="378.5" x2="122.6" y2="378.5" stroke="#222" stroke-width="1.3"/>
<line x1="145.2" y1="293.5" x2="145.2" y2="371.9" stroke="#222" stroke-width="1.3"/>
<line x1="140.39999999999998" y1="293.5" x2="150.0" y2="293.5" stroke="#222" stroke-width="1.3"/>
<line x1="140.39999999999998" y1="371.9" x2="150.0" y2="371.9" stroke="#222" stroke-width="1.3"/>
<circle cx="90.6" cy="347.8" r="2.3" fill="#b80f2c"/>
<circle cx="86.6" cy="377.5" r="2.3" fill="#b80f2c"/>
<circle cx="94.8" cy="375" r="2.3" fill="#b80f2c"/>
<circle cx="117.8" cy="343.1" r="2.3" fill="#b80f2c"/>
<circle cx="117.8" cy="366.9" r="2.3" fill="#b80f2c"/>
<circle cx="117.8" cy="375.4" r="2.3" fill="#b80f2c"/>
<circle cx="145.1" cy="288.8" r="2.3" fill="#b80f2c"/>
<circle cx="145.1" cy="343.6" r="2.3" fill="#b80f2c"/>
<circle cx="145.1" cy="365.1" r="2.3" fill="#b80f2c"/>
<rect x="211.3" y="379.2" width="16.799999999999983" height="17.0" fill="#e48c7c"/>
<rect x="238.9" y="298" width="16.099999999999994" height="98.19999999999999" fill="#e48c7c"/>
<rect x="266.3" y="283.8" width="15.5" height="112.39999999999998" fill="#e48c7c"/>
<line x1="200.6" y1="257.4" x2="200.6" y2="396.8" stroke="#111" stroke-width="1.6"/>
<line x1="197" y1="260.2" x2="201" y2="260.2" stroke="#111" stroke-width="1.3"/>
<line x1="197" y1="305.6" x2="201" y2="305.6" stroke="#111" stroke-width="1.3"/>
<line x1="197" y1="351" x2="201" y2="351" stroke="#111" stroke-width="1.3"/>
<line x1="197" y1="396.2" x2="201" y2="396.2" stroke="#111" stroke-width="1.3"/>
<line x1="197" y1="396.2" x2="291" y2="396.2" stroke="#111" stroke-width="1.3"/>
<line x1="219.5" y1="396.2" x2="219.5" y2="400" stroke="#111" stroke-width="1.4"/>
<line x1="246.8" y1="396.2" x2="246.8" y2="400" stroke="#111" stroke-width="1.4"/>
<line x1="274" y1="396.2" x2="274" y2="400" stroke="#111" stroke-width="1.4"/>
<circle cx="219.6" cy="379.2" r="2.3" fill="#b80f2c"/>
<circle cx="246.8" cy="297.5" r="2.3" fill="#b80f2c"/>
<circle cx="274" cy="283.5" r="2.3" fill="#b80f2c"/>
<rect x="386" y="62" width="112.5" height="112.30000000000001" fill="none" stroke="#444" stroke-width="1.1"/>
<line x1="426.5" y1="62" x2="426.5" y2="174.3" stroke="#333" stroke-width="1.2"/>
<line x1="386" y1="122.5" x2="498.5" y2="122.5" stroke="#333" stroke-width="1.2"/>
<line x1="383.3" y1="72.7" x2="386" y2="72.7" stroke="#333" stroke-width="1"/>
<line x1="383.3" y1="96" x2="386" y2="96" stroke="#333" stroke-width="1"/>
<line x1="383.3" y1="122.7" x2="386" y2="122.7" stroke="#333" stroke-width="1"/>
<line x1="384.5" y1="80.22574989159953" x2="386" y2="80.22574989159953" stroke="#777" stroke-width="0.7"/>
<line x1="384.5" y1="84.62803136799157" x2="386" y2="84.62803136799157" stroke="#777" stroke-width="0.7"/>
<line x1="384.5" y1="87.75149978319907" x2="386" y2="87.75149978319907" stroke="#777" stroke-width="0.7"/>
<line x1="384.5" y1="90.17425010840047" x2="386" y2="90.17425010840047" stroke="#777" stroke-width="0.7"/>
<line x1="384.5" y1="92.15378125959109" x2="386" y2="92.15378125959109" stroke="#777" stroke-width="0.7"/>
<line x1="384.5" y1="93.82745100035642" x2="386" y2="93.82745100035642" stroke="#777" stroke-width="0.7"/>
<line x1="384.5" y1="95.27724967479858" x2="386" y2="95.27724967479858" stroke="#777" stroke-width="0.7"/>
<line x1="384.5" y1="96.55606273598312" x2="386" y2="96.55606273598312" stroke="#777" stroke-width="0.7"/>
<line x1="384.5" y1="103.52574989159953" x2="386" y2="103.52574989159953" stroke="#777" stroke-width="0.7"/>
<line x1="384.5" y1="107.92803136799157" x2="386" y2="107.92803136799157" stroke="#777" stroke-width="0.7"/>
<line x1="384.5" y1="111.05149978319906" x2="386" y2="111.05149978319906" stroke="#777" stroke-width="0.7"/>
<line x1="384.5" y1="113.47425010840047" x2="386" y2="113.47425010840047" stroke="#777" stroke-width="0.7"/>
<line x1="384.5" y1="115.4537812595911" x2="386" y2="115.4537812595911" stroke="#777" stroke-width="0.7"/>
<line x1="384.5" y1="117.12745100035642" x2="386" y2="117.12745100035642" stroke="#777" stroke-width="0.7"/>
<line x1="384.5" y1="118.5772496747986" x2="386" y2="118.5772496747986" stroke="#777" stroke-width="0.7"/>
<line x1="384.5" y1="119.85606273598313" x2="386" y2="119.85606273598313" stroke="#777" stroke-width="0.7"/>
<rect x="383.4" y="146.5" width="2.6" height="6.5" fill="#111"/>
<line x1="402.3" y1="174.3" x2="402.3" y2="176.8" stroke="#333" stroke-width="1"/>
<line x1="422.6" y1="174.3" x2="422.6" y2="176.8" stroke="#333" stroke-width="1"/>
<line x1="462.6" y1="174.3" x2="462.6" y2="176.8" stroke="#333" stroke-width="1"/>
<rect x="399.6" y="174.3" width="5.7" height="2.4" fill="#111"/>
<line x1="434.6411998265593" y1="174.3" x2="434.6411998265593" y2="175.8" stroke="#777" stroke-width="0.7"/>
<line x1="474.6411998265593" y1="174.3" x2="474.6411998265593" y2="175.8" stroke="#777" stroke-width="0.7"/>
<line x1="441.6848501887865" y1="174.3" x2="441.6848501887865" y2="175.8" stroke="#777" stroke-width="0.7"/>
<line x1="481.6848501887865" y1="174.3" x2="481.6848501887865" y2="175.8" stroke="#777" stroke-width="0.7"/>
<line x1="446.6823996531185" y1="174.3" x2="446.6823996531185" y2="175.8" stroke="#777" stroke-width="0.7"/>
<line x1="486.6823996531185" y1="174.3" x2="486.6823996531185" y2="175.8" stroke="#777" stroke-width="0.7"/>
<line x1="450.5588001734408" y1="174.3" x2="450.5588001734408" y2="175.8" stroke="#777" stroke-width="0.7"/>
<line x1="490.5588001734408" y1="174.3" x2="490.5588001734408" y2="175.8" stroke="#777" stroke-width="0.7"/>
<line x1="453.7260500153458" y1="174.3" x2="453.7260500153458" y2="175.8" stroke="#777" stroke-width="0.7"/>
<line x1="493.7260500153458" y1="174.3" x2="493.7260500153458" y2="175.8" stroke="#777" stroke-width="0.7"/>
<line x1="456.4039216005703" y1="174.3" x2="456.4039216005703" y2="175.8" stroke="#777" stroke-width="0.7"/>
<line x1="496.4039216005703" y1="174.3" x2="496.4039216005703" y2="175.8" stroke="#777" stroke-width="0.7"/>
<line x1="458.7235994796778" y1="174.3" x2="458.7235994796778" y2="175.8" stroke="#777" stroke-width="0.7"/>
<line x1="460.76970037757303" y1="174.3" x2="460.76970037757303" y2="175.8" stroke="#777" stroke-width="0.7"/>
<rect x="386" y="247" width="112.5" height="112.30000000000001" fill="none" stroke="#444" stroke-width="1.1"/>
<line x1="423.7" y1="247" x2="423.7" y2="359.3" stroke="#333" stroke-width="1.2"/>
<line x1="386" y1="322.5" x2="498.5" y2="322.5" stroke="#333" stroke-width="1.2"/>
<line x1="383.3" y1="257.7" x2="386" y2="257.7" stroke="#333" stroke-width="1"/>
<line x1="383.3" y1="281" x2="386" y2="281" stroke="#333" stroke-width="1"/>
<line x1="383.3" y1="307.7" x2="386" y2="307.7" stroke="#333" stroke-width="1"/>
<line x1="384.5" y1="265.22574989159955" x2="386" y2="265.22574989159955" stroke="#777" stroke-width="0.7"/>
<line x1="384.5" y1="269.6280313679916" x2="386" y2="269.6280313679916" stroke="#777" stroke-width="0.7"/>
<line x1="384.5" y1="272.75149978319905" x2="386" y2="272.75149978319905" stroke="#777" stroke-width="0.7"/>
<line x1="384.5" y1="275.1742501084005" x2="386" y2="275.1742501084005" stroke="#777" stroke-width="0.7"/>
<line x1="384.5" y1="277.1537812595911" x2="386" y2="277.1537812595911" stroke="#777" stroke-width="0.7"/>
<line x1="384.5" y1="278.8274510003564" x2="386" y2="278.8274510003564" stroke="#777" stroke-width="0.7"/>
<line x1="384.5" y1="280.27724967479855" x2="386" y2="280.27724967479855" stroke="#777" stroke-width="0.7"/>
<line x1="384.5" y1="281.5560627359831" x2="386" y2="281.5560627359831" stroke="#777" stroke-width="0.7"/>
<line x1="384.5" y1="288.5257498915995" x2="386" y2="288.5257498915995" stroke="#777" stroke-width="0.7"/>
<line x1="384.5" y1="292.9280313679916" x2="386" y2="292.9280313679916" stroke="#777" stroke-width="0.7"/>
<line x1="384.5" y1="296.05149978319906" x2="386" y2="296.05149978319906" stroke="#777" stroke-width="0.7"/>
<line x1="384.5" y1="298.4742501084005" x2="386" y2="298.4742501084005" stroke="#777" stroke-width="0.7"/>
<line x1="384.5" y1="300.4537812595911" x2="386" y2="300.4537812595911" stroke="#777" stroke-width="0.7"/>
<line x1="384.5" y1="302.1274510003564" x2="386" y2="302.1274510003564" stroke="#777" stroke-width="0.7"/>
<line x1="384.5" y1="303.5772496747986" x2="386" y2="303.5772496747986" stroke="#777" stroke-width="0.7"/>
<line x1="384.5" y1="304.85606273598313" x2="386" y2="304.85606273598313" stroke="#777" stroke-width="0.7"/>
<rect x="383.4" y="334.8" width="2.6" height="6.5" fill="#111"/>
<line x1="402.3" y1="359.3" x2="402.3" y2="361.8" stroke="#333" stroke-width="1"/>
<line x1="422.6" y1="359.3" x2="422.6" y2="361.8" stroke="#333" stroke-width="1"/>
<line x1="462.6" y1="359.3" x2="462.6" y2="361.8" stroke="#333" stroke-width="1"/>
<rect x="399.6" y="359.3" width="5.7" height="2.4" fill="#111"/>
<line x1="434.6411998265593" y1="359.3" x2="434.6411998265593" y2="360.8" stroke="#777" stroke-width="0.7"/>
<line x1="474.6411998265593" y1="359.3" x2="474.6411998265593" y2="360.8" stroke="#777" stroke-width="0.7"/>
<line x1="441.6848501887865" y1="359.3" x2="441.6848501887865" y2="360.8" stroke="#777" stroke-width="0.7"/>
<line x1="481.6848501887865" y1="359.3" x2="481.6848501887865" y2="360.8" stroke="#777" stroke-width="0.7"/>
<line x1="446.6823996531185" y1="359.3" x2="446.6823996531185" y2="360.8" stroke="#777" stroke-width="0.7"/>
<line x1="486.6823996531185" y1="359.3" x2="486.6823996531185" y2="360.8" stroke="#777" stroke-width="0.7"/>
<line x1="450.5588001734408" y1="359.3" x2="450.5588001734408" y2="360.8" stroke="#777" stroke-width="0.7"/>
<line x1="490.5588001734408" y1="359.3" x2="490.5588001734408" y2="360.8" stroke="#777" stroke-width="0.7"/>
<line x1="453.7260500153458" y1="359.3" x2="453.7260500153458" y2="360.8" stroke="#777" stroke-width="0.7"/>
<line x1="493.7260500153458" y1="359.3" x2="493.7260500153458" y2="360.8" stroke="#777" stroke-width="0.7"/>
<line x1="456.4039216005703" y1="359.3" x2="456.4039216005703" y2="360.8" stroke="#777" stroke-width="0.7"/>
<line x1="496.4039216005703" y1="359.3" x2="496.4039216005703" y2="360.8" stroke="#777" stroke-width="0.7"/>
<line x1="458.7235994796778" y1="359.3" x2="458.7235994796778" y2="360.8" stroke="#777" stroke-width="0.7"/>
<line x1="460.76970037757303" y1="359.3" x2="460.76970037757303" y2="360.8" stroke="#777" stroke-width="0.7"/>
<text transform="translate(8.70,21.40) scale(1.000,1)" font-size="15" font-weight="bold" fill="#111">A</text>
<text transform="translate(312.62,21.50) scale(0.984,1)" font-size="15" font-weight="bold" fill="#111">B</text>
<text transform="translate(8.69,233.20) scale(1.026,1)" font-size="15" font-weight="bold" fill="#111">C</text>
<text transform="translate(89.00,21.40) scale(1.007,1)" font-size="12" fill="#111">CD33 mRNA expression in HSPCs</text>
<text transform="translate(85.24,38.00) scale(1.013,1)" font-size="10" fill="#111">Human mRNA</text>
<text transform="translate(212.43,38.00) scale(1.033,1)" font-size="10" fill="#111">Rhesus mRNA</text>
<text transform="translate(33.30,170.06) rotate(-90) scale(0.757,1)" font-size="10.8" style="stroke-width:0.45px" fill="#111">Normalized mRNA expression</text>
<text transform="translate(41.00,51.80) scale(1.000,1)" font-size="10" letter-spacing="0.35" fill="#111">1500</text>
<text transform="translate(41.00,96.70) scale(1.000,1)" font-size="10" letter-spacing="0.35" fill="#111">1000</text>
<text transform="translate(47.00,141.70) scale(1.000,1)" font-size="10" letter-spacing="0.35" fill="#111">500</text>
<text transform="translate(58.75,186.70) scale(1.000,1)" font-size="10" letter-spacing="0.35" fill="#111">0</text>
<text transform="translate(86.38,200.20) scale(1.100,1)" font-size="10" fill="#111">HSC</text>
<text transform="translate(124.50,200.20) scale(1.100,1)" font-size="10" fill="#111">EMP</text>
<text transform="translate(164.35,51.60) scale(1.000,1)" font-size="10" letter-spacing="0.35" fill="#111">15000</text>
<text transform="translate(164.35,96.70) scale(1.000,1)" font-size="10" letter-spacing="0.35" fill="#111">10000</text>
<text transform="translate(170.10,141.80) scale(1.000,1)" font-size="10" letter-spacing="0.35" fill="#111">5000</text>
<text transform="translate(187.85,186.70) scale(1.000,1)" font-size="10" letter-spacing="0.35" fill="#111">0</text>
<text transform="translate(215.38,200.20) scale(1.100,1)" font-size="10" fill="#111">HSC</text>
<text transform="translate(253.90,200.20) scale(1.100,1)" font-size="10" fill="#111">EMP</text>
<text transform="translate(94.90,232.40) scale(1.008,1)" font-size="12" fill="#111">CD33 antigen density on HSPCs</text>
<text transform="translate(101.53,249.20) scale(1.029,1)" font-size="10" fill="#111">Human</text>
<text transform="translate(230.04,249.60) scale(1.020,1)" font-size="10" fill="#111">Rhesus</text>
<text transform="translate(33.70,367.10) rotate(-90) scale(0.794,1)" font-size="10.5" font-weight="bold" fill="#111">#of antigens per cell</text>
<text transform="translate(41.10,262.90) scale(1.000,1)" font-size="10" letter-spacing="0.35" fill="#111">2500</text>
<text transform="translate(41.10,290.10) scale(1.000,1)" font-size="10" letter-spacing="0.35" fill="#111">2000</text>
<text transform="translate(41.10,317.30) scale(1.000,1)" font-size="10" letter-spacing="0.35" fill="#111">1500</text>
<text transform="translate(41.10,344.70) scale(1.000,1)" font-size="10" letter-spacing="0.35" fill="#111">1000</text>
<text transform="translate(47.10,372.00) scale(1.000,1)" font-size="10" letter-spacing="0.35" fill="#111">500</text>
<text transform="translate(58.85,399.50) scale(1.000,1)" font-size="10" letter-spacing="0.35" fill="#111">0</text>
<text transform="translate(79.20,412.50) scale(1.065,1)" font-size="10" fill="#111">HSC</text>
<text transform="translate(106.73,412.50) scale(1.029,1)" font-size="10" fill="#111">EMP</text>
<text transform="translate(134.05,412.50) scale(0.997,1)" font-size="10" fill="#111">LMP</text>
<text transform="translate(175.90,263.50) scale(1.000,1)" font-size="10" letter-spacing="0.35" fill="#111">600</text>
<text transform="translate(175.90,308.90) scale(1.000,1)" font-size="10" letter-spacing="0.35" fill="#111">400</text>
<text transform="translate(175.90,354.30) scale(1.000,1)" font-size="10" letter-spacing="0.35" fill="#111">200</text>
<text transform="translate(187.65,399.50) scale(1.000,1)" font-size="10" letter-spacing="0.35" fill="#111">0</text>
<text transform="translate(208.20,412.30) scale(1.070,1)" font-size="10" fill="#111">HSC</text>
<text transform="translate(235.74,412.30) scale(1.015,1)" font-size="10" fill="#111">EMP</text>
<text transform="translate(263.21,412.30) scale(1.049,1)" font-size="10" fill="#111">LMP</text>
<text transform="translate(370.50,30.50) scale(1.006,1)" font-size="12" fill="#111">CD33 protein presentation</text>
<text transform="translate(420.14,55.40) scale(1.145,1)" font-size="10" fill="#111">[CD34<tspan font-size="8.5" dy="-4">+</tspan><tspan dy="4">]</tspan></text>
<text transform="translate(420.56,239.60) scale(1.119,1)" font-size="10" fill="#111">[CD34<tspan font-size="8.5" dy="-4">+</tspan><tspan dy="4">]</tspan></text>
<text transform="translate(387.48,74.20) scale(1.046,1)" font-size="14" fill="#111">30.1</text>
<text transform="translate(465.74,74.60) scale(1.142,1)" font-size="14" fill="#111">22.2</text>
<text transform="translate(386.82,170.70) scale(1.082,1)" font-size="14" fill="#111">11.3</text>
<text transform="translate(468.65,171.20) scale(1.100,1)" font-size="14" fill="#111">35.7</text>
<text transform="translate(387.34,260.30) scale(1.112,1)" font-size="14" fill="#111">30.6</text>
<text transform="translate(466.95,260.90) scale(1.101,1)" font-size="14" fill="#111">0.30</text>
<text transform="translate(388.88,356.90) scale(1.100,1)" font-size="14" fill="#111">67.0</text>
<text transform="translate(464.27,356.90) scale(1.104,1)" font-size="14" fill="#111">2.05</text>
<text transform="translate(362.16,75.40) scale(1.114,1)" font-size="10" fill="#111">10<tspan font-size="7" dy="-3.3">5</tspan></text>
<text transform="translate(362.63,99.70) scale(1.021,1)" font-size="10" fill="#111">10<tspan font-size="7" dy="-3.3">4</tspan></text>
<text transform="translate(362.19,128.40) scale(1.086,1)" font-size="10" fill="#111">10<tspan font-size="7" dy="-3.3">3</tspan></text>
<text transform="translate(372.75,152.60) scale(1.000,1)" font-size="10" fill="#111">0</text>
<text transform="translate(398.36,190.20) scale(1.150,1)" font-size="10" fill="#111">0</text>
<text transform="translate(415.33,190.10) scale(1.021,1)" font-size="10" fill="#111">10<tspan font-size="7" dy="-3.3">2</tspan></text>
<text transform="translate(455.02,190.20) scale(1.036,1)" font-size="10" fill="#111">10<tspan font-size="7" dy="-3.3">3</tspan></text>
<text transform="translate(362.16,260.40) scale(1.114,1)" font-size="10" fill="#111">10<tspan font-size="7" dy="-3.3">5</tspan></text>
<text transform="translate(362.63,284.70) scale(1.021,1)" font-size="10" fill="#111">10<tspan font-size="7" dy="-3.3">4</tspan></text>
<text transform="translate(362.19,313.40) scale(1.086,1)" font-size="10" fill="#111">10<tspan font-size="7" dy="-3.3">3</tspan></text>
<text transform="translate(372.75,341.60) scale(1.000,1)" font-size="10" fill="#111">0</text>
<text transform="translate(398.96,375.20) scale(1.150,1)" font-size="10" fill="#111">0</text>
<text transform="translate(415.33,375.10) scale(1.021,1)" font-size="10" fill="#111">10<tspan font-size="7" dy="-3.3">2</tspan></text>
<text transform="translate(455.02,375.20) scale(1.036,1)" font-size="10" fill="#111">10<tspan font-size="7" dy="-3.3">3</tspan></text>
<text transform="translate(431.37,207.00) scale(0.664,1)" font-size="11" style="stroke-width:0.45px" fill="#111">CD33</text>
<text transform="translate(431.25,391.90) scale(0.705,1)" font-size="11" style="stroke-width:0.45px" fill="#111">CD33</text>
<text transform="translate(337.40,137.84) rotate(-90) scale(1.040,1)" font-size="11" fill="#111">Human</text>
<text transform="translate(355.00,129.77) rotate(-90) scale(0.746,1)" font-size="10.5" font-weight="bold" fill="#111">CD90</text>
<text transform="translate(337.30,323.82) rotate(-90) scale(1.017,1)" font-size="11" fill="#111">Rhesus</text>
<text transform="translate(354.40,313.95) rotate(-90) scale(0.700,1)" font-size="10.5" font-weight="bold" fill="#111">CD90</text>
<rect x="4.5" y="4.5" width="511" height="414" fill="none" stroke="#f0f0f0" stroke-width="1"/>
<rect x="0.5" y="0.5" width="519" height="423" fill="none" stroke="#333" stroke-width="1.2"/>
</svg></body></html>
